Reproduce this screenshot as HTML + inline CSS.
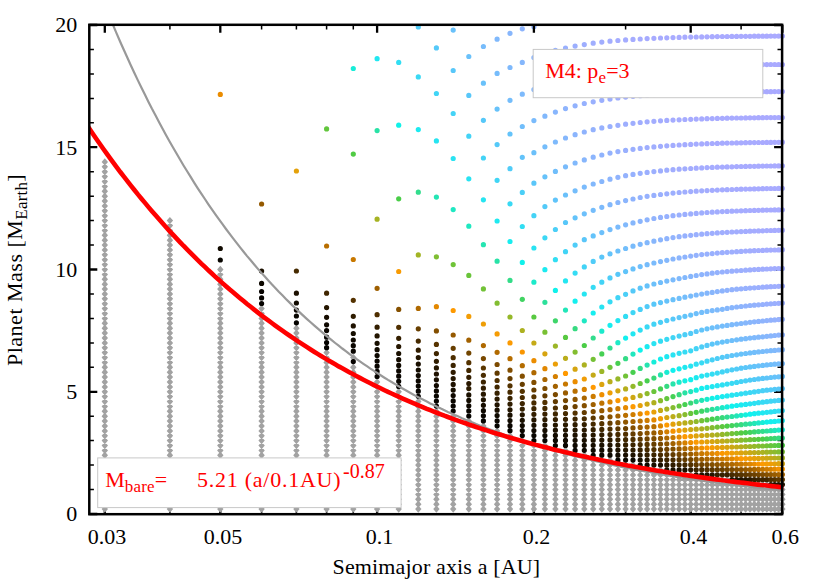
<!DOCTYPE html>
<html><head><meta charset="utf-8"><title>Planet Mass vs Semimajor axis</title>
<style>
html,body{margin:0;padding:0;background:#fff}
body{width:830px;height:581px;position:relative;overflow:hidden;font-family:"Liberation Serif",serif;color:#000}
.t{position:absolute;white-space:nowrap;font-size:22px;line-height:22px}
.yt{text-align:right;width:60px;left:17.3px}
.xt{text-align:center;width:80px;top:525.8px}
.r{color:#ff0000}
sub{font-size:17px;letter-spacing:0.2px;vertical-align:baseline;position:relative;top:5px;line-height:0}
sup{font-size:20px;vertical-align:baseline;position:relative;top:-9px;line-height:0}
</style></head><body>
<svg width="830" height="581" viewBox="0 0 830 581" style="position:absolute;left:0;top:0">
<defs><clipPath id="c"><rect x="89.3" y="20.8" width="696.8" height="493.4"/></clipPath><clipPath id="c2"><rect x="89.3" y="24.8" width="694.0" height="489.4"/></clipPath></defs>
<rect width="830" height="581" fill="#fff"/>
<path stroke="#000" stroke-width="2.3" d="M104.8 514.2v-8M220.3 514.2v-8M377.1 514.2v-8M533.9 514.2v-8M690.7 514.2v-8M782.4 514.2v-8"/>
<path stroke="#000" stroke-width="1.5" d="M169.9 514.2v-4.6M261.6 514.2v-4.6M296.4 514.2v-4.6M326.6 514.2v-4.6M353.3 514.2v-4.6M625.6 514.2v-4.6M741.1 514.2v-4.6"/>
<path stroke="#000" stroke-width="2.3" d="M89.3 514.0h8.0M782.1 514.0h-8.0M89.3 391.8h8.0M782.1 391.8h-8.0M89.3 269.5h8.0M782.1 269.5h-8.0M89.3 147.2h8.0M782.1 147.2h-8.0M89.3 25.0h8.0M782.1 25.0h-8.0"/>
<path stroke="#000" stroke-width="1.5" d="M89.3 489.6h4.6M782.1 489.6h-4.6M89.3 465.1h4.6M782.1 465.1h-4.6M89.3 440.6h4.6M782.1 440.6h-4.6M89.3 416.2h4.6M782.1 416.2h-4.6M89.3 367.3h4.6M782.1 367.3h-4.6M89.3 342.9h4.6M782.1 342.9h-4.6M89.3 318.4h4.6M782.1 318.4h-4.6M89.3 294.0h4.6M782.1 294.0h-4.6M89.3 245.1h4.6M782.1 245.1h-4.6M89.3 220.6h4.6M782.1 220.6h-4.6M89.3 196.2h4.6M782.1 196.2h-4.6M89.3 171.7h4.6M782.1 171.7h-4.6M89.3 122.8h4.6M782.1 122.8h-4.6M89.3 98.4h4.6M782.1 98.4h-4.6M89.3 73.9h4.6M782.1 73.9h-4.6M89.3 49.4h4.6M782.1 49.4h-4.6"/>
<g clip-path="url(#c)"><path fill="#a2a2a2" d="M104.8 505.4l3.2 3.7l-3.2 3.7l-3.2 -3.7zM104.8 500.5l3.2 3.7l-3.2 3.7l-3.2 -3.7zM104.8 495.6l3.2 3.7l-3.2 3.7l-3.2 -3.7zM104.8 490.7l3.2 3.7l-3.2 3.7l-3.2 -3.7zM104.8 485.9l3.2 3.7l-3.2 3.7l-3.2 -3.7zM104.8 481.0l3.2 3.7l-3.2 3.7l-3.2 -3.7zM104.8 476.1l3.2 3.7l-3.2 3.7l-3.2 -3.7zM104.8 471.2l3.2 3.7l-3.2 3.7l-3.2 -3.7zM104.8 466.3l3.2 3.7l-3.2 3.7l-3.2 -3.7zM104.8 461.4l3.2 3.7l-3.2 3.7l-3.2 -3.7zM104.8 456.5l3.2 3.7l-3.2 3.7l-3.2 -3.7zM104.8 451.6l3.2 3.7l-3.2 3.7l-3.2 -3.7zM104.8 446.7l3.2 3.7l-3.2 3.7l-3.2 -3.7zM104.8 441.8l3.2 3.7l-3.2 3.7l-3.2 -3.7zM104.8 436.9l3.2 3.7l-3.2 3.7l-3.2 -3.7zM104.8 432.1l3.2 3.7l-3.2 3.7l-3.2 -3.7zM104.8 427.2l3.2 3.7l-3.2 3.7l-3.2 -3.7zM104.8 422.3l3.2 3.7l-3.2 3.7l-3.2 -3.7zM104.8 417.4l3.2 3.7l-3.2 3.7l-3.2 -3.7zM104.8 412.5l3.2 3.7l-3.2 3.7l-3.2 -3.7zM104.8 407.6l3.2 3.7l-3.2 3.7l-3.2 -3.7zM104.8 402.7l3.2 3.7l-3.2 3.7l-3.2 -3.7zM104.8 397.8l3.2 3.7l-3.2 3.7l-3.2 -3.7zM104.8 392.9l3.2 3.7l-3.2 3.7l-3.2 -3.7zM104.8 388.1l3.2 3.7l-3.2 3.7l-3.2 -3.7zM104.8 383.2l3.2 3.7l-3.2 3.7l-3.2 -3.7zM104.8 378.3l3.2 3.7l-3.2 3.7l-3.2 -3.7zM104.8 373.4l3.2 3.7l-3.2 3.7l-3.2 -3.7zM104.8 368.5l3.2 3.7l-3.2 3.7l-3.2 -3.7zM104.8 363.6l3.2 3.7l-3.2 3.7l-3.2 -3.7zM104.8 358.7l3.2 3.7l-3.2 3.7l-3.2 -3.7zM104.8 353.8l3.2 3.7l-3.2 3.7l-3.2 -3.7zM104.8 348.9l3.2 3.7l-3.2 3.7l-3.2 -3.7zM104.8 344.0l3.2 3.7l-3.2 3.7l-3.2 -3.7zM104.8 339.2l3.2 3.7l-3.2 3.7l-3.2 -3.7zM104.8 334.3l3.2 3.7l-3.2 3.7l-3.2 -3.7zM104.8 329.4l3.2 3.7l-3.2 3.7l-3.2 -3.7zM104.8 324.5l3.2 3.7l-3.2 3.7l-3.2 -3.7zM104.8 319.6l3.2 3.7l-3.2 3.7l-3.2 -3.7zM104.8 314.7l3.2 3.7l-3.2 3.7l-3.2 -3.7zM104.8 309.8l3.2 3.7l-3.2 3.7l-3.2 -3.7zM104.8 304.9l3.2 3.7l-3.2 3.7l-3.2 -3.7zM104.8 300.0l3.2 3.7l-3.2 3.7l-3.2 -3.7zM104.8 295.1l3.2 3.7l-3.2 3.7l-3.2 -3.7zM104.8 290.3l3.2 3.7l-3.2 3.7l-3.2 -3.7zM104.8 285.4l3.2 3.7l-3.2 3.7l-3.2 -3.7zM104.8 280.5l3.2 3.7l-3.2 3.7l-3.2 -3.7zM104.8 275.6l3.2 3.7l-3.2 3.7l-3.2 -3.7zM104.8 270.7l3.2 3.7l-3.2 3.7l-3.2 -3.7zM104.8 265.8l3.2 3.7l-3.2 3.7l-3.2 -3.7zM104.8 260.9l3.2 3.7l-3.2 3.7l-3.2 -3.7zM104.8 256.0l3.2 3.7l-3.2 3.7l-3.2 -3.7zM104.8 251.1l3.2 3.7l-3.2 3.7l-3.2 -3.7zM104.8 246.2l3.2 3.7l-3.2 3.7l-3.2 -3.7zM104.8 241.4l3.2 3.7l-3.2 3.7l-3.2 -3.7zM104.8 236.5l3.2 3.7l-3.2 3.7l-3.2 -3.7zM104.8 231.6l3.2 3.7l-3.2 3.7l-3.2 -3.7zM104.8 226.7l3.2 3.7l-3.2 3.7l-3.2 -3.7zM104.8 221.8l3.2 3.7l-3.2 3.7l-3.2 -3.7zM104.8 216.9l3.2 3.7l-3.2 3.7l-3.2 -3.7zM104.8 212.0l3.2 3.7l-3.2 3.7l-3.2 -3.7zM104.8 207.1l3.2 3.7l-3.2 3.7l-3.2 -3.7zM104.8 202.2l3.2 3.7l-3.2 3.7l-3.2 -3.7zM104.8 197.3l3.2 3.7l-3.2 3.7l-3.2 -3.7zM104.8 192.5l3.2 3.7l-3.2 3.7l-3.2 -3.7zM104.8 187.6l3.2 3.7l-3.2 3.7l-3.2 -3.7zM104.8 182.7l3.2 3.7l-3.2 3.7l-3.2 -3.7zM104.8 177.8l3.2 3.7l-3.2 3.7l-3.2 -3.7zM104.8 172.9l3.2 3.7l-3.2 3.7l-3.2 -3.7zM104.8 168.0l3.2 3.7l-3.2 3.7l-3.2 -3.7zM104.8 163.1l3.2 3.7l-3.2 3.7l-3.2 -3.7zM104.8 158.2l3.2 3.7l-3.2 3.7l-3.2 -3.7zM169.9 505.4l3.2 3.7l-3.2 3.7l-3.2 -3.7zM169.9 500.5l3.2 3.7l-3.2 3.7l-3.2 -3.7zM169.9 495.6l3.2 3.7l-3.2 3.7l-3.2 -3.7zM169.9 490.7l3.2 3.7l-3.2 3.7l-3.2 -3.7zM169.9 485.9l3.2 3.7l-3.2 3.7l-3.2 -3.7zM169.9 481.0l3.2 3.7l-3.2 3.7l-3.2 -3.7zM169.9 476.1l3.2 3.7l-3.2 3.7l-3.2 -3.7zM169.9 471.2l3.2 3.7l-3.2 3.7l-3.2 -3.7zM169.9 466.3l3.2 3.7l-3.2 3.7l-3.2 -3.7zM169.9 461.4l3.2 3.7l-3.2 3.7l-3.2 -3.7zM169.9 456.5l3.2 3.7l-3.2 3.7l-3.2 -3.7zM169.9 451.6l3.2 3.7l-3.2 3.7l-3.2 -3.7zM169.9 446.7l3.2 3.7l-3.2 3.7l-3.2 -3.7zM169.9 441.8l3.2 3.7l-3.2 3.7l-3.2 -3.7zM169.9 436.9l3.2 3.7l-3.2 3.7l-3.2 -3.7zM169.9 432.1l3.2 3.7l-3.2 3.7l-3.2 -3.7zM169.9 427.2l3.2 3.7l-3.2 3.7l-3.2 -3.7zM169.9 422.3l3.2 3.7l-3.2 3.7l-3.2 -3.7zM169.9 417.4l3.2 3.7l-3.2 3.7l-3.2 -3.7zM169.9 412.5l3.2 3.7l-3.2 3.7l-3.2 -3.7zM169.9 407.6l3.2 3.7l-3.2 3.7l-3.2 -3.7zM169.9 402.7l3.2 3.7l-3.2 3.7l-3.2 -3.7zM169.9 397.8l3.2 3.7l-3.2 3.7l-3.2 -3.7zM169.9 392.9l3.2 3.7l-3.2 3.7l-3.2 -3.7zM169.9 388.1l3.2 3.7l-3.2 3.7l-3.2 -3.7zM169.9 383.2l3.2 3.7l-3.2 3.7l-3.2 -3.7zM169.9 378.3l3.2 3.7l-3.2 3.7l-3.2 -3.7zM169.9 373.4l3.2 3.7l-3.2 3.7l-3.2 -3.7zM169.9 368.5l3.2 3.7l-3.2 3.7l-3.2 -3.7zM169.9 363.6l3.2 3.7l-3.2 3.7l-3.2 -3.7zM169.9 358.7l3.2 3.7l-3.2 3.7l-3.2 -3.7zM169.9 353.8l3.2 3.7l-3.2 3.7l-3.2 -3.7zM169.9 348.9l3.2 3.7l-3.2 3.7l-3.2 -3.7zM169.9 344.0l3.2 3.7l-3.2 3.7l-3.2 -3.7zM169.9 339.2l3.2 3.7l-3.2 3.7l-3.2 -3.7zM169.9 334.3l3.2 3.7l-3.2 3.7l-3.2 -3.7zM169.9 329.4l3.2 3.7l-3.2 3.7l-3.2 -3.7zM169.9 324.5l3.2 3.7l-3.2 3.7l-3.2 -3.7zM169.9 319.6l3.2 3.7l-3.2 3.7l-3.2 -3.7zM169.9 314.7l3.2 3.7l-3.2 3.7l-3.2 -3.7zM169.9 309.8l3.2 3.7l-3.2 3.7l-3.2 -3.7zM169.9 304.9l3.2 3.7l-3.2 3.7l-3.2 -3.7zM169.9 300.0l3.2 3.7l-3.2 3.7l-3.2 -3.7zM169.9 295.1l3.2 3.7l-3.2 3.7l-3.2 -3.7zM169.9 290.3l3.2 3.7l-3.2 3.7l-3.2 -3.7zM169.9 285.4l3.2 3.7l-3.2 3.7l-3.2 -3.7zM169.9 280.5l3.2 3.7l-3.2 3.7l-3.2 -3.7zM169.9 275.6l3.2 3.7l-3.2 3.7l-3.2 -3.7zM169.9 270.7l3.2 3.7l-3.2 3.7l-3.2 -3.7zM169.9 265.8l3.2 3.7l-3.2 3.7l-3.2 -3.7zM169.9 260.9l3.2 3.7l-3.2 3.7l-3.2 -3.7zM169.9 256.0l3.2 3.7l-3.2 3.7l-3.2 -3.7zM169.9 251.1l3.2 3.7l-3.2 3.7l-3.2 -3.7zM169.9 246.2l3.2 3.7l-3.2 3.7l-3.2 -3.7zM169.9 241.4l3.2 3.7l-3.2 3.7l-3.2 -3.7zM169.9 236.5l3.2 3.7l-3.2 3.7l-3.2 -3.7zM169.9 231.6l3.2 3.7l-3.2 3.7l-3.2 -3.7zM169.9 226.7l3.2 3.7l-3.2 3.7l-3.2 -3.7zM169.9 221.8l3.2 3.7l-3.2 3.7l-3.2 -3.7zM169.9 216.9l3.2 3.7l-3.2 3.7l-3.2 -3.7zM220.3 505.4l3.2 3.7l-3.2 3.7l-3.2 -3.7zM220.3 500.5l3.2 3.7l-3.2 3.7l-3.2 -3.7zM220.3 495.6l3.2 3.7l-3.2 3.7l-3.2 -3.7zM220.3 490.7l3.2 3.7l-3.2 3.7l-3.2 -3.7zM220.3 485.9l3.2 3.7l-3.2 3.7l-3.2 -3.7zM220.3 481.0l3.2 3.7l-3.2 3.7l-3.2 -3.7zM220.3 476.1l3.2 3.7l-3.2 3.7l-3.2 -3.7zM220.3 471.2l3.2 3.7l-3.2 3.7l-3.2 -3.7zM220.3 466.3l3.2 3.7l-3.2 3.7l-3.2 -3.7zM220.3 461.4l3.2 3.7l-3.2 3.7l-3.2 -3.7zM220.3 456.5l3.2 3.7l-3.2 3.7l-3.2 -3.7zM220.3 451.6l3.2 3.7l-3.2 3.7l-3.2 -3.7zM220.3 446.7l3.2 3.7l-3.2 3.7l-3.2 -3.7zM220.3 441.8l3.2 3.7l-3.2 3.7l-3.2 -3.7zM220.3 436.9l3.2 3.7l-3.2 3.7l-3.2 -3.7zM220.3 432.1l3.2 3.7l-3.2 3.7l-3.2 -3.7zM220.3 427.2l3.2 3.7l-3.2 3.7l-3.2 -3.7zM220.3 422.3l3.2 3.7l-3.2 3.7l-3.2 -3.7zM220.3 417.4l3.2 3.7l-3.2 3.7l-3.2 -3.7zM220.3 412.5l3.2 3.7l-3.2 3.7l-3.2 -3.7zM220.3 407.6l3.2 3.7l-3.2 3.7l-3.2 -3.7zM220.3 402.7l3.2 3.7l-3.2 3.7l-3.2 -3.7zM220.3 397.8l3.2 3.7l-3.2 3.7l-3.2 -3.7zM220.3 392.9l3.2 3.7l-3.2 3.7l-3.2 -3.7zM220.3 388.1l3.2 3.7l-3.2 3.7l-3.2 -3.7zM220.3 383.2l3.2 3.7l-3.2 3.7l-3.2 -3.7zM220.3 378.3l3.2 3.7l-3.2 3.7l-3.2 -3.7zM220.3 373.4l3.2 3.7l-3.2 3.7l-3.2 -3.7zM220.3 368.5l3.2 3.7l-3.2 3.7l-3.2 -3.7zM220.3 363.6l3.2 3.7l-3.2 3.7l-3.2 -3.7zM220.3 358.7l3.2 3.7l-3.2 3.7l-3.2 -3.7zM220.3 353.8l3.2 3.7l-3.2 3.7l-3.2 -3.7zM220.3 348.9l3.2 3.7l-3.2 3.7l-3.2 -3.7zM220.3 344.0l3.2 3.7l-3.2 3.7l-3.2 -3.7zM220.3 339.2l3.2 3.7l-3.2 3.7l-3.2 -3.7zM220.3 334.3l3.2 3.7l-3.2 3.7l-3.2 -3.7zM220.3 329.4l3.2 3.7l-3.2 3.7l-3.2 -3.7zM220.3 324.5l3.2 3.7l-3.2 3.7l-3.2 -3.7zM220.3 319.6l3.2 3.7l-3.2 3.7l-3.2 -3.7zM220.3 314.7l3.2 3.7l-3.2 3.7l-3.2 -3.7zM220.3 309.8l3.2 3.7l-3.2 3.7l-3.2 -3.7zM220.3 304.9l3.2 3.7l-3.2 3.7l-3.2 -3.7zM220.3 300.0l3.2 3.7l-3.2 3.7l-3.2 -3.7zM220.3 295.1l3.2 3.7l-3.2 3.7l-3.2 -3.7zM220.3 290.3l3.2 3.7l-3.2 3.7l-3.2 -3.7zM220.3 285.4l3.2 3.7l-3.2 3.7l-3.2 -3.7zM220.3 280.5l3.2 3.7l-3.2 3.7l-3.2 -3.7zM220.3 275.6l3.2 3.7l-3.2 3.7l-3.2 -3.7zM220.3 270.7l3.2 3.7l-3.2 3.7l-3.2 -3.7zM220.3 265.8l3.2 3.7l-3.2 3.7l-3.2 -3.7zM261.6 505.4l3.2 3.7l-3.2 3.7l-3.2 -3.7zM261.6 500.5l3.2 3.7l-3.2 3.7l-3.2 -3.7zM261.6 495.6l3.2 3.7l-3.2 3.7l-3.2 -3.7zM261.6 490.7l3.2 3.7l-3.2 3.7l-3.2 -3.7zM261.6 485.9l3.2 3.7l-3.2 3.7l-3.2 -3.7zM261.6 481.0l3.2 3.7l-3.2 3.7l-3.2 -3.7zM261.6 476.1l3.2 3.7l-3.2 3.7l-3.2 -3.7zM261.6 471.2l3.2 3.7l-3.2 3.7l-3.2 -3.7zM261.6 466.3l3.2 3.7l-3.2 3.7l-3.2 -3.7zM261.6 461.4l3.2 3.7l-3.2 3.7l-3.2 -3.7zM261.6 456.5l3.2 3.7l-3.2 3.7l-3.2 -3.7zM261.6 451.6l3.2 3.7l-3.2 3.7l-3.2 -3.7zM261.6 446.7l3.2 3.7l-3.2 3.7l-3.2 -3.7zM261.6 441.8l3.2 3.7l-3.2 3.7l-3.2 -3.7zM261.6 436.9l3.2 3.7l-3.2 3.7l-3.2 -3.7zM261.6 432.1l3.2 3.7l-3.2 3.7l-3.2 -3.7zM261.6 427.2l3.2 3.7l-3.2 3.7l-3.2 -3.7zM261.6 422.3l3.2 3.7l-3.2 3.7l-3.2 -3.7zM261.6 417.4l3.2 3.7l-3.2 3.7l-3.2 -3.7zM261.6 412.5l3.2 3.7l-3.2 3.7l-3.2 -3.7zM261.6 407.6l3.2 3.7l-3.2 3.7l-3.2 -3.7zM261.6 402.7l3.2 3.7l-3.2 3.7l-3.2 -3.7zM261.6 397.8l3.2 3.7l-3.2 3.7l-3.2 -3.7zM261.6 392.9l3.2 3.7l-3.2 3.7l-3.2 -3.7zM261.6 388.1l3.2 3.7l-3.2 3.7l-3.2 -3.7zM261.6 383.2l3.2 3.7l-3.2 3.7l-3.2 -3.7zM261.6 378.3l3.2 3.7l-3.2 3.7l-3.2 -3.7zM261.6 373.4l3.2 3.7l-3.2 3.7l-3.2 -3.7zM261.6 368.5l3.2 3.7l-3.2 3.7l-3.2 -3.7zM261.6 363.6l3.2 3.7l-3.2 3.7l-3.2 -3.7zM261.6 358.7l3.2 3.7l-3.2 3.7l-3.2 -3.7zM261.6 353.8l3.2 3.7l-3.2 3.7l-3.2 -3.7zM261.6 348.9l3.2 3.7l-3.2 3.7l-3.2 -3.7zM261.6 344.0l3.2 3.7l-3.2 3.7l-3.2 -3.7zM261.6 339.2l3.2 3.7l-3.2 3.7l-3.2 -3.7zM261.6 334.3l3.2 3.7l-3.2 3.7l-3.2 -3.7zM261.6 329.4l3.2 3.7l-3.2 3.7l-3.2 -3.7zM261.6 324.5l3.2 3.7l-3.2 3.7l-3.2 -3.7zM261.6 319.6l3.2 3.7l-3.2 3.7l-3.2 -3.7zM261.6 314.7l3.2 3.7l-3.2 3.7l-3.2 -3.7zM261.6 309.8l3.2 3.7l-3.2 3.7l-3.2 -3.7zM261.6 304.9l3.2 3.7l-3.2 3.7l-3.2 -3.7zM296.4 505.4l3.2 3.7l-3.2 3.7l-3.2 -3.7zM296.4 500.5l3.2 3.7l-3.2 3.7l-3.2 -3.7zM296.4 495.6l3.2 3.7l-3.2 3.7l-3.2 -3.7zM296.4 490.7l3.2 3.7l-3.2 3.7l-3.2 -3.7zM296.4 485.9l3.2 3.7l-3.2 3.7l-3.2 -3.7zM296.4 481.0l3.2 3.7l-3.2 3.7l-3.2 -3.7zM296.4 476.1l3.2 3.7l-3.2 3.7l-3.2 -3.7zM296.4 471.2l3.2 3.7l-3.2 3.7l-3.2 -3.7zM296.4 466.3l3.2 3.7l-3.2 3.7l-3.2 -3.7zM296.4 461.4l3.2 3.7l-3.2 3.7l-3.2 -3.7zM296.4 456.5l3.2 3.7l-3.2 3.7l-3.2 -3.7zM296.4 451.6l3.2 3.7l-3.2 3.7l-3.2 -3.7zM296.4 446.7l3.2 3.7l-3.2 3.7l-3.2 -3.7zM296.4 441.8l3.2 3.7l-3.2 3.7l-3.2 -3.7zM296.4 436.9l3.2 3.7l-3.2 3.7l-3.2 -3.7zM296.4 432.1l3.2 3.7l-3.2 3.7l-3.2 -3.7zM296.4 427.2l3.2 3.7l-3.2 3.7l-3.2 -3.7zM296.4 422.3l3.2 3.7l-3.2 3.7l-3.2 -3.7zM296.4 417.4l3.2 3.7l-3.2 3.7l-3.2 -3.7zM296.4 412.5l3.2 3.7l-3.2 3.7l-3.2 -3.7zM296.4 407.6l3.2 3.7l-3.2 3.7l-3.2 -3.7zM296.4 402.7l3.2 3.7l-3.2 3.7l-3.2 -3.7zM296.4 397.8l3.2 3.7l-3.2 3.7l-3.2 -3.7zM296.4 392.9l3.2 3.7l-3.2 3.7l-3.2 -3.7zM296.4 388.1l3.2 3.7l-3.2 3.7l-3.2 -3.7zM296.4 383.2l3.2 3.7l-3.2 3.7l-3.2 -3.7zM296.4 378.3l3.2 3.7l-3.2 3.7l-3.2 -3.7zM296.4 373.4l3.2 3.7l-3.2 3.7l-3.2 -3.7zM296.4 368.5l3.2 3.7l-3.2 3.7l-3.2 -3.7zM296.4 363.6l3.2 3.7l-3.2 3.7l-3.2 -3.7zM296.4 358.7l3.2 3.7l-3.2 3.7l-3.2 -3.7zM296.4 353.8l3.2 3.7l-3.2 3.7l-3.2 -3.7zM296.4 348.9l3.2 3.7l-3.2 3.7l-3.2 -3.7zM296.4 344.0l3.2 3.7l-3.2 3.7l-3.2 -3.7zM296.4 339.2l3.2 3.7l-3.2 3.7l-3.2 -3.7zM296.4 334.3l3.2 3.7l-3.2 3.7l-3.2 -3.7zM296.4 329.4l3.2 3.7l-3.2 3.7l-3.2 -3.7zM296.4 324.5l3.2 3.7l-3.2 3.7l-3.2 -3.7zM326.6 505.4l3.2 3.7l-3.2 3.7l-3.2 -3.7zM326.6 500.5l3.2 3.7l-3.2 3.7l-3.2 -3.7zM326.6 495.6l3.2 3.7l-3.2 3.7l-3.2 -3.7zM326.6 490.7l3.2 3.7l-3.2 3.7l-3.2 -3.7zM326.6 485.9l3.2 3.7l-3.2 3.7l-3.2 -3.7zM326.6 481.0l3.2 3.7l-3.2 3.7l-3.2 -3.7zM326.6 476.1l3.2 3.7l-3.2 3.7l-3.2 -3.7zM326.6 471.2l3.2 3.7l-3.2 3.7l-3.2 -3.7zM326.6 466.3l3.2 3.7l-3.2 3.7l-3.2 -3.7zM326.6 461.4l3.2 3.7l-3.2 3.7l-3.2 -3.7zM326.6 456.5l3.2 3.7l-3.2 3.7l-3.2 -3.7zM326.6 451.6l3.2 3.7l-3.2 3.7l-3.2 -3.7zM326.6 446.7l3.2 3.7l-3.2 3.7l-3.2 -3.7zM326.6 441.8l3.2 3.7l-3.2 3.7l-3.2 -3.7zM326.6 436.9l3.2 3.7l-3.2 3.7l-3.2 -3.7zM326.6 432.1l3.2 3.7l-3.2 3.7l-3.2 -3.7zM326.6 427.2l3.2 3.7l-3.2 3.7l-3.2 -3.7zM326.6 422.3l3.2 3.7l-3.2 3.7l-3.2 -3.7zM326.6 417.4l3.2 3.7l-3.2 3.7l-3.2 -3.7zM326.6 412.5l3.2 3.7l-3.2 3.7l-3.2 -3.7zM326.6 407.6l3.2 3.7l-3.2 3.7l-3.2 -3.7zM326.6 402.7l3.2 3.7l-3.2 3.7l-3.2 -3.7zM326.6 397.8l3.2 3.7l-3.2 3.7l-3.2 -3.7zM326.6 392.9l3.2 3.7l-3.2 3.7l-3.2 -3.7zM326.6 388.1l3.2 3.7l-3.2 3.7l-3.2 -3.7zM326.6 383.2l3.2 3.7l-3.2 3.7l-3.2 -3.7zM326.6 378.3l3.2 3.7l-3.2 3.7l-3.2 -3.7zM326.6 373.4l3.2 3.7l-3.2 3.7l-3.2 -3.7zM326.6 368.5l3.2 3.7l-3.2 3.7l-3.2 -3.7zM326.6 363.6l3.2 3.7l-3.2 3.7l-3.2 -3.7zM326.6 358.7l3.2 3.7l-3.2 3.7l-3.2 -3.7zM326.6 353.8l3.2 3.7l-3.2 3.7l-3.2 -3.7zM326.6 348.9l3.2 3.7l-3.2 3.7l-3.2 -3.7zM353.3 505.4l3.2 3.7l-3.2 3.7l-3.2 -3.7zM353.3 500.5l3.2 3.7l-3.2 3.7l-3.2 -3.7zM353.3 495.6l3.2 3.7l-3.2 3.7l-3.2 -3.7zM353.3 490.7l3.2 3.7l-3.2 3.7l-3.2 -3.7zM353.3 485.9l3.2 3.7l-3.2 3.7l-3.2 -3.7zM353.3 481.0l3.2 3.7l-3.2 3.7l-3.2 -3.7zM353.3 476.1l3.2 3.7l-3.2 3.7l-3.2 -3.7zM353.3 471.2l3.2 3.7l-3.2 3.7l-3.2 -3.7zM353.3 466.3l3.2 3.7l-3.2 3.7l-3.2 -3.7zM353.3 461.4l3.2 3.7l-3.2 3.7l-3.2 -3.7zM353.3 456.5l3.2 3.7l-3.2 3.7l-3.2 -3.7zM353.3 451.6l3.2 3.7l-3.2 3.7l-3.2 -3.7zM353.3 446.7l3.2 3.7l-3.2 3.7l-3.2 -3.7zM353.3 441.8l3.2 3.7l-3.2 3.7l-3.2 -3.7zM353.3 436.9l3.2 3.7l-3.2 3.7l-3.2 -3.7zM353.3 432.1l3.2 3.7l-3.2 3.7l-3.2 -3.7zM353.3 427.2l3.2 3.7l-3.2 3.7l-3.2 -3.7zM353.3 422.3l3.2 3.7l-3.2 3.7l-3.2 -3.7zM353.3 417.4l3.2 3.7l-3.2 3.7l-3.2 -3.7zM353.3 412.5l3.2 3.7l-3.2 3.7l-3.2 -3.7zM353.3 407.6l3.2 3.7l-3.2 3.7l-3.2 -3.7zM353.3 402.7l3.2 3.7l-3.2 3.7l-3.2 -3.7zM353.3 397.8l3.2 3.7l-3.2 3.7l-3.2 -3.7zM353.3 392.9l3.2 3.7l-3.2 3.7l-3.2 -3.7zM353.3 388.1l3.2 3.7l-3.2 3.7l-3.2 -3.7zM353.3 383.2l3.2 3.7l-3.2 3.7l-3.2 -3.7zM353.3 378.3l3.2 3.7l-3.2 3.7l-3.2 -3.7zM353.3 373.4l3.2 3.7l-3.2 3.7l-3.2 -3.7zM353.3 368.5l3.2 3.7l-3.2 3.7l-3.2 -3.7zM353.3 363.6l3.2 3.7l-3.2 3.7l-3.2 -3.7zM353.3 353.8l3.2 3.7l-3.2 3.7l-3.2 -3.7zM377.1 505.4l3.2 3.7l-3.2 3.7l-3.2 -3.7zM377.1 500.5l3.2 3.7l-3.2 3.7l-3.2 -3.7zM377.1 495.6l3.2 3.7l-3.2 3.7l-3.2 -3.7zM377.1 490.7l3.2 3.7l-3.2 3.7l-3.2 -3.7zM377.1 485.9l3.2 3.7l-3.2 3.7l-3.2 -3.7zM377.1 481.0l3.2 3.7l-3.2 3.7l-3.2 -3.7zM377.1 476.1l3.2 3.7l-3.2 3.7l-3.2 -3.7zM377.1 471.2l3.2 3.7l-3.2 3.7l-3.2 -3.7zM377.1 466.3l3.2 3.7l-3.2 3.7l-3.2 -3.7zM377.1 461.4l3.2 3.7l-3.2 3.7l-3.2 -3.7zM377.1 456.5l3.2 3.7l-3.2 3.7l-3.2 -3.7zM377.1 451.6l3.2 3.7l-3.2 3.7l-3.2 -3.7zM377.1 446.7l3.2 3.7l-3.2 3.7l-3.2 -3.7zM377.1 441.8l3.2 3.7l-3.2 3.7l-3.2 -3.7zM377.1 436.9l3.2 3.7l-3.2 3.7l-3.2 -3.7zM377.1 432.1l3.2 3.7l-3.2 3.7l-3.2 -3.7zM377.1 427.2l3.2 3.7l-3.2 3.7l-3.2 -3.7zM377.1 422.3l3.2 3.7l-3.2 3.7l-3.2 -3.7zM377.1 417.4l3.2 3.7l-3.2 3.7l-3.2 -3.7zM377.1 412.5l3.2 3.7l-3.2 3.7l-3.2 -3.7zM377.1 407.6l3.2 3.7l-3.2 3.7l-3.2 -3.7zM377.1 402.7l3.2 3.7l-3.2 3.7l-3.2 -3.7zM377.1 397.8l3.2 3.7l-3.2 3.7l-3.2 -3.7zM377.1 392.9l3.2 3.7l-3.2 3.7l-3.2 -3.7zM377.1 388.1l3.2 3.7l-3.2 3.7l-3.2 -3.7zM377.1 383.2l3.2 3.7l-3.2 3.7l-3.2 -3.7zM377.1 378.3l3.2 3.7l-3.2 3.7l-3.2 -3.7zM398.7 505.4l3.2 3.7l-3.2 3.7l-3.2 -3.7zM398.7 500.5l3.2 3.7l-3.2 3.7l-3.2 -3.7zM398.7 495.6l3.2 3.7l-3.2 3.7l-3.2 -3.7zM398.7 490.7l3.2 3.7l-3.2 3.7l-3.2 -3.7zM398.7 485.9l3.2 3.7l-3.2 3.7l-3.2 -3.7zM398.7 481.0l3.2 3.7l-3.2 3.7l-3.2 -3.7zM398.7 476.1l3.2 3.7l-3.2 3.7l-3.2 -3.7zM398.7 471.2l3.2 3.7l-3.2 3.7l-3.2 -3.7zM398.7 466.3l3.2 3.7l-3.2 3.7l-3.2 -3.7zM398.7 461.4l3.2 3.7l-3.2 3.7l-3.2 -3.7zM398.7 456.5l3.2 3.7l-3.2 3.7l-3.2 -3.7zM398.7 451.6l3.2 3.7l-3.2 3.7l-3.2 -3.7zM398.7 446.7l3.2 3.7l-3.2 3.7l-3.2 -3.7zM398.7 441.8l3.2 3.7l-3.2 3.7l-3.2 -3.7zM398.7 436.9l3.2 3.7l-3.2 3.7l-3.2 -3.7zM398.7 432.1l3.2 3.7l-3.2 3.7l-3.2 -3.7zM398.7 427.2l3.2 3.7l-3.2 3.7l-3.2 -3.7zM398.7 422.3l3.2 3.7l-3.2 3.7l-3.2 -3.7zM398.7 417.4l3.2 3.7l-3.2 3.7l-3.2 -3.7zM398.7 412.5l3.2 3.7l-3.2 3.7l-3.2 -3.7zM398.7 407.6l3.2 3.7l-3.2 3.7l-3.2 -3.7zM398.7 402.7l3.2 3.7l-3.2 3.7l-3.2 -3.7zM398.7 397.8l3.2 3.7l-3.2 3.7l-3.2 -3.7zM398.7 392.9l3.2 3.7l-3.2 3.7l-3.2 -3.7zM398.7 388.1l3.2 3.7l-3.2 3.7l-3.2 -3.7zM418.3 505.4l3.2 3.7l-3.2 3.7l-3.2 -3.7zM418.3 500.5l3.2 3.7l-3.2 3.7l-3.2 -3.7zM418.3 495.6l3.2 3.7l-3.2 3.7l-3.2 -3.7zM418.3 490.7l3.2 3.7l-3.2 3.7l-3.2 -3.7zM418.3 485.9l3.2 3.7l-3.2 3.7l-3.2 -3.7zM418.3 481.0l3.2 3.7l-3.2 3.7l-3.2 -3.7zM418.3 476.1l3.2 3.7l-3.2 3.7l-3.2 -3.7zM418.3 471.2l3.2 3.7l-3.2 3.7l-3.2 -3.7zM418.3 466.3l3.2 3.7l-3.2 3.7l-3.2 -3.7zM418.3 461.4l3.2 3.7l-3.2 3.7l-3.2 -3.7zM418.3 456.5l3.2 3.7l-3.2 3.7l-3.2 -3.7zM418.3 451.6l3.2 3.7l-3.2 3.7l-3.2 -3.7zM418.3 446.7l3.2 3.7l-3.2 3.7l-3.2 -3.7zM418.3 441.8l3.2 3.7l-3.2 3.7l-3.2 -3.7zM418.3 436.9l3.2 3.7l-3.2 3.7l-3.2 -3.7zM418.3 432.1l3.2 3.7l-3.2 3.7l-3.2 -3.7zM418.3 427.2l3.2 3.7l-3.2 3.7l-3.2 -3.7zM418.3 422.3l3.2 3.7l-3.2 3.7l-3.2 -3.7zM418.3 417.4l3.2 3.7l-3.2 3.7l-3.2 -3.7zM418.3 412.5l3.2 3.7l-3.2 3.7l-3.2 -3.7zM418.3 407.6l3.2 3.7l-3.2 3.7l-3.2 -3.7zM418.3 402.7l3.2 3.7l-3.2 3.7l-3.2 -3.7zM418.3 397.8l3.2 3.7l-3.2 3.7l-3.2 -3.7zM436.4 505.4l3.2 3.7l-3.2 3.7l-3.2 -3.7zM436.4 500.5l3.2 3.7l-3.2 3.7l-3.2 -3.7zM436.4 495.6l3.2 3.7l-3.2 3.7l-3.2 -3.7zM436.4 490.7l3.2 3.7l-3.2 3.7l-3.2 -3.7zM436.4 485.9l3.2 3.7l-3.2 3.7l-3.2 -3.7zM436.4 481.0l3.2 3.7l-3.2 3.7l-3.2 -3.7zM436.4 476.1l3.2 3.7l-3.2 3.7l-3.2 -3.7zM436.4 471.2l3.2 3.7l-3.2 3.7l-3.2 -3.7zM436.4 466.3l3.2 3.7l-3.2 3.7l-3.2 -3.7zM436.4 461.4l3.2 3.7l-3.2 3.7l-3.2 -3.7zM436.4 456.5l3.2 3.7l-3.2 3.7l-3.2 -3.7zM436.4 451.6l3.2 3.7l-3.2 3.7l-3.2 -3.7zM436.4 446.7l3.2 3.7l-3.2 3.7l-3.2 -3.7zM436.4 441.8l3.2 3.7l-3.2 3.7l-3.2 -3.7zM436.4 436.9l3.2 3.7l-3.2 3.7l-3.2 -3.7zM436.4 432.1l3.2 3.7l-3.2 3.7l-3.2 -3.7zM436.4 427.2l3.2 3.7l-3.2 3.7l-3.2 -3.7zM436.4 422.3l3.2 3.7l-3.2 3.7l-3.2 -3.7zM436.4 417.4l3.2 3.7l-3.2 3.7l-3.2 -3.7zM436.4 412.5l3.2 3.7l-3.2 3.7l-3.2 -3.7zM436.4 407.6l3.2 3.7l-3.2 3.7l-3.2 -3.7zM453.2 505.4l3.2 3.7l-3.2 3.7l-3.2 -3.7zM453.2 500.5l3.2 3.7l-3.2 3.7l-3.2 -3.7zM453.2 495.6l3.2 3.7l-3.2 3.7l-3.2 -3.7zM453.2 490.7l3.2 3.7l-3.2 3.7l-3.2 -3.7zM453.2 485.9l3.2 3.7l-3.2 3.7l-3.2 -3.7zM453.2 481.0l3.2 3.7l-3.2 3.7l-3.2 -3.7zM453.2 476.1l3.2 3.7l-3.2 3.7l-3.2 -3.7zM453.2 471.2l3.2 3.7l-3.2 3.7l-3.2 -3.7zM453.2 466.3l3.2 3.7l-3.2 3.7l-3.2 -3.7zM453.2 461.4l3.2 3.7l-3.2 3.7l-3.2 -3.7zM453.2 456.5l3.2 3.7l-3.2 3.7l-3.2 -3.7zM453.2 451.6l3.2 3.7l-3.2 3.7l-3.2 -3.7zM453.2 446.7l3.2 3.7l-3.2 3.7l-3.2 -3.7zM453.2 441.8l3.2 3.7l-3.2 3.7l-3.2 -3.7zM453.2 436.9l3.2 3.7l-3.2 3.7l-3.2 -3.7zM453.2 432.1l3.2 3.7l-3.2 3.7l-3.2 -3.7zM453.2 427.2l3.2 3.7l-3.2 3.7l-3.2 -3.7zM453.2 422.3l3.2 3.7l-3.2 3.7l-3.2 -3.7zM453.2 417.4l3.2 3.7l-3.2 3.7l-3.2 -3.7zM453.2 412.5l3.2 3.7l-3.2 3.7l-3.2 -3.7zM468.8 505.4l3.2 3.7l-3.2 3.7l-3.2 -3.7zM468.8 500.5l3.2 3.7l-3.2 3.7l-3.2 -3.7zM468.8 495.6l3.2 3.7l-3.2 3.7l-3.2 -3.7zM468.8 490.7l3.2 3.7l-3.2 3.7l-3.2 -3.7zM468.8 485.9l3.2 3.7l-3.2 3.7l-3.2 -3.7zM468.8 481.0l3.2 3.7l-3.2 3.7l-3.2 -3.7zM468.8 476.1l3.2 3.7l-3.2 3.7l-3.2 -3.7zM468.8 471.2l3.2 3.7l-3.2 3.7l-3.2 -3.7zM468.8 466.3l3.2 3.7l-3.2 3.7l-3.2 -3.7zM468.8 461.4l3.2 3.7l-3.2 3.7l-3.2 -3.7zM468.8 456.5l3.2 3.7l-3.2 3.7l-3.2 -3.7zM468.8 451.6l3.2 3.7l-3.2 3.7l-3.2 -3.7zM468.8 446.7l3.2 3.7l-3.2 3.7l-3.2 -3.7zM468.8 441.8l3.2 3.7l-3.2 3.7l-3.2 -3.7zM468.8 436.9l3.2 3.7l-3.2 3.7l-3.2 -3.7zM468.8 432.1l3.2 3.7l-3.2 3.7l-3.2 -3.7zM468.8 427.2l3.2 3.7l-3.2 3.7l-3.2 -3.7zM468.8 422.3l3.2 3.7l-3.2 3.7l-3.2 -3.7zM468.8 417.4l3.2 3.7l-3.2 3.7l-3.2 -3.7zM483.4 505.4l3.2 3.7l-3.2 3.7l-3.2 -3.7zM483.4 500.5l3.2 3.7l-3.2 3.7l-3.2 -3.7zM483.4 495.6l3.2 3.7l-3.2 3.7l-3.2 -3.7zM483.4 490.7l3.2 3.7l-3.2 3.7l-3.2 -3.7zM483.4 485.9l3.2 3.7l-3.2 3.7l-3.2 -3.7zM483.4 481.0l3.2 3.7l-3.2 3.7l-3.2 -3.7zM483.4 476.1l3.2 3.7l-3.2 3.7l-3.2 -3.7zM483.4 471.2l3.2 3.7l-3.2 3.7l-3.2 -3.7zM483.4 466.3l3.2 3.7l-3.2 3.7l-3.2 -3.7zM483.4 461.4l3.2 3.7l-3.2 3.7l-3.2 -3.7zM483.4 456.5l3.2 3.7l-3.2 3.7l-3.2 -3.7zM483.4 451.6l3.2 3.7l-3.2 3.7l-3.2 -3.7zM483.4 446.7l3.2 3.7l-3.2 3.7l-3.2 -3.7zM483.4 441.8l3.2 3.7l-3.2 3.7l-3.2 -3.7zM483.4 436.9l3.2 3.7l-3.2 3.7l-3.2 -3.7zM483.4 432.1l3.2 3.7l-3.2 3.7l-3.2 -3.7zM483.4 427.2l3.2 3.7l-3.2 3.7l-3.2 -3.7zM483.4 422.3l3.2 3.7l-3.2 3.7l-3.2 -3.7zM497.1 505.4l3.2 3.7l-3.2 3.7l-3.2 -3.7zM497.1 500.5l3.2 3.7l-3.2 3.7l-3.2 -3.7zM497.1 495.6l3.2 3.7l-3.2 3.7l-3.2 -3.7zM497.1 490.7l3.2 3.7l-3.2 3.7l-3.2 -3.7zM497.1 485.9l3.2 3.7l-3.2 3.7l-3.2 -3.7zM497.1 481.0l3.2 3.7l-3.2 3.7l-3.2 -3.7zM497.1 476.1l3.2 3.7l-3.2 3.7l-3.2 -3.7zM497.1 471.2l3.2 3.7l-3.2 3.7l-3.2 -3.7zM497.1 466.3l3.2 3.7l-3.2 3.7l-3.2 -3.7zM497.1 461.4l3.2 3.7l-3.2 3.7l-3.2 -3.7zM497.1 456.5l3.2 3.7l-3.2 3.7l-3.2 -3.7zM497.1 451.6l3.2 3.7l-3.2 3.7l-3.2 -3.7zM497.1 446.7l3.2 3.7l-3.2 3.7l-3.2 -3.7zM497.1 441.8l3.2 3.7l-3.2 3.7l-3.2 -3.7zM497.1 436.9l3.2 3.7l-3.2 3.7l-3.2 -3.7zM497.1 432.1l3.2 3.7l-3.2 3.7l-3.2 -3.7zM497.1 427.2l3.2 3.7l-3.2 3.7l-3.2 -3.7zM510.0 505.4l3.2 3.7l-3.2 3.7l-3.2 -3.7zM510.0 500.5l3.2 3.7l-3.2 3.7l-3.2 -3.7zM510.0 495.6l3.2 3.7l-3.2 3.7l-3.2 -3.7zM510.0 490.7l3.2 3.7l-3.2 3.7l-3.2 -3.7zM510.0 485.9l3.2 3.7l-3.2 3.7l-3.2 -3.7zM510.0 481.0l3.2 3.7l-3.2 3.7l-3.2 -3.7zM510.0 476.1l3.2 3.7l-3.2 3.7l-3.2 -3.7zM510.0 471.2l3.2 3.7l-3.2 3.7l-3.2 -3.7zM510.0 466.3l3.2 3.7l-3.2 3.7l-3.2 -3.7zM510.0 461.4l3.2 3.7l-3.2 3.7l-3.2 -3.7zM510.0 456.5l3.2 3.7l-3.2 3.7l-3.2 -3.7zM510.0 451.6l3.2 3.7l-3.2 3.7l-3.2 -3.7zM510.0 446.7l3.2 3.7l-3.2 3.7l-3.2 -3.7zM510.0 441.8l3.2 3.7l-3.2 3.7l-3.2 -3.7zM510.0 436.9l3.2 3.7l-3.2 3.7l-3.2 -3.7zM510.0 432.1l3.2 3.7l-3.2 3.7l-3.2 -3.7zM522.3 505.4l3.2 3.7l-3.2 3.7l-3.2 -3.7zM522.3 500.5l3.2 3.7l-3.2 3.7l-3.2 -3.7zM522.3 495.6l3.2 3.7l-3.2 3.7l-3.2 -3.7zM522.3 490.7l3.2 3.7l-3.2 3.7l-3.2 -3.7zM522.3 485.9l3.2 3.7l-3.2 3.7l-3.2 -3.7zM522.3 481.0l3.2 3.7l-3.2 3.7l-3.2 -3.7zM522.3 476.1l3.2 3.7l-3.2 3.7l-3.2 -3.7zM522.3 471.2l3.2 3.7l-3.2 3.7l-3.2 -3.7zM522.3 466.3l3.2 3.7l-3.2 3.7l-3.2 -3.7zM522.3 461.4l3.2 3.7l-3.2 3.7l-3.2 -3.7zM522.3 456.5l3.2 3.7l-3.2 3.7l-3.2 -3.7zM522.3 451.6l3.2 3.7l-3.2 3.7l-3.2 -3.7zM522.3 446.7l3.2 3.7l-3.2 3.7l-3.2 -3.7zM522.3 441.8l3.2 3.7l-3.2 3.7l-3.2 -3.7zM522.3 436.9l3.2 3.7l-3.2 3.7l-3.2 -3.7zM533.9 505.4l3.2 3.7l-3.2 3.7l-3.2 -3.7zM533.9 500.5l3.2 3.7l-3.2 3.7l-3.2 -3.7zM533.9 495.6l3.2 3.7l-3.2 3.7l-3.2 -3.7zM533.9 490.7l3.2 3.7l-3.2 3.7l-3.2 -3.7zM533.9 485.9l3.2 3.7l-3.2 3.7l-3.2 -3.7zM533.9 481.0l3.2 3.7l-3.2 3.7l-3.2 -3.7zM533.9 476.1l3.2 3.7l-3.2 3.7l-3.2 -3.7zM533.9 471.2l3.2 3.7l-3.2 3.7l-3.2 -3.7zM533.9 466.3l3.2 3.7l-3.2 3.7l-3.2 -3.7zM533.9 461.4l3.2 3.7l-3.2 3.7l-3.2 -3.7zM533.9 456.5l3.2 3.7l-3.2 3.7l-3.2 -3.7zM533.9 451.6l3.2 3.7l-3.2 3.7l-3.2 -3.7zM533.9 446.7l3.2 3.7l-3.2 3.7l-3.2 -3.7zM533.9 441.8l3.2 3.7l-3.2 3.7l-3.2 -3.7zM544.9 505.4l3.2 3.7l-3.2 3.7l-3.2 -3.7zM544.9 500.5l3.2 3.7l-3.2 3.7l-3.2 -3.7zM544.9 495.6l3.2 3.7l-3.2 3.7l-3.2 -3.7zM544.9 490.7l3.2 3.7l-3.2 3.7l-3.2 -3.7zM544.9 485.9l3.2 3.7l-3.2 3.7l-3.2 -3.7zM544.9 481.0l3.2 3.7l-3.2 3.7l-3.2 -3.7zM544.9 476.1l3.2 3.7l-3.2 3.7l-3.2 -3.7zM544.9 471.2l3.2 3.7l-3.2 3.7l-3.2 -3.7zM544.9 466.3l3.2 3.7l-3.2 3.7l-3.2 -3.7zM544.9 461.4l3.2 3.7l-3.2 3.7l-3.2 -3.7zM544.9 456.5l3.2 3.7l-3.2 3.7l-3.2 -3.7zM544.9 451.6l3.2 3.7l-3.2 3.7l-3.2 -3.7zM544.9 446.7l3.2 3.7l-3.2 3.7l-3.2 -3.7zM544.9 441.8l3.2 3.7l-3.2 3.7l-3.2 -3.7zM555.4 505.4l3.2 3.7l-3.2 3.7l-3.2 -3.7zM555.4 500.5l3.2 3.7l-3.2 3.7l-3.2 -3.7zM555.4 495.6l3.2 3.7l-3.2 3.7l-3.2 -3.7zM555.4 490.7l3.2 3.7l-3.2 3.7l-3.2 -3.7zM555.4 485.9l3.2 3.7l-3.2 3.7l-3.2 -3.7zM555.4 481.0l3.2 3.7l-3.2 3.7l-3.2 -3.7zM555.4 476.1l3.2 3.7l-3.2 3.7l-3.2 -3.7zM555.4 471.2l3.2 3.7l-3.2 3.7l-3.2 -3.7zM555.4 466.3l3.2 3.7l-3.2 3.7l-3.2 -3.7zM555.4 461.4l3.2 3.7l-3.2 3.7l-3.2 -3.7zM555.4 456.5l3.2 3.7l-3.2 3.7l-3.2 -3.7zM555.4 451.6l3.2 3.7l-3.2 3.7l-3.2 -3.7zM555.4 446.7l3.2 3.7l-3.2 3.7l-3.2 -3.7zM565.5 505.4l3.2 3.7l-3.2 3.7l-3.2 -3.7zM565.5 500.5l3.2 3.7l-3.2 3.7l-3.2 -3.7zM565.5 495.6l3.2 3.7l-3.2 3.7l-3.2 -3.7zM565.5 490.7l3.2 3.7l-3.2 3.7l-3.2 -3.7zM565.5 485.9l3.2 3.7l-3.2 3.7l-3.2 -3.7zM565.5 481.0l3.2 3.7l-3.2 3.7l-3.2 -3.7zM565.5 476.1l3.2 3.7l-3.2 3.7l-3.2 -3.7zM565.5 471.2l3.2 3.7l-3.2 3.7l-3.2 -3.7zM565.5 466.3l3.2 3.7l-3.2 3.7l-3.2 -3.7zM565.5 461.4l3.2 3.7l-3.2 3.7l-3.2 -3.7zM565.5 456.5l3.2 3.7l-3.2 3.7l-3.2 -3.7zM565.5 451.6l3.2 3.7l-3.2 3.7l-3.2 -3.7zM565.5 446.7l3.2 3.7l-3.2 3.7l-3.2 -3.7zM575.1 505.4l3.2 3.7l-3.2 3.7l-3.2 -3.7zM575.1 500.5l3.2 3.7l-3.2 3.7l-3.2 -3.7zM575.1 495.6l3.2 3.7l-3.2 3.7l-3.2 -3.7zM575.1 490.7l3.2 3.7l-3.2 3.7l-3.2 -3.7zM575.1 485.9l3.2 3.7l-3.2 3.7l-3.2 -3.7zM575.1 481.0l3.2 3.7l-3.2 3.7l-3.2 -3.7zM575.1 476.1l3.2 3.7l-3.2 3.7l-3.2 -3.7zM575.1 471.2l3.2 3.7l-3.2 3.7l-3.2 -3.7zM575.1 466.3l3.2 3.7l-3.2 3.7l-3.2 -3.7zM575.1 461.4l3.2 3.7l-3.2 3.7l-3.2 -3.7zM575.1 456.5l3.2 3.7l-3.2 3.7l-3.2 -3.7zM575.1 451.6l3.2 3.7l-3.2 3.7l-3.2 -3.7zM584.3 505.4l3.2 3.7l-3.2 3.7l-3.2 -3.7zM584.3 500.5l3.2 3.7l-3.2 3.7l-3.2 -3.7zM584.3 495.6l3.2 3.7l-3.2 3.7l-3.2 -3.7zM584.3 490.7l3.2 3.7l-3.2 3.7l-3.2 -3.7zM584.3 485.9l3.2 3.7l-3.2 3.7l-3.2 -3.7zM584.3 481.0l3.2 3.7l-3.2 3.7l-3.2 -3.7zM584.3 476.1l3.2 3.7l-3.2 3.7l-3.2 -3.7zM584.3 471.2l3.2 3.7l-3.2 3.7l-3.2 -3.7zM584.3 466.3l3.2 3.7l-3.2 3.7l-3.2 -3.7zM584.3 461.4l3.2 3.7l-3.2 3.7l-3.2 -3.7zM584.3 456.5l3.2 3.7l-3.2 3.7l-3.2 -3.7zM584.3 451.6l3.2 3.7l-3.2 3.7l-3.2 -3.7zM593.2 505.4l3.2 3.7l-3.2 3.7l-3.2 -3.7zM593.2 500.5l3.2 3.7l-3.2 3.7l-3.2 -3.7zM593.2 495.6l3.2 3.7l-3.2 3.7l-3.2 -3.7zM593.2 490.7l3.2 3.7l-3.2 3.7l-3.2 -3.7zM593.2 485.9l3.2 3.7l-3.2 3.7l-3.2 -3.7zM593.2 481.0l3.2 3.7l-3.2 3.7l-3.2 -3.7zM593.2 476.1l3.2 3.7l-3.2 3.7l-3.2 -3.7zM593.2 471.2l3.2 3.7l-3.2 3.7l-3.2 -3.7zM593.2 466.3l3.2 3.7l-3.2 3.7l-3.2 -3.7zM593.2 461.4l3.2 3.7l-3.2 3.7l-3.2 -3.7zM593.2 456.5l3.2 3.7l-3.2 3.7l-3.2 -3.7zM601.8 505.4l3.2 3.7l-3.2 3.7l-3.2 -3.7zM601.8 500.5l3.2 3.7l-3.2 3.7l-3.2 -3.7zM601.8 495.6l3.2 3.7l-3.2 3.7l-3.2 -3.7zM601.8 490.7l3.2 3.7l-3.2 3.7l-3.2 -3.7zM601.8 485.9l3.2 3.7l-3.2 3.7l-3.2 -3.7zM601.8 481.0l3.2 3.7l-3.2 3.7l-3.2 -3.7zM601.8 476.1l3.2 3.7l-3.2 3.7l-3.2 -3.7zM601.8 471.2l3.2 3.7l-3.2 3.7l-3.2 -3.7zM601.8 466.3l3.2 3.7l-3.2 3.7l-3.2 -3.7zM601.8 461.4l3.2 3.7l-3.2 3.7l-3.2 -3.7zM601.8 456.5l3.2 3.7l-3.2 3.7l-3.2 -3.7zM610.0 505.4l3.2 3.7l-3.2 3.7l-3.2 -3.7zM610.0 500.5l3.2 3.7l-3.2 3.7l-3.2 -3.7zM610.0 495.6l3.2 3.7l-3.2 3.7l-3.2 -3.7zM610.0 490.7l3.2 3.7l-3.2 3.7l-3.2 -3.7zM610.0 485.9l3.2 3.7l-3.2 3.7l-3.2 -3.7zM610.0 481.0l3.2 3.7l-3.2 3.7l-3.2 -3.7zM610.0 476.1l3.2 3.7l-3.2 3.7l-3.2 -3.7zM610.0 471.2l3.2 3.7l-3.2 3.7l-3.2 -3.7zM610.0 466.3l3.2 3.7l-3.2 3.7l-3.2 -3.7zM610.0 461.4l3.2 3.7l-3.2 3.7l-3.2 -3.7zM610.0 456.5l3.2 3.7l-3.2 3.7l-3.2 -3.7zM617.9 505.4l3.2 3.7l-3.2 3.7l-3.2 -3.7zM617.9 500.5l3.2 3.7l-3.2 3.7l-3.2 -3.7zM617.9 495.6l3.2 3.7l-3.2 3.7l-3.2 -3.7zM617.9 490.7l3.2 3.7l-3.2 3.7l-3.2 -3.7zM617.9 485.9l3.2 3.7l-3.2 3.7l-3.2 -3.7zM617.9 481.0l3.2 3.7l-3.2 3.7l-3.2 -3.7zM617.9 476.1l3.2 3.7l-3.2 3.7l-3.2 -3.7zM617.9 471.2l3.2 3.7l-3.2 3.7l-3.2 -3.7zM617.9 466.3l3.2 3.7l-3.2 3.7l-3.2 -3.7zM617.9 461.4l3.2 3.7l-3.2 3.7l-3.2 -3.7zM625.6 505.4l3.2 3.7l-3.2 3.7l-3.2 -3.7zM625.6 500.5l3.2 3.7l-3.2 3.7l-3.2 -3.7zM625.6 495.6l3.2 3.7l-3.2 3.7l-3.2 -3.7zM625.6 490.7l3.2 3.7l-3.2 3.7l-3.2 -3.7zM625.6 485.9l3.2 3.7l-3.2 3.7l-3.2 -3.7zM625.6 481.0l3.2 3.7l-3.2 3.7l-3.2 -3.7zM625.6 476.1l3.2 3.7l-3.2 3.7l-3.2 -3.7zM625.6 471.2l3.2 3.7l-3.2 3.7l-3.2 -3.7zM625.6 466.3l3.2 3.7l-3.2 3.7l-3.2 -3.7zM625.6 461.4l3.2 3.7l-3.2 3.7l-3.2 -3.7zM633.0 505.4l3.2 3.7l-3.2 3.7l-3.2 -3.7zM633.0 500.5l3.2 3.7l-3.2 3.7l-3.2 -3.7zM633.0 495.6l3.2 3.7l-3.2 3.7l-3.2 -3.7zM633.0 490.7l3.2 3.7l-3.2 3.7l-3.2 -3.7zM633.0 485.9l3.2 3.7l-3.2 3.7l-3.2 -3.7zM633.0 481.0l3.2 3.7l-3.2 3.7l-3.2 -3.7zM633.0 476.1l3.2 3.7l-3.2 3.7l-3.2 -3.7zM633.0 471.2l3.2 3.7l-3.2 3.7l-3.2 -3.7zM633.0 466.3l3.2 3.7l-3.2 3.7l-3.2 -3.7zM633.0 461.4l3.2 3.7l-3.2 3.7l-3.2 -3.7zM640.2 505.4l3.2 3.7l-3.2 3.7l-3.2 -3.7zM640.2 500.5l3.2 3.7l-3.2 3.7l-3.2 -3.7zM640.2 495.6l3.2 3.7l-3.2 3.7l-3.2 -3.7zM640.2 490.7l3.2 3.7l-3.2 3.7l-3.2 -3.7zM640.2 485.9l3.2 3.7l-3.2 3.7l-3.2 -3.7zM640.2 481.0l3.2 3.7l-3.2 3.7l-3.2 -3.7zM640.2 476.1l3.2 3.7l-3.2 3.7l-3.2 -3.7zM640.2 471.2l3.2 3.7l-3.2 3.7l-3.2 -3.7zM640.2 466.3l3.2 3.7l-3.2 3.7l-3.2 -3.7zM647.1 505.4l3.2 3.7l-3.2 3.7l-3.2 -3.7zM647.1 500.5l3.2 3.7l-3.2 3.7l-3.2 -3.7zM647.1 495.6l3.2 3.7l-3.2 3.7l-3.2 -3.7zM647.1 490.7l3.2 3.7l-3.2 3.7l-3.2 -3.7zM647.1 485.9l3.2 3.7l-3.2 3.7l-3.2 -3.7zM647.1 481.0l3.2 3.7l-3.2 3.7l-3.2 -3.7zM647.1 476.1l3.2 3.7l-3.2 3.7l-3.2 -3.7zM647.1 471.2l3.2 3.7l-3.2 3.7l-3.2 -3.7zM647.1 466.3l3.2 3.7l-3.2 3.7l-3.2 -3.7zM653.9 505.4l3.2 3.7l-3.2 3.7l-3.2 -3.7zM653.9 500.5l3.2 3.7l-3.2 3.7l-3.2 -3.7zM653.9 495.6l3.2 3.7l-3.2 3.7l-3.2 -3.7zM653.9 490.7l3.2 3.7l-3.2 3.7l-3.2 -3.7zM653.9 485.9l3.2 3.7l-3.2 3.7l-3.2 -3.7zM653.9 481.0l3.2 3.7l-3.2 3.7l-3.2 -3.7zM653.9 476.1l3.2 3.7l-3.2 3.7l-3.2 -3.7zM653.9 471.2l3.2 3.7l-3.2 3.7l-3.2 -3.7zM653.9 466.3l3.2 3.7l-3.2 3.7l-3.2 -3.7zM660.5 505.4l3.2 3.7l-3.2 3.7l-3.2 -3.7zM660.5 500.5l3.2 3.7l-3.2 3.7l-3.2 -3.7zM660.5 495.6l3.2 3.7l-3.2 3.7l-3.2 -3.7zM660.5 490.7l3.2 3.7l-3.2 3.7l-3.2 -3.7zM660.5 485.9l3.2 3.7l-3.2 3.7l-3.2 -3.7zM660.5 481.0l3.2 3.7l-3.2 3.7l-3.2 -3.7zM660.5 476.1l3.2 3.7l-3.2 3.7l-3.2 -3.7zM660.5 471.2l3.2 3.7l-3.2 3.7l-3.2 -3.7zM660.5 466.3l3.2 3.7l-3.2 3.7l-3.2 -3.7zM666.8 505.4l3.2 3.7l-3.2 3.7l-3.2 -3.7zM666.8 500.5l3.2 3.7l-3.2 3.7l-3.2 -3.7zM666.8 495.6l3.2 3.7l-3.2 3.7l-3.2 -3.7zM666.8 490.7l3.2 3.7l-3.2 3.7l-3.2 -3.7zM666.8 485.9l3.2 3.7l-3.2 3.7l-3.2 -3.7zM666.8 481.0l3.2 3.7l-3.2 3.7l-3.2 -3.7zM666.8 476.1l3.2 3.7l-3.2 3.7l-3.2 -3.7zM666.8 471.2l3.2 3.7l-3.2 3.7l-3.2 -3.7zM673.0 505.4l3.2 3.7l-3.2 3.7l-3.2 -3.7zM673.0 500.5l3.2 3.7l-3.2 3.7l-3.2 -3.7zM673.0 495.6l3.2 3.7l-3.2 3.7l-3.2 -3.7zM673.0 490.7l3.2 3.7l-3.2 3.7l-3.2 -3.7zM673.0 485.9l3.2 3.7l-3.2 3.7l-3.2 -3.7zM673.0 481.0l3.2 3.7l-3.2 3.7l-3.2 -3.7zM673.0 476.1l3.2 3.7l-3.2 3.7l-3.2 -3.7zM673.0 471.2l3.2 3.7l-3.2 3.7l-3.2 -3.7zM679.1 505.4l3.2 3.7l-3.2 3.7l-3.2 -3.7zM679.1 500.5l3.2 3.7l-3.2 3.7l-3.2 -3.7zM679.1 495.6l3.2 3.7l-3.2 3.7l-3.2 -3.7zM679.1 490.7l3.2 3.7l-3.2 3.7l-3.2 -3.7zM679.1 485.9l3.2 3.7l-3.2 3.7l-3.2 -3.7zM679.1 481.0l3.2 3.7l-3.2 3.7l-3.2 -3.7zM679.1 476.1l3.2 3.7l-3.2 3.7l-3.2 -3.7zM679.1 471.2l3.2 3.7l-3.2 3.7l-3.2 -3.7zM684.9 505.4l3.2 3.7l-3.2 3.7l-3.2 -3.7zM684.9 500.5l3.2 3.7l-3.2 3.7l-3.2 -3.7zM684.9 495.6l3.2 3.7l-3.2 3.7l-3.2 -3.7zM684.9 490.7l3.2 3.7l-3.2 3.7l-3.2 -3.7zM684.9 485.9l3.2 3.7l-3.2 3.7l-3.2 -3.7zM684.9 481.0l3.2 3.7l-3.2 3.7l-3.2 -3.7zM684.9 476.1l3.2 3.7l-3.2 3.7l-3.2 -3.7zM684.9 471.2l3.2 3.7l-3.2 3.7l-3.2 -3.7zM690.7 505.4l3.2 3.7l-3.2 3.7l-3.2 -3.7zM690.7 500.5l3.2 3.7l-3.2 3.7l-3.2 -3.7zM690.7 495.6l3.2 3.7l-3.2 3.7l-3.2 -3.7zM690.7 490.7l3.2 3.7l-3.2 3.7l-3.2 -3.7zM690.7 485.9l3.2 3.7l-3.2 3.7l-3.2 -3.7zM690.7 481.0l3.2 3.7l-3.2 3.7l-3.2 -3.7zM690.7 476.1l3.2 3.7l-3.2 3.7l-3.2 -3.7zM690.7 471.2l3.2 3.7l-3.2 3.7l-3.2 -3.7zM696.2 505.4l3.2 3.7l-3.2 3.7l-3.2 -3.7zM696.2 500.5l3.2 3.7l-3.2 3.7l-3.2 -3.7zM696.2 495.6l3.2 3.7l-3.2 3.7l-3.2 -3.7zM696.2 490.7l3.2 3.7l-3.2 3.7l-3.2 -3.7zM696.2 485.9l3.2 3.7l-3.2 3.7l-3.2 -3.7zM696.2 481.0l3.2 3.7l-3.2 3.7l-3.2 -3.7zM696.2 476.1l3.2 3.7l-3.2 3.7l-3.2 -3.7zM701.7 505.4l3.2 3.7l-3.2 3.7l-3.2 -3.7zM701.7 500.5l3.2 3.7l-3.2 3.7l-3.2 -3.7zM701.7 495.6l3.2 3.7l-3.2 3.7l-3.2 -3.7zM701.7 490.7l3.2 3.7l-3.2 3.7l-3.2 -3.7zM701.7 485.9l3.2 3.7l-3.2 3.7l-3.2 -3.7zM701.7 481.0l3.2 3.7l-3.2 3.7l-3.2 -3.7zM701.7 476.1l3.2 3.7l-3.2 3.7l-3.2 -3.7zM707.0 505.4l3.2 3.7l-3.2 3.7l-3.2 -3.7zM707.0 500.5l3.2 3.7l-3.2 3.7l-3.2 -3.7zM707.0 495.6l3.2 3.7l-3.2 3.7l-3.2 -3.7zM707.0 490.7l3.2 3.7l-3.2 3.7l-3.2 -3.7zM707.0 485.9l3.2 3.7l-3.2 3.7l-3.2 -3.7zM707.0 481.0l3.2 3.7l-3.2 3.7l-3.2 -3.7zM707.0 476.1l3.2 3.7l-3.2 3.7l-3.2 -3.7zM712.2 505.4l3.2 3.7l-3.2 3.7l-3.2 -3.7zM712.2 500.5l3.2 3.7l-3.2 3.7l-3.2 -3.7zM712.2 495.6l3.2 3.7l-3.2 3.7l-3.2 -3.7zM712.2 490.7l3.2 3.7l-3.2 3.7l-3.2 -3.7zM712.2 485.9l3.2 3.7l-3.2 3.7l-3.2 -3.7zM712.2 481.0l3.2 3.7l-3.2 3.7l-3.2 -3.7zM712.2 476.1l3.2 3.7l-3.2 3.7l-3.2 -3.7zM717.3 505.4l3.2 3.7l-3.2 3.7l-3.2 -3.7zM717.3 500.5l3.2 3.7l-3.2 3.7l-3.2 -3.7zM717.3 495.6l3.2 3.7l-3.2 3.7l-3.2 -3.7zM717.3 490.7l3.2 3.7l-3.2 3.7l-3.2 -3.7zM717.3 485.9l3.2 3.7l-3.2 3.7l-3.2 -3.7zM717.3 481.0l3.2 3.7l-3.2 3.7l-3.2 -3.7zM717.3 476.1l3.2 3.7l-3.2 3.7l-3.2 -3.7zM722.3 505.4l3.2 3.7l-3.2 3.7l-3.2 -3.7zM722.3 500.5l3.2 3.7l-3.2 3.7l-3.2 -3.7zM722.3 495.6l3.2 3.7l-3.2 3.7l-3.2 -3.7zM722.3 490.7l3.2 3.7l-3.2 3.7l-3.2 -3.7zM722.3 485.9l3.2 3.7l-3.2 3.7l-3.2 -3.7zM722.3 481.0l3.2 3.7l-3.2 3.7l-3.2 -3.7zM722.3 476.1l3.2 3.7l-3.2 3.7l-3.2 -3.7zM727.1 505.4l3.2 3.7l-3.2 3.7l-3.2 -3.7zM727.1 500.5l3.2 3.7l-3.2 3.7l-3.2 -3.7zM727.1 495.6l3.2 3.7l-3.2 3.7l-3.2 -3.7zM727.1 490.7l3.2 3.7l-3.2 3.7l-3.2 -3.7zM727.1 485.9l3.2 3.7l-3.2 3.7l-3.2 -3.7zM727.1 481.0l3.2 3.7l-3.2 3.7l-3.2 -3.7zM727.1 476.1l3.2 3.7l-3.2 3.7l-3.2 -3.7zM731.9 505.4l3.2 3.7l-3.2 3.7l-3.2 -3.7zM731.9 500.5l3.2 3.7l-3.2 3.7l-3.2 -3.7zM731.9 495.6l3.2 3.7l-3.2 3.7l-3.2 -3.7zM731.9 490.7l3.2 3.7l-3.2 3.7l-3.2 -3.7zM731.9 485.9l3.2 3.7l-3.2 3.7l-3.2 -3.7zM731.9 481.0l3.2 3.7l-3.2 3.7l-3.2 -3.7zM736.6 505.4l3.2 3.7l-3.2 3.7l-3.2 -3.7zM736.6 500.5l3.2 3.7l-3.2 3.7l-3.2 -3.7zM736.6 495.6l3.2 3.7l-3.2 3.7l-3.2 -3.7zM736.6 490.7l3.2 3.7l-3.2 3.7l-3.2 -3.7zM736.6 485.9l3.2 3.7l-3.2 3.7l-3.2 -3.7zM736.6 481.0l3.2 3.7l-3.2 3.7l-3.2 -3.7zM741.1 505.4l3.2 3.7l-3.2 3.7l-3.2 -3.7zM741.1 500.5l3.2 3.7l-3.2 3.7l-3.2 -3.7zM741.1 495.6l3.2 3.7l-3.2 3.7l-3.2 -3.7zM741.1 490.7l3.2 3.7l-3.2 3.7l-3.2 -3.7zM741.1 485.9l3.2 3.7l-3.2 3.7l-3.2 -3.7zM741.1 481.0l3.2 3.7l-3.2 3.7l-3.2 -3.7zM745.6 505.4l3.2 3.7l-3.2 3.7l-3.2 -3.7zM745.6 500.5l3.2 3.7l-3.2 3.7l-3.2 -3.7zM745.6 495.6l3.2 3.7l-3.2 3.7l-3.2 -3.7zM745.6 490.7l3.2 3.7l-3.2 3.7l-3.2 -3.7zM745.6 485.9l3.2 3.7l-3.2 3.7l-3.2 -3.7zM745.6 481.0l3.2 3.7l-3.2 3.7l-3.2 -3.7zM750.0 505.4l3.2 3.7l-3.2 3.7l-3.2 -3.7zM750.0 500.5l3.2 3.7l-3.2 3.7l-3.2 -3.7zM750.0 495.6l3.2 3.7l-3.2 3.7l-3.2 -3.7zM750.0 490.7l3.2 3.7l-3.2 3.7l-3.2 -3.7zM750.0 485.9l3.2 3.7l-3.2 3.7l-3.2 -3.7zM750.0 481.0l3.2 3.7l-3.2 3.7l-3.2 -3.7zM754.3 505.4l3.2 3.7l-3.2 3.7l-3.2 -3.7zM754.3 500.5l3.2 3.7l-3.2 3.7l-3.2 -3.7zM754.3 495.6l3.2 3.7l-3.2 3.7l-3.2 -3.7zM754.3 490.7l3.2 3.7l-3.2 3.7l-3.2 -3.7zM754.3 485.9l3.2 3.7l-3.2 3.7l-3.2 -3.7zM754.3 481.0l3.2 3.7l-3.2 3.7l-3.2 -3.7zM758.5 505.4l3.2 3.7l-3.2 3.7l-3.2 -3.7zM758.5 500.5l3.2 3.7l-3.2 3.7l-3.2 -3.7zM758.5 495.6l3.2 3.7l-3.2 3.7l-3.2 -3.7zM758.5 490.7l3.2 3.7l-3.2 3.7l-3.2 -3.7zM758.5 485.9l3.2 3.7l-3.2 3.7l-3.2 -3.7zM758.5 481.0l3.2 3.7l-3.2 3.7l-3.2 -3.7zM762.7 505.4l3.2 3.7l-3.2 3.7l-3.2 -3.7zM762.7 500.5l3.2 3.7l-3.2 3.7l-3.2 -3.7zM762.7 495.6l3.2 3.7l-3.2 3.7l-3.2 -3.7zM762.7 490.7l3.2 3.7l-3.2 3.7l-3.2 -3.7zM762.7 485.9l3.2 3.7l-3.2 3.7l-3.2 -3.7zM762.7 481.0l3.2 3.7l-3.2 3.7l-3.2 -3.7zM766.8 505.4l3.2 3.7l-3.2 3.7l-3.2 -3.7zM766.8 500.5l3.2 3.7l-3.2 3.7l-3.2 -3.7zM766.8 495.6l3.2 3.7l-3.2 3.7l-3.2 -3.7zM766.8 490.7l3.2 3.7l-3.2 3.7l-3.2 -3.7zM766.8 485.9l3.2 3.7l-3.2 3.7l-3.2 -3.7zM766.8 481.0l3.2 3.7l-3.2 3.7l-3.2 -3.7zM770.8 505.4l3.2 3.7l-3.2 3.7l-3.2 -3.7zM770.8 500.5l3.2 3.7l-3.2 3.7l-3.2 -3.7zM770.8 495.6l3.2 3.7l-3.2 3.7l-3.2 -3.7zM770.8 490.7l3.2 3.7l-3.2 3.7l-3.2 -3.7zM770.8 485.9l3.2 3.7l-3.2 3.7l-3.2 -3.7zM774.7 505.4l3.2 3.7l-3.2 3.7l-3.2 -3.7zM774.7 500.5l3.2 3.7l-3.2 3.7l-3.2 -3.7zM774.7 495.6l3.2 3.7l-3.2 3.7l-3.2 -3.7zM774.7 490.7l3.2 3.7l-3.2 3.7l-3.2 -3.7zM774.7 485.9l3.2 3.7l-3.2 3.7l-3.2 -3.7zM778.6 505.4l3.2 3.7l-3.2 3.7l-3.2 -3.7zM778.6 500.5l3.2 3.7l-3.2 3.7l-3.2 -3.7zM778.6 495.6l3.2 3.7l-3.2 3.7l-3.2 -3.7zM778.6 490.7l3.2 3.7l-3.2 3.7l-3.2 -3.7zM778.6 485.9l3.2 3.7l-3.2 3.7l-3.2 -3.7zM782.4 505.4l3.2 3.7l-3.2 3.7l-3.2 -3.7zM782.4 500.5l3.2 3.7l-3.2 3.7l-3.2 -3.7zM782.4 495.6l3.2 3.7l-3.2 3.7l-3.2 -3.7zM782.4 490.7l3.2 3.7l-3.2 3.7l-3.2 -3.7zM782.4 485.9l3.2 3.7l-3.2 3.7l-3.2 -3.7z"/>
<path fill="#080500" d="M217.7 260.0a2.6 2.6 0 1 0 5.2 0a2.6 2.6 0 1 0 -5.2 0zM293.8 316.0a2.6 2.6 0 1 0 5.2 0a2.6 2.6 0 1 0 -5.2 0zM450.6 406.0a2.6 2.6 0 1 0 5.2 0a2.6 2.6 0 1 0 -5.2 0zM572.5 450.4a2.6 2.6 0 1 0 5.2 0a2.6 2.6 0 1 0 -5.2 0zM590.6 455.3a2.6 2.6 0 1 0 5.2 0a2.6 2.6 0 1 0 -5.2 0z"/>
<path fill="#110a00" d="M217.7 248.5a2.6 2.6 0 1 0 5.2 0a2.6 2.6 0 1 0 -5.2 0zM433.8 385.5a2.6 2.6 0 1 0 5.2 0a2.6 2.6 0 1 0 -5.2 0zM507.4 420.6a2.6 2.6 0 1 0 5.2 0a2.6 2.6 0 1 0 -5.2 0zM519.7 425.5a2.6 2.6 0 1 0 5.2 0a2.6 2.6 0 1 0 -5.2 0zM562.9 440.4a2.6 2.6 0 1 0 5.2 0a2.6 2.6 0 1 0 -5.2 0z"/>
<path fill="#ea8c00" d="M217.7 94.4a2.6 2.6 0 1 0 5.2 0a2.6 2.6 0 1 0 -5.2 0zM751.7 464.0a2.6 2.6 0 1 0 5.2 0a2.6 2.6 0 1 0 -5.2 0z"/>
<path fill="#050300" d="M259.0 303.5a2.6 2.6 0 1 0 5.2 0a2.6 2.6 0 1 0 -5.2 0zM259.0 297.9a2.6 2.6 0 1 0 5.2 0a2.6 2.6 0 1 0 -5.2 0zM293.8 322.8a2.6 2.6 0 1 0 5.2 0a2.6 2.6 0 1 0 -5.2 0zM324.0 347.7a2.6 2.6 0 1 0 5.2 0a2.6 2.6 0 1 0 -5.2 0zM324.0 342.6a2.6 2.6 0 1 0 5.2 0a2.6 2.6 0 1 0 -5.2 0zM324.0 337.2a2.6 2.6 0 1 0 5.2 0a2.6 2.6 0 1 0 -5.2 0z"/>
<path fill="#060300" d="M259.0 291.5a2.6 2.6 0 1 0 5.2 0a2.6 2.6 0 1 0 -5.2 0zM350.7 361.6a2.6 2.6 0 1 0 5.2 0a2.6 2.6 0 1 0 -5.2 0zM374.5 376.5a2.6 2.6 0 1 0 5.2 0a2.6 2.6 0 1 0 -5.2 0zM396.1 386.4a2.6 2.6 0 1 0 5.2 0a2.6 2.6 0 1 0 -5.2 0zM415.7 396.3a2.6 2.6 0 1 0 5.2 0a2.6 2.6 0 1 0 -5.2 0zM433.8 406.1a2.6 2.6 0 1 0 5.2 0a2.6 2.6 0 1 0 -5.2 0z"/>
<path fill="#0d0800" d="M259.0 283.4a2.6 2.6 0 1 0 5.2 0a2.6 2.6 0 1 0 -5.2 0zM374.5 355.6a2.6 2.6 0 1 0 5.2 0a2.6 2.6 0 1 0 -5.2 0zM466.2 405.8a2.6 2.6 0 1 0 5.2 0a2.6 2.6 0 1 0 -5.2 0zM552.8 440.4a2.6 2.6 0 1 0 5.2 0a2.6 2.6 0 1 0 -5.2 0zM581.7 450.3a2.6 2.6 0 1 0 5.2 0a2.6 2.6 0 1 0 -5.2 0zM623.0 460.1a2.6 2.6 0 1 0 5.2 0a2.6 2.6 0 1 0 -5.2 0zM630.4 460.1a2.6 2.6 0 1 0 5.2 0a2.6 2.6 0 1 0 -5.2 0zM637.6 465.0a2.6 2.6 0 1 0 5.2 0a2.6 2.6 0 1 0 -5.2 0z"/>
<path fill="#1c1100" d="M259.0 271.0a2.6 2.6 0 1 0 5.2 0a2.6 2.6 0 1 0 -5.2 0zM552.8 430.2a2.6 2.6 0 1 0 5.2 0a2.6 2.6 0 1 0 -5.2 0zM599.2 445.2a2.6 2.6 0 1 0 5.2 0a2.6 2.6 0 1 0 -5.2 0zM682.3 469.9a2.6 2.6 0 1 0 5.2 0a2.6 2.6 0 1 0 -5.2 0zM693.6 474.8a2.6 2.6 0 1 0 5.2 0a2.6 2.6 0 1 0 -5.2 0z"/>
<path fill="#945900" d="M259.0 204.0a2.6 2.6 0 1 0 5.2 0a2.6 2.6 0 1 0 -5.2 0zM657.9 438.4a2.6 2.6 0 1 0 5.2 0a2.6 2.6 0 1 0 -5.2 0zM743.0 469.5a2.6 2.6 0 1 0 5.2 0a2.6 2.6 0 1 0 -5.2 0z"/>
<path fill="#0b0600" d="M293.8 310.1a2.6 2.6 0 1 0 5.2 0a2.6 2.6 0 1 0 -5.2 0zM324.0 330.6a2.6 2.6 0 1 0 5.2 0a2.6 2.6 0 1 0 -5.2 0zM494.5 420.8a2.6 2.6 0 1 0 5.2 0a2.6 2.6 0 1 0 -5.2 0zM507.4 425.7a2.6 2.6 0 1 0 5.2 0a2.6 2.6 0 1 0 -5.2 0zM519.7 430.6a2.6 2.6 0 1 0 5.2 0a2.6 2.6 0 1 0 -5.2 0zM599.2 455.2a2.6 2.6 0 1 0 5.2 0a2.6 2.6 0 1 0 -5.2 0z"/>
<path fill="#100a00" d="M293.8 303.0a2.6 2.6 0 1 0 5.2 0a2.6 2.6 0 1 0 -5.2 0zM494.5 415.6a2.6 2.6 0 1 0 5.2 0a2.6 2.6 0 1 0 -5.2 0z"/>
<path fill="#1d1100" d="M293.8 293.2a2.6 2.6 0 1 0 5.2 0a2.6 2.6 0 1 0 -5.2 0zM572.5 435.2a2.6 2.6 0 1 0 5.2 0a2.6 2.6 0 1 0 -5.2 0z"/>
<path fill="#472b00" d="M293.8 271.0a2.6 2.6 0 1 0 5.2 0a2.6 2.6 0 1 0 -5.2 0zM562.9 413.6a2.6 2.6 0 1 0 5.2 0a2.6 2.6 0 1 0 -5.2 0z"/>
<path fill="#e4a10a" d="M293.8 171.0a2.6 2.6 0 1 0 5.2 0a2.6 2.6 0 1 0 -5.2 0z"/>
<path fill="#0e0800" d="M324.0 324.8a2.6 2.6 0 1 0 5.2 0a2.6 2.6 0 1 0 -5.2 0zM644.5 465.0a2.6 2.6 0 1 0 5.2 0a2.6 2.6 0 1 0 -5.2 0z"/>
<path fill="#160d00" d="M324.0 317.3a2.6 2.6 0 1 0 5.2 0a2.6 2.6 0 1 0 -5.2 0zM542.3 430.4a2.6 2.6 0 1 0 5.2 0a2.6 2.6 0 1 0 -5.2 0z"/>
<path fill="#251600" d="M324.0 307.6a2.6 2.6 0 1 0 5.2 0a2.6 2.6 0 1 0 -5.2 0zM396.1 346.5a2.6 2.6 0 1 0 5.2 0a2.6 2.6 0 1 0 -5.2 0zM519.7 414.8a2.6 2.6 0 1 0 5.2 0a2.6 2.6 0 1 0 -5.2 0zM531.3 419.9a2.6 2.6 0 1 0 5.2 0a2.6 2.6 0 1 0 -5.2 0zM572.5 430.0a2.6 2.6 0 1 0 5.2 0a2.6 2.6 0 1 0 -5.2 0zM599.2 440.1a2.6 2.6 0 1 0 5.2 0a2.6 2.6 0 1 0 -5.2 0zM709.6 474.8a2.6 2.6 0 1 0 5.2 0a2.6 2.6 0 1 0 -5.2 0z"/>
<path fill="#402600" d="M324.0 293.2a2.6 2.6 0 1 0 5.2 0a2.6 2.6 0 1 0 -5.2 0zM433.8 353.6a2.6 2.6 0 1 0 5.2 0a2.6 2.6 0 1 0 -5.2 0z"/>
<path fill="#b86e00" d="M324.0 246.0a2.6 2.6 0 1 0 5.2 0a2.6 2.6 0 1 0 -5.2 0zM651.3 426.7a2.6 2.6 0 1 0 5.2 0a2.6 2.6 0 1 0 -5.2 0z"/>
<path fill="#62c63d" d="M324.0 128.9a2.6 2.6 0 1 0 5.2 0a2.6 2.6 0 1 0 -5.2 0zM664.2 398.6a2.6 2.6 0 1 0 5.2 0a2.6 2.6 0 1 0 -5.2 0zM676.5 406.0a2.6 2.6 0 1 0 5.2 0a2.6 2.6 0 1 0 -5.2 0zM751.7 439.5a2.6 2.6 0 1 0 5.2 0a2.6 2.6 0 1 0 -5.2 0z"/>
<path fill="#090500" d="M350.7 351.2a2.6 2.6 0 1 0 5.2 0a2.6 2.6 0 1 0 -5.2 0zM374.5 366.2a2.6 2.6 0 1 0 5.2 0a2.6 2.6 0 1 0 -5.2 0zM396.1 376.2a2.6 2.6 0 1 0 5.2 0a2.6 2.6 0 1 0 -5.2 0zM466.2 410.9a2.6 2.6 0 1 0 5.2 0a2.6 2.6 0 1 0 -5.2 0zM615.3 460.2a2.6 2.6 0 1 0 5.2 0a2.6 2.6 0 1 0 -5.2 0z"/>
<path fill="#0b0700" d="M350.7 345.7a2.6 2.6 0 1 0 5.2 0a2.6 2.6 0 1 0 -5.2 0zM450.6 400.9a2.6 2.6 0 1 0 5.2 0a2.6 2.6 0 1 0 -5.2 0z"/>
<path fill="#0f0900" d="M350.7 340.0a2.6 2.6 0 1 0 5.2 0a2.6 2.6 0 1 0 -5.2 0zM396.1 365.4a2.6 2.6 0 1 0 5.2 0a2.6 2.6 0 1 0 -5.2 0zM415.7 375.5a2.6 2.6 0 1 0 5.2 0a2.6 2.6 0 1 0 -5.2 0zM480.8 410.7a2.6 2.6 0 1 0 5.2 0a2.6 2.6 0 1 0 -5.2 0zM542.3 435.5a2.6 2.6 0 1 0 5.2 0a2.6 2.6 0 1 0 -5.2 0zM572.5 445.4a2.6 2.6 0 1 0 5.2 0a2.6 2.6 0 1 0 -5.2 0zM590.6 450.3a2.6 2.6 0 1 0 5.2 0a2.6 2.6 0 1 0 -5.2 0zM607.4 455.2a2.6 2.6 0 1 0 5.2 0a2.6 2.6 0 1 0 -5.2 0z"/>
<path fill="#150d00" d="M350.7 333.5a2.6 2.6 0 1 0 5.2 0a2.6 2.6 0 1 0 -5.2 0zM572.5 440.3a2.6 2.6 0 1 0 5.2 0a2.6 2.6 0 1 0 -5.2 0z"/>
<path fill="#1f1200" d="M350.7 325.9a2.6 2.6 0 1 0 5.2 0a2.6 2.6 0 1 0 -5.2 0zM433.8 374.0a2.6 2.6 0 1 0 5.2 0a2.6 2.6 0 1 0 -5.2 0z"/>
<path fill="#2f1c00" d="M350.7 316.3a2.6 2.6 0 1 0 5.2 0a2.6 2.6 0 1 0 -5.2 0zM450.6 372.3a2.6 2.6 0 1 0 5.2 0a2.6 2.6 0 1 0 -5.2 0zM572.5 424.7a2.6 2.6 0 1 0 5.2 0a2.6 2.6 0 1 0 -5.2 0z"/>
<path fill="#543200" d="M350.7 300.3a2.6 2.6 0 1 0 5.2 0a2.6 2.6 0 1 0 -5.2 0zM466.2 362.7a2.6 2.6 0 1 0 5.2 0a2.6 2.6 0 1 0 -5.2 0zM572.5 413.1a2.6 2.6 0 1 0 5.2 0a2.6 2.6 0 1 0 -5.2 0zM772.1 479.6a2.6 2.6 0 1 0 5.2 0a2.6 2.6 0 1 0 -5.2 0z"/>
<path fill="#c87800" d="M350.7 259.5a2.6 2.6 0 1 0 5.2 0a2.6 2.6 0 1 0 -5.2 0zM670.4 437.6a2.6 2.6 0 1 0 5.2 0a2.6 2.6 0 1 0 -5.2 0zM699.1 453.7a2.6 2.6 0 1 0 5.2 0a2.6 2.6 0 1 0 -5.2 0z"/>
<path fill="#50cb44" d="M350.7 154.1a2.6 2.6 0 1 0 5.2 0a2.6 2.6 0 1 0 -5.2 0z"/>
<path fill="#17edd8" d="M350.7 68.5a2.6 2.6 0 1 0 5.2 0a2.6 2.6 0 1 0 -5.2 0z"/>
<path fill="#070400" d="M374.5 371.4a2.6 2.6 0 1 0 5.2 0a2.6 2.6 0 1 0 -5.2 0zM396.1 381.3a2.6 2.6 0 1 0 5.2 0a2.6 2.6 0 1 0 -5.2 0zM415.7 391.2a2.6 2.6 0 1 0 5.2 0a2.6 2.6 0 1 0 -5.2 0zM433.8 401.1a2.6 2.6 0 1 0 5.2 0a2.6 2.6 0 1 0 -5.2 0zM507.4 430.7a2.6 2.6 0 1 0 5.2 0a2.6 2.6 0 1 0 -5.2 0zM542.3 440.5a2.6 2.6 0 1 0 5.2 0a2.6 2.6 0 1 0 -5.2 0zM552.8 445.5a2.6 2.6 0 1 0 5.2 0a2.6 2.6 0 1 0 -5.2 0z"/>
<path fill="#0a0600" d="M374.5 361.0a2.6 2.6 0 1 0 5.2 0a2.6 2.6 0 1 0 -5.2 0zM480.8 415.8a2.6 2.6 0 1 0 5.2 0a2.6 2.6 0 1 0 -5.2 0zM531.3 435.6a2.6 2.6 0 1 0 5.2 0a2.6 2.6 0 1 0 -5.2 0zM562.9 445.4a2.6 2.6 0 1 0 5.2 0a2.6 2.6 0 1 0 -5.2 0z"/>
<path fill="#120b00" d="M374.5 349.7a2.6 2.6 0 1 0 5.2 0a2.6 2.6 0 1 0 -5.2 0zM581.7 445.3a2.6 2.6 0 1 0 5.2 0a2.6 2.6 0 1 0 -5.2 0z"/>
<path fill="#180f00" d="M374.5 343.3a2.6 2.6 0 1 0 5.2 0a2.6 2.6 0 1 0 -5.2 0z"/>
<path fill="#231500" d="M374.5 335.9a2.6 2.6 0 1 0 5.2 0a2.6 2.6 0 1 0 -5.2 0zM415.7 357.6a2.6 2.6 0 1 0 5.2 0a2.6 2.6 0 1 0 -5.2 0zM507.4 409.8a2.6 2.6 0 1 0 5.2 0a2.6 2.6 0 1 0 -5.2 0zM743.0 479.7a2.6 2.6 0 1 0 5.2 0a2.6 2.6 0 1 0 -5.2 0z"/>
<path fill="#321e00" d="M374.5 327.2a2.6 2.6 0 1 0 5.2 0a2.6 2.6 0 1 0 -5.2 0zM552.8 419.5a2.6 2.6 0 1 0 5.2 0a2.6 2.6 0 1 0 -5.2 0zM590.6 429.7a2.6 2.6 0 1 0 5.2 0a2.6 2.6 0 1 0 -5.2 0z"/>
<path fill="#4f2f00" d="M374.5 314.7a2.6 2.6 0 1 0 5.2 0a2.6 2.6 0 1 0 -5.2 0zM396.1 327.3a2.6 2.6 0 1 0 5.2 0a2.6 2.6 0 1 0 -5.2 0zM494.5 380.5a2.6 2.6 0 1 0 5.2 0a2.6 2.6 0 1 0 -5.2 0z"/>
<path fill="#9e5f00" d="M374.5 288.3a2.6 2.6 0 1 0 5.2 0a2.6 2.6 0 1 0 -5.2 0z"/>
<path fill="#a6b323" d="M374.5 219.2a2.6 2.6 0 1 0 5.2 0a2.6 2.6 0 1 0 -5.2 0z"/>
<path fill="#29e2a6" d="M374.5 130.6a2.6 2.6 0 1 0 5.2 0a2.6 2.6 0 1 0 -5.2 0z"/>
<path fill="#21e7f1" d="M374.5 58.7a2.6 2.6 0 1 0 5.2 0a2.6 2.6 0 1 0 -5.2 0zM630.4 333.8a2.6 2.6 0 1 0 5.2 0a2.6 2.6 0 1 0 -5.2 0zM709.6 386.6a2.6 2.6 0 1 0 5.2 0a2.6 2.6 0 1 0 -5.2 0zM743.0 404.4a2.6 2.6 0 1 0 5.2 0a2.6 2.6 0 1 0 -5.2 0z"/>
<path fill="#0c0700" d="M396.1 370.9a2.6 2.6 0 1 0 5.2 0a2.6 2.6 0 1 0 -5.2 0zM415.7 380.9a2.6 2.6 0 1 0 5.2 0a2.6 2.6 0 1 0 -5.2 0zM433.8 390.9a2.6 2.6 0 1 0 5.2 0a2.6 2.6 0 1 0 -5.2 0z"/>
<path fill="#140c00" d="M396.1 359.7a2.6 2.6 0 1 0 5.2 0a2.6 2.6 0 1 0 -5.2 0zM415.7 370.0a2.6 2.6 0 1 0 5.2 0a2.6 2.6 0 1 0 -5.2 0zM552.8 435.4a2.6 2.6 0 1 0 5.2 0a2.6 2.6 0 1 0 -5.2 0z"/>
<path fill="#1a1000" d="M396.1 353.5a2.6 2.6 0 1 0 5.2 0a2.6 2.6 0 1 0 -5.2 0zM507.4 415.2a2.6 2.6 0 1 0 5.2 0a2.6 2.6 0 1 0 -5.2 0zM519.7 420.3a2.6 2.6 0 1 0 5.2 0a2.6 2.6 0 1 0 -5.2 0zM637.6 460.0a2.6 2.6 0 1 0 5.2 0a2.6 2.6 0 1 0 -5.2 0zM664.2 469.9a2.6 2.6 0 1 0 5.2 0a2.6 2.6 0 1 0 -5.2 0zM670.4 469.9a2.6 2.6 0 1 0 5.2 0a2.6 2.6 0 1 0 -5.2 0z"/>
<path fill="#341f00" d="M396.1 338.3a2.6 2.6 0 1 0 5.2 0a2.6 2.6 0 1 0 -5.2 0zM466.2 377.3a2.6 2.6 0 1 0 5.2 0a2.6 2.6 0 1 0 -5.2 0zM531.3 414.3a2.6 2.6 0 1 0 5.2 0a2.6 2.6 0 1 0 -5.2 0zM644.5 454.9a2.6 2.6 0 1 0 5.2 0a2.6 2.6 0 1 0 -5.2 0zM657.9 459.9a2.6 2.6 0 1 0 5.2 0a2.6 2.6 0 1 0 -5.2 0z"/>
<path fill="#855000" d="M396.1 309.4a2.6 2.6 0 1 0 5.2 0a2.6 2.6 0 1 0 -5.2 0z"/>
<path fill="#f89b03" d="M396.1 271.5a2.6 2.6 0 1 0 5.2 0a2.6 2.6 0 1 0 -5.2 0zM724.5 453.2a2.6 2.6 0 1 0 5.2 0a2.6 2.6 0 1 0 -5.2 0z"/>
<path fill="#4acd48" d="M396.1 198.8a2.6 2.6 0 1 0 5.2 0a2.6 2.6 0 1 0 -5.2 0z"/>
<path fill="#11f1e8" d="M396.1 125.2a2.6 2.6 0 1 0 5.2 0a2.6 2.6 0 1 0 -5.2 0z"/>
<path fill="#32def3" d="M396.1 62.4a2.6 2.6 0 1 0 5.2 0a2.6 2.6 0 1 0 -5.2 0z"/>
<path fill="#090600" d="M415.7 386.1a2.6 2.6 0 1 0 5.2 0a2.6 2.6 0 1 0 -5.2 0zM433.8 396.0a2.6 2.6 0 1 0 5.2 0a2.6 2.6 0 1 0 -5.2 0z"/>
<path fill="#1a0f00" d="M415.7 364.1a2.6 2.6 0 1 0 5.2 0a2.6 2.6 0 1 0 -5.2 0zM623.0 455.1a2.6 2.6 0 1 0 5.2 0a2.6 2.6 0 1 0 -5.2 0zM657.9 465.0a2.6 2.6 0 1 0 5.2 0a2.6 2.6 0 1 0 -5.2 0z"/>
<path fill="#311d00" d="M415.7 350.2a2.6 2.6 0 1 0 5.2 0a2.6 2.6 0 1 0 -5.2 0zM480.8 388.2a2.6 2.6 0 1 0 5.2 0a2.6 2.6 0 1 0 -5.2 0zM670.4 464.9a2.6 2.6 0 1 0 5.2 0a2.6 2.6 0 1 0 -5.2 0z"/>
<path fill="#462a00" d="M415.7 341.1a2.6 2.6 0 1 0 5.2 0a2.6 2.6 0 1 0 -5.2 0zM507.4 392.2a2.6 2.6 0 1 0 5.2 0a2.6 2.6 0 1 0 -5.2 0zM729.3 474.7a2.6 2.6 0 1 0 5.2 0a2.6 2.6 0 1 0 -5.2 0z"/>
<path fill="#683f00" d="M415.7 328.8a2.6 2.6 0 1 0 5.2 0a2.6 2.6 0 1 0 -5.2 0z"/>
<path fill="#af6900" d="M415.7 308.4a2.6 2.6 0 1 0 5.2 0a2.6 2.6 0 1 0 -5.2 0zM480.8 345.6a2.6 2.6 0 1 0 5.2 0a2.6 2.6 0 1 0 -5.2 0zM531.3 372.7a2.6 2.6 0 1 0 5.2 0a2.6 2.6 0 1 0 -5.2 0z"/>
<path fill="#a2b424" d="M415.7 254.9a2.6 2.6 0 1 0 5.2 0a2.6 2.6 0 1 0 -5.2 0z"/>
<path fill="#32dd8d" d="M415.7 192.2a2.6 2.6 0 1 0 5.2 0a2.6 2.6 0 1 0 -5.2 0zM590.6 338.0a2.6 2.6 0 1 0 5.2 0a2.6 2.6 0 1 0 -5.2 0z"/>
<path fill="#1ceaf0" d="M415.7 129.6a2.6 2.6 0 1 0 5.2 0a2.6 2.6 0 1 0 -5.2 0zM542.3 269.7a2.6 2.6 0 1 0 5.2 0a2.6 2.6 0 1 0 -5.2 0zM644.5 346.7a2.6 2.6 0 1 0 5.2 0a2.6 2.6 0 1 0 -5.2 0zM738.5 404.9a2.6 2.6 0 1 0 5.2 0a2.6 2.6 0 1 0 -5.2 0z"/>
<path fill="#3ad9f4" d="M415.7 76.9a2.6 2.6 0 1 0 5.2 0a2.6 2.6 0 1 0 -5.2 0zM644.5 326.9a2.6 2.6 0 1 0 5.2 0a2.6 2.6 0 1 0 -5.2 0zM664.2 339.3a2.6 2.6 0 1 0 5.2 0a2.6 2.6 0 1 0 -5.2 0z"/>
<path fill="#50ccf8" d="M415.7 27.0a2.6 2.6 0 1 0 5.2 0a2.6 2.6 0 1 0 -5.2 0zM507.4 168.7a2.6 2.6 0 1 0 5.2 0a2.6 2.6 0 1 0 -5.2 0zM590.6 261.4a2.6 2.6 0 1 0 5.2 0a2.6 2.6 0 1 0 -5.2 0zM664.2 320.6a2.6 2.6 0 1 0 5.2 0a2.6 2.6 0 1 0 -5.2 0z"/>
<path fill="#180e00" d="M433.8 379.8a2.6 2.6 0 1 0 5.2 0a2.6 2.6 0 1 0 -5.2 0z"/>
<path fill="#261700" d="M433.8 367.9a2.6 2.6 0 1 0 5.2 0a2.6 2.6 0 1 0 -5.2 0zM450.6 378.6a2.6 2.6 0 1 0 5.2 0a2.6 2.6 0 1 0 -5.2 0zM552.8 425.0a2.6 2.6 0 1 0 5.2 0a2.6 2.6 0 1 0 -5.2 0z"/>
<path fill="#301d00" d="M433.8 361.3a2.6 2.6 0 1 0 5.2 0a2.6 2.6 0 1 0 -5.2 0zM507.4 404.1a2.6 2.6 0 1 0 5.2 0a2.6 2.6 0 1 0 -5.2 0zM599.2 434.8a2.6 2.6 0 1 0 5.2 0a2.6 2.6 0 1 0 -5.2 0z"/>
<path fill="#573400" d="M433.8 344.4a2.6 2.6 0 1 0 5.2 0a2.6 2.6 0 1 0 -5.2 0z"/>
<path fill="#834f00" d="M433.8 330.9a2.6 2.6 0 1 0 5.2 0a2.6 2.6 0 1 0 -5.2 0zM709.6 464.5a2.6 2.6 0 1 0 5.2 0a2.6 2.6 0 1 0 -5.2 0z"/>
<path fill="#e38800" d="M433.8 306.7a2.6 2.6 0 1 0 5.2 0a2.6 2.6 0 1 0 -5.2 0zM729.3 458.8a2.6 2.6 0 1 0 5.2 0a2.6 2.6 0 1 0 -5.2 0z"/>
<path fill="#7fbe32" d="M433.8 256.8a2.6 2.6 0 1 0 5.2 0a2.6 2.6 0 1 0 -5.2 0z"/>
<path fill="#24e5b4" d="M433.8 197.1a2.6 2.6 0 1 0 5.2 0a2.6 2.6 0 1 0 -5.2 0z"/>
<path fill="#26e4f1" d="M433.8 140.9a2.6 2.6 0 1 0 5.2 0a2.6 2.6 0 1 0 -5.2 0zM688.1 366.1a2.6 2.6 0 1 0 5.2 0a2.6 2.6 0 1 0 -5.2 0z"/>
<path fill="#41d5f6" d="M433.8 93.5a2.6 2.6 0 1 0 5.2 0a2.6 2.6 0 1 0 -5.2 0z"/>
<path fill="#55c9f9" d="M433.8 47.9a2.6 2.6 0 1 0 5.2 0a2.6 2.6 0 1 0 -5.2 0z"/>
<path fill="#060400" d="M450.6 411.1a2.6 2.6 0 1 0 5.2 0a2.6 2.6 0 1 0 -5.2 0zM466.2 416.0a2.6 2.6 0 1 0 5.2 0a2.6 2.6 0 1 0 -5.2 0zM480.8 420.9a2.6 2.6 0 1 0 5.2 0a2.6 2.6 0 1 0 -5.2 0zM494.5 425.8a2.6 2.6 0 1 0 5.2 0a2.6 2.6 0 1 0 -5.2 0zM519.7 435.6a2.6 2.6 0 1 0 5.2 0a2.6 2.6 0 1 0 -5.2 0zM531.3 440.6a2.6 2.6 0 1 0 5.2 0a2.6 2.6 0 1 0 -5.2 0z"/>
<path fill="#100900" d="M450.6 395.6a2.6 2.6 0 1 0 5.2 0a2.6 2.6 0 1 0 -5.2 0zM531.3 430.5a2.6 2.6 0 1 0 5.2 0a2.6 2.6 0 1 0 -5.2 0z"/>
<path fill="#170e00" d="M450.6 390.1a2.6 2.6 0 1 0 5.2 0a2.6 2.6 0 1 0 -5.2 0zM480.8 405.3a2.6 2.6 0 1 0 5.2 0a2.6 2.6 0 1 0 -5.2 0zM590.6 445.3a2.6 2.6 0 1 0 5.2 0a2.6 2.6 0 1 0 -5.2 0z"/>
<path fill="#1e1200" d="M450.6 384.4a2.6 2.6 0 1 0 5.2 0a2.6 2.6 0 1 0 -5.2 0zM480.8 399.8a2.6 2.6 0 1 0 5.2 0a2.6 2.6 0 1 0 -5.2 0zM590.6 440.2a2.6 2.6 0 1 0 5.2 0a2.6 2.6 0 1 0 -5.2 0zM615.3 450.1a2.6 2.6 0 1 0 5.2 0a2.6 2.6 0 1 0 -5.2 0zM729.3 479.7a2.6 2.6 0 1 0 5.2 0a2.6 2.6 0 1 0 -5.2 0z"/>
<path fill="#3c2400" d="M450.6 365.4a2.6 2.6 0 1 0 5.2 0a2.6 2.6 0 1 0 -5.2 0zM480.8 382.0a2.6 2.6 0 1 0 5.2 0a2.6 2.6 0 1 0 -5.2 0zM607.4 434.6a2.6 2.6 0 1 0 5.2 0a2.6 2.6 0 1 0 -5.2 0zM693.6 469.8a2.6 2.6 0 1 0 5.2 0a2.6 2.6 0 1 0 -5.2 0z"/>
<path fill="#4d2e00" d="M450.6 357.7a2.6 2.6 0 1 0 5.2 0a2.6 2.6 0 1 0 -5.2 0zM607.4 429.1a2.6 2.6 0 1 0 5.2 0a2.6 2.6 0 1 0 -5.2 0z"/>
<path fill="#673e00" d="M450.6 348.3a2.6 2.6 0 1 0 5.2 0a2.6 2.6 0 1 0 -5.2 0zM651.3 444.2a2.6 2.6 0 1 0 5.2 0a2.6 2.6 0 1 0 -5.2 0zM719.7 469.6a2.6 2.6 0 1 0 5.2 0a2.6 2.6 0 1 0 -5.2 0z"/>
<path fill="#955900" d="M450.6 335.0a2.6 2.6 0 1 0 5.2 0a2.6 2.6 0 1 0 -5.2 0zM599.2 410.7a2.6 2.6 0 1 0 5.2 0a2.6 2.6 0 1 0 -5.2 0zM676.5 448.9a2.6 2.6 0 1 0 5.2 0a2.6 2.6 0 1 0 -5.2 0z"/>
<path fill="#fe9900" d="M450.6 310.5a2.6 2.6 0 1 0 5.2 0a2.6 2.6 0 1 0 -5.2 0zM682.3 436.7a2.6 2.6 0 1 0 5.2 0a2.6 2.6 0 1 0 -5.2 0z"/>
<path fill="#6fc338" d="M450.6 264.6a2.6 2.6 0 1 0 5.2 0a2.6 2.6 0 1 0 -5.2 0z"/>
<path fill="#1fe8c2" d="M450.6 209.6a2.6 2.6 0 1 0 5.2 0a2.6 2.6 0 1 0 -5.2 0z"/>
<path fill="#29e3f2" d="M450.6 158.5a2.6 2.6 0 1 0 5.2 0a2.6 2.6 0 1 0 -5.2 0zM531.3 248.0a2.6 2.6 0 1 0 5.2 0a2.6 2.6 0 1 0 -5.2 0zM651.3 343.6a2.6 2.6 0 1 0 5.2 0a2.6 2.6 0 1 0 -5.2 0zM670.4 354.9a2.6 2.6 0 1 0 5.2 0a2.6 2.6 0 1 0 -5.2 0z"/>
<path fill="#44d3f6" d="M450.6 113.5a2.6 2.6 0 1 0 5.2 0a2.6 2.6 0 1 0 -5.2 0zM531.3 215.7a2.6 2.6 0 1 0 5.2 0a2.6 2.6 0 1 0 -5.2 0zM693.6 348.7a2.6 2.6 0 1 0 5.2 0a2.6 2.6 0 1 0 -5.2 0zM738.5 381.5a2.6 2.6 0 1 0 5.2 0a2.6 2.6 0 1 0 -5.2 0z"/>
<path fill="#58c7f9" d="M450.6 70.5a2.6 2.6 0 1 0 5.2 0a2.6 2.6 0 1 0 -5.2 0zM466.2 95.4a2.6 2.6 0 1 0 5.2 0a2.6 2.6 0 1 0 -5.2 0zM562.9 222.5a2.6 2.6 0 1 0 5.2 0a2.6 2.6 0 1 0 -5.2 0zM651.3 304.2a2.6 2.6 0 1 0 5.2 0a2.6 2.6 0 1 0 -5.2 0zM776.0 389.0a2.6 2.6 0 1 0 5.2 0a2.6 2.6 0 1 0 -5.2 0z"/>
<path fill="#69c1fa" d="M450.6 30.1a2.6 2.6 0 1 0 5.2 0a2.6 2.6 0 1 0 -5.2 0zM480.8 83.2a2.6 2.6 0 1 0 5.2 0a2.6 2.6 0 1 0 -5.2 0z"/>
<path fill="#130c00" d="M466.2 400.4a2.6 2.6 0 1 0 5.2 0a2.6 2.6 0 1 0 -5.2 0z"/>
<path fill="#1b1000" d="M466.2 394.9a2.6 2.6 0 1 0 5.2 0a2.6 2.6 0 1 0 -5.2 0zM676.5 469.9a2.6 2.6 0 1 0 5.2 0a2.6 2.6 0 1 0 -5.2 0z"/>
<path fill="#2c1b00" d="M466.2 388.6a2.6 2.6 0 1 0 5.2 0a2.6 2.6 0 1 0 -5.2 0zM542.3 419.7a2.6 2.6 0 1 0 5.2 0a2.6 2.6 0 1 0 -5.2 0z"/>
<path fill="#2a1900" d="M466.2 383.5a2.6 2.6 0 1 0 5.2 0a2.6 2.6 0 1 0 -5.2 0zM651.3 460.0a2.6 2.6 0 1 0 5.2 0a2.6 2.6 0 1 0 -5.2 0zM747.4 479.7a2.6 2.6 0 1 0 5.2 0a2.6 2.6 0 1 0 -5.2 0z"/>
<path fill="#422800" d="M466.2 370.4a2.6 2.6 0 1 0 5.2 0a2.6 2.6 0 1 0 -5.2 0z"/>
<path fill="#724500" d="M466.2 353.1a2.6 2.6 0 1 0 5.2 0a2.6 2.6 0 1 0 -5.2 0z"/>
<path fill="#a26100" d="M466.2 340.2a2.6 2.6 0 1 0 5.2 0a2.6 2.6 0 1 0 -5.2 0zM724.5 464.4a2.6 2.6 0 1 0 5.2 0a2.6 2.6 0 1 0 -5.2 0z"/>
<path fill="#f39d05" d="M466.2 316.4a2.6 2.6 0 1 0 5.2 0a2.6 2.6 0 1 0 -5.2 0z"/>
<path fill="#69c43a" d="M466.2 275.4a2.6 2.6 0 1 0 5.2 0a2.6 2.6 0 1 0 -5.2 0zM637.6 383.5a2.6 2.6 0 1 0 5.2 0a2.6 2.6 0 1 0 -5.2 0z"/>
<path fill="#1fe8c0" d="M466.2 226.2a2.6 2.6 0 1 0 5.2 0a2.6 2.6 0 1 0 -5.2 0z"/>
<path fill="#28e3f2" d="M466.2 178.8a2.6 2.6 0 1 0 5.2 0a2.6 2.6 0 1 0 -5.2 0z"/>
<path fill="#43d3f6" d="M466.2 136.2a2.6 2.6 0 1 0 5.2 0a2.6 2.6 0 1 0 -5.2 0zM480.8 158.0a2.6 2.6 0 1 0 5.2 0a2.6 2.6 0 1 0 -5.2 0zM581.7 266.9a2.6 2.6 0 1 0 5.2 0a2.6 2.6 0 1 0 -5.2 0zM599.2 282.2a2.6 2.6 0 1 0 5.2 0a2.6 2.6 0 1 0 -5.2 0zM651.3 324.2a2.6 2.6 0 1 0 5.2 0a2.6 2.6 0 1 0 -5.2 0zM772.1 400.8a2.6 2.6 0 1 0 5.2 0a2.6 2.6 0 1 0 -5.2 0z"/>
<path fill="#6ac1fa" d="M466.2 56.5a2.6 2.6 0 1 0 5.2 0a2.6 2.6 0 1 0 -5.2 0zM670.4 299.7a2.6 2.6 0 1 0 5.2 0a2.6 2.6 0 1 0 -5.2 0zM724.5 341.3a2.6 2.6 0 1 0 5.2 0a2.6 2.6 0 1 0 -5.2 0z"/>
<path fill="#271700" d="M480.8 394.2a2.6 2.6 0 1 0 5.2 0a2.6 2.6 0 1 0 -5.2 0z"/>
<path fill="#4a2c00" d="M480.8 375.3a2.6 2.6 0 1 0 5.2 0a2.6 2.6 0 1 0 -5.2 0z"/>
<path fill="#5a3600" d="M480.8 368.0a2.6 2.6 0 1 0 5.2 0a2.6 2.6 0 1 0 -5.2 0zM615.3 428.8a2.6 2.6 0 1 0 5.2 0a2.6 2.6 0 1 0 -5.2 0z"/>
<path fill="#794900" d="M480.8 358.6a2.6 2.6 0 1 0 5.2 0a2.6 2.6 0 1 0 -5.2 0zM704.4 464.5a2.6 2.6 0 1 0 5.2 0a2.6 2.6 0 1 0 -5.2 0z"/>
<path fill="#ee9e07" d="M480.8 324.0a2.6 2.6 0 1 0 5.2 0a2.6 2.6 0 1 0 -5.2 0z"/>
<path fill="#72c237" d="M480.8 288.9a2.6 2.6 0 1 0 5.2 0a2.6 2.6 0 1 0 -5.2 0z"/>
<path fill="#25e5b1" d="M480.8 244.7a2.6 2.6 0 1 0 5.2 0a2.6 2.6 0 1 0 -5.2 0zM714.7 408.5a2.6 2.6 0 1 0 5.2 0a2.6 2.6 0 1 0 -5.2 0z"/>
<path fill="#25e5f1" d="M480.8 199.8a2.6 2.6 0 1 0 5.2 0a2.6 2.6 0 1 0 -5.2 0zM615.3 320.6a2.6 2.6 0 1 0 5.2 0a2.6 2.6 0 1 0 -5.2 0zM729.3 395.2a2.6 2.6 0 1 0 5.2 0a2.6 2.6 0 1 0 -5.2 0zM764.2 412.3a2.6 2.6 0 1 0 5.2 0a2.6 2.6 0 1 0 -5.2 0z"/>
<path fill="#56c8f9" d="M480.8 120.3a2.6 2.6 0 1 0 5.2 0a2.6 2.6 0 1 0 -5.2 0zM670.4 319.0a2.6 2.6 0 1 0 5.2 0a2.6 2.6 0 1 0 -5.2 0zM738.5 368.2a2.6 2.6 0 1 0 5.2 0a2.6 2.6 0 1 0 -5.2 0zM755.9 378.9a2.6 2.6 0 1 0 5.2 0a2.6 2.6 0 1 0 -5.2 0z"/>
<path fill="#77bcfb" d="M480.8 46.5a2.6 2.6 0 1 0 5.2 0a2.6 2.6 0 1 0 -5.2 0zM704.4 311.4a2.6 2.6 0 1 0 5.2 0a2.6 2.6 0 1 0 -5.2 0z"/>
<path fill="#190f00" d="M494.5 410.2a2.6 2.6 0 1 0 5.2 0a2.6 2.6 0 1 0 -5.2 0zM531.3 425.3a2.6 2.6 0 1 0 5.2 0a2.6 2.6 0 1 0 -5.2 0zM562.9 435.3a2.6 2.6 0 1 0 5.2 0a2.6 2.6 0 1 0 -5.2 0zM581.7 440.3a2.6 2.6 0 1 0 5.2 0a2.6 2.6 0 1 0 -5.2 0zM607.4 450.2a2.6 2.6 0 1 0 5.2 0a2.6 2.6 0 1 0 -5.2 0zM651.3 465.0a2.6 2.6 0 1 0 5.2 0a2.6 2.6 0 1 0 -5.2 0z"/>
<path fill="#211400" d="M494.5 404.8a2.6 2.6 0 1 0 5.2 0a2.6 2.6 0 1 0 -5.2 0zM562.9 430.1a2.6 2.6 0 1 0 5.2 0a2.6 2.6 0 1 0 -5.2 0zM644.5 460.0a2.6 2.6 0 1 0 5.2 0a2.6 2.6 0 1 0 -5.2 0zM776.0 484.6a2.6 2.6 0 1 0 5.2 0a2.6 2.6 0 1 0 -5.2 0z"/>
<path fill="#2b1a00" d="M494.5 399.1a2.6 2.6 0 1 0 5.2 0a2.6 2.6 0 1 0 -5.2 0zM562.9 424.8a2.6 2.6 0 1 0 5.2 0a2.6 2.6 0 1 0 -5.2 0zM688.1 469.8a2.6 2.6 0 1 0 5.2 0a2.6 2.6 0 1 0 -5.2 0z"/>
<path fill="#372100" d="M494.5 393.2a2.6 2.6 0 1 0 5.2 0a2.6 2.6 0 1 0 -5.2 0zM562.9 419.3a2.6 2.6 0 1 0 5.2 0a2.6 2.6 0 1 0 -5.2 0zM615.3 439.8a2.6 2.6 0 1 0 5.2 0a2.6 2.6 0 1 0 -5.2 0zM719.7 474.8a2.6 2.6 0 1 0 5.2 0a2.6 2.6 0 1 0 -5.2 0z"/>
<path fill="#422700" d="M494.5 387.0a2.6 2.6 0 1 0 5.2 0a2.6 2.6 0 1 0 -5.2 0z"/>
<path fill="#613a00" d="M494.5 373.2a2.6 2.6 0 1 0 5.2 0a2.6 2.6 0 1 0 -5.2 0zM693.6 464.7a2.6 2.6 0 1 0 5.2 0a2.6 2.6 0 1 0 -5.2 0z"/>
<path fill="#7d4b00" d="M494.5 364.5a2.6 2.6 0 1 0 5.2 0a2.6 2.6 0 1 0 -5.2 0z"/>
<path fill="#b16a00" d="M494.5 352.3a2.6 2.6 0 1 0 5.2 0a2.6 2.6 0 1 0 -5.2 0zM693.6 453.9a2.6 2.6 0 1 0 5.2 0a2.6 2.6 0 1 0 -5.2 0z"/>
<path fill="#f59c04" d="M494.5 333.9a2.6 2.6 0 1 0 5.2 0a2.6 2.6 0 1 0 -5.2 0z"/>
<path fill="#82bd31" d="M494.5 303.2a2.6 2.6 0 1 0 5.2 0a2.6 2.6 0 1 0 -5.2 0z"/>
<path fill="#28e2a7" d="M494.5 261.2a2.6 2.6 0 1 0 5.2 0a2.6 2.6 0 1 0 -5.2 0z"/>
<path fill="#1fe9f0" d="M494.5 221.0a2.6 2.6 0 1 0 5.2 0a2.6 2.6 0 1 0 -5.2 0z"/>
<path fill="#40d5f5" d="M494.5 180.3a2.6 2.6 0 1 0 5.2 0a2.6 2.6 0 1 0 -5.2 0zM670.4 337.6a2.6 2.6 0 1 0 5.2 0a2.6 2.6 0 1 0 -5.2 0zM719.7 371.9a2.6 2.6 0 1 0 5.2 0a2.6 2.6 0 1 0 -5.2 0zM751.7 391.9a2.6 2.6 0 1 0 5.2 0a2.6 2.6 0 1 0 -5.2 0z"/>
<path fill="#54c9f8" d="M494.5 144.6a2.6 2.6 0 1 0 5.2 0a2.6 2.6 0 1 0 -5.2 0zM630.4 290.9a2.6 2.6 0 1 0 5.2 0a2.6 2.6 0 1 0 -5.2 0zM772.1 389.3a2.6 2.6 0 1 0 5.2 0a2.6 2.6 0 1 0 -5.2 0z"/>
<path fill="#67c2fa" d="M494.5 109.1a2.6 2.6 0 1 0 5.2 0a2.6 2.6 0 1 0 -5.2 0zM688.1 315.1a2.6 2.6 0 1 0 5.2 0a2.6 2.6 0 1 0 -5.2 0zM704.4 328.8a2.6 2.6 0 1 0 5.2 0a2.6 2.6 0 1 0 -5.2 0zM738.5 354.1a2.6 2.6 0 1 0 5.2 0a2.6 2.6 0 1 0 -5.2 0zM755.9 365.8a2.6 2.6 0 1 0 5.2 0a2.6 2.6 0 1 0 -5.2 0z"/>
<path fill="#76bcfb" d="M494.5 73.4a2.6 2.6 0 1 0 5.2 0a2.6 2.6 0 1 0 -5.2 0zM644.5 264.7a2.6 2.6 0 1 0 5.2 0a2.6 2.6 0 1 0 -5.2 0zM664.2 281.1a2.6 2.6 0 1 0 5.2 0a2.6 2.6 0 1 0 -5.2 0zM738.5 339.2a2.6 2.6 0 1 0 5.2 0a2.6 2.6 0 1 0 -5.2 0zM776.0 363.8a2.6 2.6 0 1 0 5.2 0a2.6 2.6 0 1 0 -5.2 0z"/>
<path fill="#80b9fc" d="M494.5 39.2a2.6 2.6 0 1 0 5.2 0a2.6 2.6 0 1 0 -5.2 0zM657.9 261.6a2.6 2.6 0 1 0 5.2 0a2.6 2.6 0 1 0 -5.2 0zM772.1 350.4a2.6 2.6 0 1 0 5.2 0a2.6 2.6 0 1 0 -5.2 0z"/>
<path fill="#3a2300" d="M507.4 398.3a2.6 2.6 0 1 0 5.2 0a2.6 2.6 0 1 0 -5.2 0zM676.5 464.8a2.6 2.6 0 1 0 5.2 0a2.6 2.6 0 1 0 -5.2 0zM755.9 479.7a2.6 2.6 0 1 0 5.2 0a2.6 2.6 0 1 0 -5.2 0z"/>
<path fill="#533200" d="M507.4 385.8a2.6 2.6 0 1 0 5.2 0a2.6 2.6 0 1 0 -5.2 0z"/>
<path fill="#663d00" d="M507.4 378.6a2.6 2.6 0 1 0 5.2 0a2.6 2.6 0 1 0 -5.2 0zM542.3 395.8a2.6 2.6 0 1 0 5.2 0a2.6 2.6 0 1 0 -5.2 0zM607.4 423.2a2.6 2.6 0 1 0 5.2 0a2.6 2.6 0 1 0 -5.2 0z"/>
<path fill="#824e00" d="M507.4 370.2a2.6 2.6 0 1 0 5.2 0a2.6 2.6 0 1 0 -5.2 0zM531.3 382.4a2.6 2.6 0 1 0 5.2 0a2.6 2.6 0 1 0 -5.2 0zM734.0 469.6a2.6 2.6 0 1 0 5.2 0a2.6 2.6 0 1 0 -5.2 0z"/>
<path fill="#b66d00" d="M507.4 358.7a2.6 2.6 0 1 0 5.2 0a2.6 2.6 0 1 0 -5.2 0zM755.9 469.4a2.6 2.6 0 1 0 5.2 0a2.6 2.6 0 1 0 -5.2 0z"/>
<path fill="#fb9a02" d="M507.4 342.9a2.6 2.6 0 1 0 5.2 0a2.6 2.6 0 1 0 -5.2 0zM693.6 442.2a2.6 2.6 0 1 0 5.2 0a2.6 2.6 0 1 0 -5.2 0z"/>
<path fill="#95b829" d="M507.4 317.0a2.6 2.6 0 1 0 5.2 0a2.6 2.6 0 1 0 -5.2 0zM768.2 452.1a2.6 2.6 0 1 0 5.2 0a2.6 2.6 0 1 0 -5.2 0z"/>
<path fill="#33dc88" d="M507.4 280.4a2.6 2.6 0 1 0 5.2 0a2.6 2.6 0 1 0 -5.2 0z"/>
<path fill="#18edef" d="M507.4 241.5a2.6 2.6 0 1 0 5.2 0a2.6 2.6 0 1 0 -5.2 0zM676.5 368.8a2.6 2.6 0 1 0 5.2 0a2.6 2.6 0 1 0 -5.2 0z"/>
<path fill="#39d9f4" d="M507.4 203.8a2.6 2.6 0 1 0 5.2 0a2.6 2.6 0 1 0 -5.2 0zM779.8 410.6a2.6 2.6 0 1 0 5.2 0a2.6 2.6 0 1 0 -5.2 0z"/>
<path fill="#64c3fa" d="M507.4 134.0a2.6 2.6 0 1 0 5.2 0a2.6 2.6 0 1 0 -5.2 0zM590.6 235.9a2.6 2.6 0 1 0 5.2 0a2.6 2.6 0 1 0 -5.2 0z"/>
<path fill="#74bdfb" d="M507.4 100.3a2.6 2.6 0 1 0 5.2 0a2.6 2.6 0 1 0 -5.2 0zM572.5 190.8a2.6 2.6 0 1 0 5.2 0a2.6 2.6 0 1 0 -5.2 0zM607.4 229.6a2.6 2.6 0 1 0 5.2 0a2.6 2.6 0 1 0 -5.2 0zM682.3 297.2a2.6 2.6 0 1 0 5.2 0a2.6 2.6 0 1 0 -5.2 0zM719.7 326.1a2.6 2.6 0 1 0 5.2 0a2.6 2.6 0 1 0 -5.2 0zM772.1 364.2a2.6 2.6 0 1 0 5.2 0a2.6 2.6 0 1 0 -5.2 0z"/>
<path fill="#7eb9fc" d="M507.4 67.5a2.6 2.6 0 1 0 5.2 0a2.6 2.6 0 1 0 -5.2 0zM637.6 244.3a2.6 2.6 0 1 0 5.2 0a2.6 2.6 0 1 0 -5.2 0z"/>
<path fill="#87b6fc" d="M507.4 33.3a2.6 2.6 0 1 0 5.2 0a2.6 2.6 0 1 0 -5.2 0zM581.7 159.9a2.6 2.6 0 1 0 5.2 0a2.6 2.6 0 1 0 -5.2 0zM599.2 181.5a2.6 2.6 0 1 0 5.2 0a2.6 2.6 0 1 0 -5.2 0zM615.3 202.5a2.6 2.6 0 1 0 5.2 0a2.6 2.6 0 1 0 -5.2 0zM651.3 241.2a2.6 2.6 0 1 0 5.2 0a2.6 2.6 0 1 0 -5.2 0zM688.1 276.4a2.6 2.6 0 1 0 5.2 0a2.6 2.6 0 1 0 -5.2 0z"/>
<path fill="#331f00" d="M519.7 409.1a2.6 2.6 0 1 0 5.2 0a2.6 2.6 0 1 0 -5.2 0zM581.7 424.6a2.6 2.6 0 1 0 5.2 0a2.6 2.6 0 1 0 -5.2 0zM623.0 444.9a2.6 2.6 0 1 0 5.2 0a2.6 2.6 0 1 0 -5.2 0z"/>
<path fill="#3d2400" d="M519.7 403.5a2.6 2.6 0 1 0 5.2 0a2.6 2.6 0 1 0 -5.2 0z"/>
<path fill="#482b00" d="M519.7 397.5a2.6 2.6 0 1 0 5.2 0a2.6 2.6 0 1 0 -5.2 0zM531.3 402.9a2.6 2.6 0 1 0 5.2 0a2.6 2.6 0 1 0 -5.2 0zM657.9 454.8a2.6 2.6 0 1 0 5.2 0a2.6 2.6 0 1 0 -5.2 0zM670.4 459.8a2.6 2.6 0 1 0 5.2 0a2.6 2.6 0 1 0 -5.2 0zM699.1 469.7a2.6 2.6 0 1 0 5.2 0a2.6 2.6 0 1 0 -5.2 0z"/>
<path fill="#543300" d="M519.7 391.3a2.6 2.6 0 1 0 5.2 0a2.6 2.6 0 1 0 -5.2 0z"/>
<path fill="#683e00" d="M519.7 384.3a2.6 2.6 0 1 0 5.2 0a2.6 2.6 0 1 0 -5.2 0zM531.3 390.0a2.6 2.6 0 1 0 5.2 0a2.6 2.6 0 1 0 -5.2 0z"/>
<path fill="#844f00" d="M519.7 376.2a2.6 2.6 0 1 0 5.2 0a2.6 2.6 0 1 0 -5.2 0zM581.7 405.7a2.6 2.6 0 1 0 5.2 0a2.6 2.6 0 1 0 -5.2 0zM630.4 427.9a2.6 2.6 0 1 0 5.2 0a2.6 2.6 0 1 0 -5.2 0z"/>
<path fill="#b46c00" d="M519.7 365.7a2.6 2.6 0 1 0 5.2 0a2.6 2.6 0 1 0 -5.2 0z"/>
<path fill="#f99500" d="M519.7 352.0a2.6 2.6 0 1 0 5.2 0a2.6 2.6 0 1 0 -5.2 0z"/>
<path fill="#adb120" d="M519.7 330.5a2.6 2.6 0 1 0 5.2 0a2.6 2.6 0 1 0 -5.2 0z"/>
<path fill="#41d362" d="M519.7 299.3a2.6 2.6 0 1 0 5.2 0a2.6 2.6 0 1 0 -5.2 0z"/>
<path fill="#10f1eb" d="M519.7 262.4a2.6 2.6 0 1 0 5.2 0a2.6 2.6 0 1 0 -5.2 0zM552.8 290.4a2.6 2.6 0 1 0 5.2 0a2.6 2.6 0 1 0 -5.2 0z"/>
<path fill="#31def3" d="M519.7 226.5a2.6 2.6 0 1 0 5.2 0a2.6 2.6 0 1 0 -5.2 0zM552.8 259.7a2.6 2.6 0 1 0 5.2 0a2.6 2.6 0 1 0 -5.2 0zM755.9 402.7a2.6 2.6 0 1 0 5.2 0a2.6 2.6 0 1 0 -5.2 0z"/>
<path fill="#4bcff7" d="M519.7 192.4a2.6 2.6 0 1 0 5.2 0a2.6 2.6 0 1 0 -5.2 0zM552.8 229.5a2.6 2.6 0 1 0 5.2 0a2.6 2.6 0 1 0 -5.2 0zM623.0 294.3a2.6 2.6 0 1 0 5.2 0a2.6 2.6 0 1 0 -5.2 0zM779.8 400.0a2.6 2.6 0 1 0 5.2 0a2.6 2.6 0 1 0 -5.2 0z"/>
<path fill="#63c3fa" d="M519.7 157.3a2.6 2.6 0 1 0 5.2 0a2.6 2.6 0 1 0 -5.2 0zM572.5 217.8a2.6 2.6 0 1 0 5.2 0a2.6 2.6 0 1 0 -5.2 0zM607.4 253.9a2.6 2.6 0 1 0 5.2 0a2.6 2.6 0 1 0 -5.2 0zM734.0 354.8a2.6 2.6 0 1 0 5.2 0a2.6 2.6 0 1 0 -5.2 0zM751.7 366.4a2.6 2.6 0 1 0 5.2 0a2.6 2.6 0 1 0 -5.2 0z"/>
<path fill="#71befb" d="M519.7 126.5a2.6 2.6 0 1 0 5.2 0a2.6 2.6 0 1 0 -5.2 0zM657.9 282.5a2.6 2.6 0 1 0 5.2 0a2.6 2.6 0 1 0 -5.2 0zM714.7 326.9a2.6 2.6 0 1 0 5.2 0a2.6 2.6 0 1 0 -5.2 0zM768.2 364.5a2.6 2.6 0 1 0 5.2 0a2.6 2.6 0 1 0 -5.2 0z"/>
<path fill="#7dbafc" d="M519.7 94.2a2.6 2.6 0 1 0 5.2 0a2.6 2.6 0 1 0 -5.2 0zM693.6 295.0a2.6 2.6 0 1 0 5.2 0a2.6 2.6 0 1 0 -5.2 0zM768.2 350.7a2.6 2.6 0 1 0 5.2 0a2.6 2.6 0 1 0 -5.2 0z"/>
<path fill="#85b7fc" d="M519.7 62.4a2.6 2.6 0 1 0 5.2 0a2.6 2.6 0 1 0 -5.2 0zM562.9 138.0a2.6 2.6 0 1 0 5.2 0a2.6 2.6 0 1 0 -5.2 0zM724.5 308.4a2.6 2.6 0 1 0 5.2 0a2.6 2.6 0 1 0 -5.2 0zM743.0 322.9a2.6 2.6 0 1 0 5.2 0a2.6 2.6 0 1 0 -5.2 0z"/>
<path fill="#8db4fd" d="M519.7 28.8a2.6 2.6 0 1 0 5.2 0a2.6 2.6 0 1 0 -5.2 0zM699.1 274.6a2.6 2.6 0 1 0 5.2 0a2.6 2.6 0 1 0 -5.2 0zM719.7 290.9a2.6 2.6 0 1 0 5.2 0a2.6 2.6 0 1 0 -5.2 0zM738.5 306.5a2.6 2.6 0 1 0 5.2 0a2.6 2.6 0 1 0 -5.2 0zM776.0 335.1a2.6 2.6 0 1 0 5.2 0a2.6 2.6 0 1 0 -5.2 0z"/>
<path fill="#3d2500" d="M531.3 408.7a2.6 2.6 0 1 0 5.2 0a2.6 2.6 0 1 0 -5.2 0zM630.4 444.8a2.6 2.6 0 1 0 5.2 0a2.6 2.6 0 1 0 -5.2 0zM651.3 454.8a2.6 2.6 0 1 0 5.2 0a2.6 2.6 0 1 0 -5.2 0zM664.2 459.8a2.6 2.6 0 1 0 5.2 0a2.6 2.6 0 1 0 -5.2 0z"/>
<path fill="#553300" d="M531.3 396.8a2.6 2.6 0 1 0 5.2 0a2.6 2.6 0 1 0 -5.2 0zM599.2 423.7a2.6 2.6 0 1 0 5.2 0a2.6 2.6 0 1 0 -5.2 0zM664.2 454.6a2.6 2.6 0 1 0 5.2 0a2.6 2.6 0 1 0 -5.2 0z"/>
<path fill="#eb8d00" d="M531.3 360.7a2.6 2.6 0 1 0 5.2 0a2.6 2.6 0 1 0 -5.2 0zM572.5 381.7a2.6 2.6 0 1 0 5.2 0a2.6 2.6 0 1 0 -5.2 0z"/>
<path fill="#c5aa17" d="M531.3 343.0a2.6 2.6 0 1 0 5.2 0a2.6 2.6 0 1 0 -5.2 0z"/>
<path fill="#58c941" d="M531.3 317.0a2.6 2.6 0 1 0 5.2 0a2.6 2.6 0 1 0 -5.2 0zM562.9 337.4a2.6 2.6 0 1 0 5.2 0a2.6 2.6 0 1 0 -5.2 0z"/>
<path fill="#1ceaca" d="M531.3 282.2a2.6 2.6 0 1 0 5.2 0a2.6 2.6 0 1 0 -5.2 0z"/>
<path fill="#5ac6f9" d="M531.3 183.2a2.6 2.6 0 1 0 5.2 0a2.6 2.6 0 1 0 -5.2 0zM581.7 239.7a2.6 2.6 0 1 0 5.2 0a2.6 2.6 0 1 0 -5.2 0zM599.2 257.1a2.6 2.6 0 1 0 5.2 0a2.6 2.6 0 1 0 -5.2 0zM709.6 344.1a2.6 2.6 0 1 0 5.2 0a2.6 2.6 0 1 0 -5.2 0zM743.0 367.5a2.6 2.6 0 1 0 5.2 0a2.6 2.6 0 1 0 -5.2 0zM760.1 378.4a2.6 2.6 0 1 0 5.2 0a2.6 2.6 0 1 0 -5.2 0z"/>
<path fill="#6bc0fa" d="M531.3 152.7a2.6 2.6 0 1 0 5.2 0a2.6 2.6 0 1 0 -5.2 0zM615.3 251.0a2.6 2.6 0 1 0 5.2 0a2.6 2.6 0 1 0 -5.2 0zM743.0 353.5a2.6 2.6 0 1 0 5.2 0a2.6 2.6 0 1 0 -5.2 0zM760.1 365.4a2.6 2.6 0 1 0 5.2 0a2.6 2.6 0 1 0 -5.2 0zM779.8 376.4a2.6 2.6 0 1 0 5.2 0a2.6 2.6 0 1 0 -5.2 0z"/>
<path fill="#7abbfc" d="M531.3 120.6a2.6 2.6 0 1 0 5.2 0a2.6 2.6 0 1 0 -5.2 0z"/>
<path fill="#84b7fc" d="M531.3 89.6a2.6 2.6 0 1 0 5.2 0a2.6 2.6 0 1 0 -5.2 0zM704.4 293.2a2.6 2.6 0 1 0 5.2 0a2.6 2.6 0 1 0 -5.2 0zM760.1 336.8a2.6 2.6 0 1 0 5.2 0a2.6 2.6 0 1 0 -5.2 0zM779.8 349.7a2.6 2.6 0 1 0 5.2 0a2.6 2.6 0 1 0 -5.2 0z"/>
<path fill="#8cb5fd" d="M531.3 57.5a2.6 2.6 0 1 0 5.2 0a2.6 2.6 0 1 0 -5.2 0zM590.6 157.2a2.6 2.6 0 1 0 5.2 0a2.6 2.6 0 1 0 -5.2 0zM607.4 179.2a2.6 2.6 0 1 0 5.2 0a2.6 2.6 0 1 0 -5.2 0z"/>
<path fill="#90b3fd" d="M531.3 26.7a2.6 2.6 0 1 0 5.2 0a2.6 2.6 0 1 0 -5.2 0zM552.8 81.6a2.6 2.6 0 1 0 5.2 0a2.6 2.6 0 1 0 -5.2 0zM599.2 155.0a2.6 2.6 0 1 0 5.2 0a2.6 2.6 0 1 0 -5.2 0zM615.3 177.3a2.6 2.6 0 1 0 5.2 0a2.6 2.6 0 1 0 -5.2 0zM704.4 273.9a2.6 2.6 0 1 0 5.2 0a2.6 2.6 0 1 0 -5.2 0zM724.5 290.3a2.6 2.6 0 1 0 5.2 0a2.6 2.6 0 1 0 -5.2 0zM743.0 306.0a2.6 2.6 0 1 0 5.2 0a2.6 2.6 0 1 0 -5.2 0zM764.2 320.6a2.6 2.6 0 1 0 5.2 0a2.6 2.6 0 1 0 -5.2 0z"/>
<path fill="#201300" d="M542.3 425.1a2.6 2.6 0 1 0 5.2 0a2.6 2.6 0 1 0 -5.2 0zM581.7 435.2a2.6 2.6 0 1 0 5.2 0a2.6 2.6 0 1 0 -5.2 0zM630.4 455.1a2.6 2.6 0 1 0 5.2 0a2.6 2.6 0 1 0 -5.2 0zM738.5 479.7a2.6 2.6 0 1 0 5.2 0a2.6 2.6 0 1 0 -5.2 0zM772.1 484.6a2.6 2.6 0 1 0 5.2 0a2.6 2.6 0 1 0 -5.2 0z"/>
<path fill="#392200" d="M542.3 414.1a2.6 2.6 0 1 0 5.2 0a2.6 2.6 0 1 0 -5.2 0zM637.6 449.9a2.6 2.6 0 1 0 5.2 0a2.6 2.6 0 1 0 -5.2 0z"/>
<path fill="#442900" d="M542.3 408.4a2.6 2.6 0 1 0 5.2 0a2.6 2.6 0 1 0 -5.2 0zM644.5 449.7a2.6 2.6 0 1 0 5.2 0a2.6 2.6 0 1 0 -5.2 0zM682.3 464.8a2.6 2.6 0 1 0 5.2 0a2.6 2.6 0 1 0 -5.2 0z"/>
<path fill="#523100" d="M542.3 402.4a2.6 2.6 0 1 0 5.2 0a2.6 2.6 0 1 0 -5.2 0zM688.1 464.7a2.6 2.6 0 1 0 5.2 0a2.6 2.6 0 1 0 -5.2 0z"/>
<path fill="#804d00" d="M542.3 388.5a2.6 2.6 0 1 0 5.2 0a2.6 2.6 0 1 0 -5.2 0zM651.3 438.7a2.6 2.6 0 1 0 5.2 0a2.6 2.6 0 1 0 -5.2 0z"/>
<path fill="#aa6600" d="M542.3 379.5a2.6 2.6 0 1 0 5.2 0a2.6 2.6 0 1 0 -5.2 0zM581.7 398.1a2.6 2.6 0 1 0 5.2 0a2.6 2.6 0 1 0 -5.2 0zM751.7 469.4a2.6 2.6 0 1 0 5.2 0a2.6 2.6 0 1 0 -5.2 0z"/>
<path fill="#e18700" d="M542.3 368.7a2.6 2.6 0 1 0 5.2 0a2.6 2.6 0 1 0 -5.2 0z"/>
<path fill="#d7a40f" d="M542.3 353.8a2.6 2.6 0 1 0 5.2 0a2.6 2.6 0 1 0 -5.2 0z"/>
<path fill="#79c034" d="M542.3 332.2a2.6 2.6 0 1 0 5.2 0a2.6 2.6 0 1 0 -5.2 0z"/>
<path fill="#2de09b" d="M542.3 302.3a2.6 2.6 0 1 0 5.2 0a2.6 2.6 0 1 0 -5.2 0z"/>
<path fill="#3cd8f5" d="M542.3 237.8a2.6 2.6 0 1 0 5.2 0a2.6 2.6 0 1 0 -5.2 0z"/>
<path fill="#53caf8" d="M542.3 206.6a2.6 2.6 0 1 0 5.2 0a2.6 2.6 0 1 0 -5.2 0zM719.7 357.3a2.6 2.6 0 1 0 5.2 0a2.6 2.6 0 1 0 -5.2 0z"/>
<path fill="#66c2fa" d="M542.3 176.8a2.6 2.6 0 1 0 5.2 0a2.6 2.6 0 1 0 -5.2 0z"/>
<path fill="#75bdfb" d="M542.3 146.8a2.6 2.6 0 1 0 5.2 0a2.6 2.6 0 1 0 -5.2 0zM590.6 210.3a2.6 2.6 0 1 0 5.2 0a2.6 2.6 0 1 0 -5.2 0zM755.9 351.9a2.6 2.6 0 1 0 5.2 0a2.6 2.6 0 1 0 -5.2 0z"/>
<path fill="#81b8fc" d="M542.3 116.2a2.6 2.6 0 1 0 5.2 0a2.6 2.6 0 1 0 -5.2 0zM755.9 337.2a2.6 2.6 0 1 0 5.2 0a2.6 2.6 0 1 0 -5.2 0z"/>
<path fill="#8ab5fd" d="M542.3 85.3a2.6 2.6 0 1 0 5.2 0a2.6 2.6 0 1 0 -5.2 0zM637.6 221.3a2.6 2.6 0 1 0 5.2 0a2.6 2.6 0 1 0 -5.2 0zM693.6 275.5a2.6 2.6 0 1 0 5.2 0a2.6 2.6 0 1 0 -5.2 0zM751.7 321.8a2.6 2.6 0 1 0 5.2 0a2.6 2.6 0 1 0 -5.2 0z"/>
<path fill="#92b3fd" d="M542.3 53.5a2.6 2.6 0 1 0 5.2 0a2.6 2.6 0 1 0 -5.2 0zM670.4 237.6a2.6 2.6 0 1 0 5.2 0a2.6 2.6 0 1 0 -5.2 0z"/>
<path fill="#3f2600" d="M552.8 413.9a2.6 2.6 0 1 0 5.2 0a2.6 2.6 0 1 0 -5.2 0z"/>
<path fill="#4e2f00" d="M552.8 408.0a2.6 2.6 0 1 0 5.2 0a2.6 2.6 0 1 0 -5.2 0zM630.4 439.4a2.6 2.6 0 1 0 5.2 0a2.6 2.6 0 1 0 -5.2 0zM734.0 474.7a2.6 2.6 0 1 0 5.2 0a2.6 2.6 0 1 0 -5.2 0z"/>
<path fill="#623b00" d="M552.8 401.6a2.6 2.6 0 1 0 5.2 0a2.6 2.6 0 1 0 -5.2 0zM779.8 479.6a2.6 2.6 0 1 0 5.2 0a2.6 2.6 0 1 0 -5.2 0z"/>
<path fill="#7c4a00" d="M552.8 394.6a2.6 2.6 0 1 0 5.2 0a2.6 2.6 0 1 0 -5.2 0zM590.6 411.6a2.6 2.6 0 1 0 5.2 0a2.6 2.6 0 1 0 -5.2 0z"/>
<path fill="#a36200" d="M552.8 386.3a2.6 2.6 0 1 0 5.2 0a2.6 2.6 0 1 0 -5.2 0zM776.0 474.5a2.6 2.6 0 1 0 5.2 0a2.6 2.6 0 1 0 -5.2 0z"/>
<path fill="#d58000" d="M552.8 376.5a2.6 2.6 0 1 0 5.2 0a2.6 2.6 0 1 0 -5.2 0zM682.3 442.9a2.6 2.6 0 1 0 5.2 0a2.6 2.6 0 1 0 -5.2 0z"/>
<path fill="#eb9f08" d="M552.8 364.0a2.6 2.6 0 1 0 5.2 0a2.6 2.6 0 1 0 -5.2 0z"/>
<path fill="#9cb627" d="M552.8 346.1a2.6 2.6 0 1 0 5.2 0a2.6 2.6 0 1 0 -5.2 0z"/>
<path fill="#3ed56a" d="M552.8 320.8a2.6 2.6 0 1 0 5.2 0a2.6 2.6 0 1 0 -5.2 0z"/>
<path fill="#60c4fa" d="M552.8 200.1a2.6 2.6 0 1 0 5.2 0a2.6 2.6 0 1 0 -5.2 0zM623.0 271.6a2.6 2.6 0 1 0 5.2 0a2.6 2.6 0 1 0 -5.2 0zM714.7 343.0a2.6 2.6 0 1 0 5.2 0a2.6 2.6 0 1 0 -5.2 0z"/>
<path fill="#70befb" d="M552.8 171.4a2.6 2.6 0 1 0 5.2 0a2.6 2.6 0 1 0 -5.2 0z"/>
<path fill="#7ebafc" d="M552.8 142.0a2.6 2.6 0 1 0 5.2 0a2.6 2.6 0 1 0 -5.2 0zM714.7 309.9a2.6 2.6 0 1 0 5.2 0a2.6 2.6 0 1 0 -5.2 0z"/>
<path fill="#88b6fd" d="M552.8 112.1a2.6 2.6 0 1 0 5.2 0a2.6 2.6 0 1 0 -5.2 0zM729.3 307.7a2.6 2.6 0 1 0 5.2 0a2.6 2.6 0 1 0 -5.2 0z"/>
<path fill="#96b1fe" d="M552.8 50.3a2.6 2.6 0 1 0 5.2 0a2.6 2.6 0 1 0 -5.2 0zM581.7 103.5a2.6 2.6 0 1 0 5.2 0a2.6 2.6 0 1 0 -5.2 0zM630.4 174.4a2.6 2.6 0 1 0 5.2 0a2.6 2.6 0 1 0 -5.2 0zM644.5 196.3a2.6 2.6 0 1 0 5.2 0a2.6 2.6 0 1 0 -5.2 0zM664.2 216.5a2.6 2.6 0 1 0 5.2 0a2.6 2.6 0 1 0 -5.2 0zM682.3 235.9a2.6 2.6 0 1 0 5.2 0a2.6 2.6 0 1 0 -5.2 0zM699.1 254.6a2.6 2.6 0 1 0 5.2 0a2.6 2.6 0 1 0 -5.2 0zM719.7 272.0a2.6 2.6 0 1 0 5.2 0a2.6 2.6 0 1 0 -5.2 0zM738.5 288.8a2.6 2.6 0 1 0 5.2 0a2.6 2.6 0 1 0 -5.2 0zM760.1 304.5a2.6 2.6 0 1 0 5.2 0a2.6 2.6 0 1 0 -5.2 0zM776.0 319.6a2.6 2.6 0 1 0 5.2 0a2.6 2.6 0 1 0 -5.2 0z"/>
<path fill="#5c3700" d="M562.9 407.4a2.6 2.6 0 1 0 5.2 0a2.6 2.6 0 1 0 -5.2 0zM776.0 479.6a2.6 2.6 0 1 0 5.2 0a2.6 2.6 0 1 0 -5.2 0z"/>
<path fill="#764700" d="M562.9 400.6a2.6 2.6 0 1 0 5.2 0a2.6 2.6 0 1 0 -5.2 0z"/>
<path fill="#9a5c00" d="M562.9 392.9a2.6 2.6 0 1 0 5.2 0a2.6 2.6 0 1 0 -5.2 0zM688.1 454.1a2.6 2.6 0 1 0 5.2 0a2.6 2.6 0 1 0 -5.2 0zM699.1 459.3a2.6 2.6 0 1 0 5.2 0a2.6 2.6 0 1 0 -5.2 0z"/>
<path fill="#c77800" d="M562.9 384.0a2.6 2.6 0 1 0 5.2 0a2.6 2.6 0 1 0 -5.2 0z"/>
<path fill="#ff9900" d="M562.9 373.4a2.6 2.6 0 1 0 5.2 0a2.6 2.6 0 1 0 -5.2 0zM590.6 387.3a2.6 2.6 0 1 0 5.2 0a2.6 2.6 0 1 0 -5.2 0zM704.4 447.9a2.6 2.6 0 1 0 5.2 0a2.6 2.6 0 1 0 -5.2 0zM738.5 458.7a2.6 2.6 0 1 0 5.2 0a2.6 2.6 0 1 0 -5.2 0zM779.8 469.1a2.6 2.6 0 1 0 5.2 0a2.6 2.6 0 1 0 -5.2 0z"/>
<path fill="#baad1b" d="M562.9 358.3a2.6 2.6 0 1 0 5.2 0a2.6 2.6 0 1 0 -5.2 0zM682.3 422.9a2.6 2.6 0 1 0 5.2 0a2.6 2.6 0 1 0 -5.2 0z"/>
<path fill="#22e6b9" d="M562.9 310.1a2.6 2.6 0 1 0 5.2 0a2.6 2.6 0 1 0 -5.2 0zM734.0 415.9a2.6 2.6 0 1 0 5.2 0a2.6 2.6 0 1 0 -5.2 0z"/>
<path fill="#23e6f1" d="M562.9 280.9a2.6 2.6 0 1 0 5.2 0a2.6 2.6 0 1 0 -5.2 0z"/>
<path fill="#41d4f6" d="M562.9 251.7a2.6 2.6 0 1 0 5.2 0a2.6 2.6 0 1 0 -5.2 0zM615.3 297.7a2.6 2.6 0 1 0 5.2 0a2.6 2.6 0 1 0 -5.2 0z"/>
<path fill="#6ac0fa" d="M562.9 195.0a2.6 2.6 0 1 0 5.2 0a2.6 2.6 0 1 0 -5.2 0z"/>
<path fill="#79bbfb" d="M562.9 166.8a2.6 2.6 0 1 0 5.2 0a2.6 2.6 0 1 0 -5.2 0zM630.4 246.2a2.6 2.6 0 1 0 5.2 0a2.6 2.6 0 1 0 -5.2 0zM688.1 296.1a2.6 2.6 0 1 0 5.2 0a2.6 2.6 0 1 0 -5.2 0zM743.0 338.7a2.6 2.6 0 1 0 5.2 0a2.6 2.6 0 1 0 -5.2 0zM779.8 363.5a2.6 2.6 0 1 0 5.2 0a2.6 2.6 0 1 0 -5.2 0z"/>
<path fill="#8eb4fd" d="M562.9 108.6a2.6 2.6 0 1 0 5.2 0a2.6 2.6 0 1 0 -5.2 0zM644.5 219.8a2.6 2.6 0 1 0 5.2 0a2.6 2.6 0 1 0 -5.2 0zM682.3 257.0a2.6 2.6 0 1 0 5.2 0a2.6 2.6 0 1 0 -5.2 0zM760.1 321.0a2.6 2.6 0 1 0 5.2 0a2.6 2.6 0 1 0 -5.2 0z"/>
<path fill="#95b2fd" d="M562.9 78.5a2.6 2.6 0 1 0 5.2 0a2.6 2.6 0 1 0 -5.2 0zM755.9 304.8a2.6 2.6 0 1 0 5.2 0a2.6 2.6 0 1 0 -5.2 0z"/>
<path fill="#99b0fe" d="M562.9 48.0a2.6 2.6 0 1 0 5.2 0a2.6 2.6 0 1 0 -5.2 0zM590.6 101.8a2.6 2.6 0 1 0 5.2 0a2.6 2.6 0 1 0 -5.2 0zM607.4 126.5a2.6 2.6 0 1 0 5.2 0a2.6 2.6 0 1 0 -5.2 0zM623.0 150.4a2.6 2.6 0 1 0 5.2 0a2.6 2.6 0 1 0 -5.2 0zM637.6 173.3a2.6 2.6 0 1 0 5.2 0a2.6 2.6 0 1 0 -5.2 0zM709.6 253.6a2.6 2.6 0 1 0 5.2 0a2.6 2.6 0 1 0 -5.2 0zM729.3 271.2a2.6 2.6 0 1 0 5.2 0a2.6 2.6 0 1 0 -5.2 0zM747.4 288.1a2.6 2.6 0 1 0 5.2 0a2.6 2.6 0 1 0 -5.2 0zM768.2 303.8a2.6 2.6 0 1 0 5.2 0a2.6 2.6 0 1 0 -5.2 0z"/>
<path fill="#3e2500" d="M572.5 419.1a2.6 2.6 0 1 0 5.2 0a2.6 2.6 0 1 0 -5.2 0zM764.2 479.7a2.6 2.6 0 1 0 5.2 0a2.6 2.6 0 1 0 -5.2 0z"/>
<path fill="#6e4200" d="M572.5 406.6a2.6 2.6 0 1 0 5.2 0a2.6 2.6 0 1 0 -5.2 0z"/>
<path fill="#8f5600" d="M572.5 399.4a2.6 2.6 0 1 0 5.2 0a2.6 2.6 0 1 0 -5.2 0zM623.0 422.1a2.6 2.6 0 1 0 5.2 0a2.6 2.6 0 1 0 -5.2 0zM768.2 474.5a2.6 2.6 0 1 0 5.2 0a2.6 2.6 0 1 0 -5.2 0z"/>
<path fill="#b96f00" d="M572.5 391.2a2.6 2.6 0 1 0 5.2 0a2.6 2.6 0 1 0 -5.2 0zM623.0 415.3a2.6 2.6 0 1 0 5.2 0a2.6 2.6 0 1 0 -5.2 0z"/>
<path fill="#d5a510" d="M572.5 369.2a2.6 2.6 0 1 0 5.2 0a2.6 2.6 0 1 0 -5.2 0zM760.1 458.3a2.6 2.6 0 1 0 5.2 0a2.6 2.6 0 1 0 -5.2 0zM779.8 463.7a2.6 2.6 0 1 0 5.2 0a2.6 2.6 0 1 0 -5.2 0z"/>
<path fill="#83bd30" d="M572.5 352.1a2.6 2.6 0 1 0 5.2 0a2.6 2.6 0 1 0 -5.2 0z"/>
<path fill="#36da81" d="M572.5 328.7a2.6 2.6 0 1 0 5.2 0a2.6 2.6 0 1 0 -5.2 0zM664.2 386.3a2.6 2.6 0 1 0 5.2 0a2.6 2.6 0 1 0 -5.2 0zM738.5 424.7a2.6 2.6 0 1 0 5.2 0a2.6 2.6 0 1 0 -5.2 0z"/>
<path fill="#14efef" d="M572.5 301.2a2.6 2.6 0 1 0 5.2 0a2.6 2.6 0 1 0 -5.2 0zM714.7 397.4a2.6 2.6 0 1 0 5.2 0a2.6 2.6 0 1 0 -5.2 0z"/>
<path fill="#35dcf4" d="M572.5 273.1a2.6 2.6 0 1 0 5.2 0a2.6 2.6 0 1 0 -5.2 0z"/>
<path fill="#4fcdf8" d="M572.5 245.1a2.6 2.6 0 1 0 5.2 0a2.6 2.6 0 1 0 -5.2 0z"/>
<path fill="#81b9fc" d="M572.5 163.0a2.6 2.6 0 1 0 5.2 0a2.6 2.6 0 1 0 -5.2 0zM623.0 224.8a2.6 2.6 0 1 0 5.2 0a2.6 2.6 0 1 0 -5.2 0zM699.1 294.1a2.6 2.6 0 1 0 5.2 0a2.6 2.6 0 1 0 -5.2 0zM719.7 309.3a2.6 2.6 0 1 0 5.2 0a2.6 2.6 0 1 0 -5.2 0z"/>
<path fill="#8bb5fd" d="M572.5 134.7a2.6 2.6 0 1 0 5.2 0a2.6 2.6 0 1 0 -5.2 0zM623.0 200.6a2.6 2.6 0 1 0 5.2 0a2.6 2.6 0 1 0 -5.2 0zM657.9 239.8a2.6 2.6 0 1 0 5.2 0a2.6 2.6 0 1 0 -5.2 0zM676.5 257.9a2.6 2.6 0 1 0 5.2 0a2.6 2.6 0 1 0 -5.2 0zM714.7 291.6a2.6 2.6 0 1 0 5.2 0a2.6 2.6 0 1 0 -5.2 0zM734.0 307.0a2.6 2.6 0 1 0 5.2 0a2.6 2.6 0 1 0 -5.2 0zM772.1 335.5a2.6 2.6 0 1 0 5.2 0a2.6 2.6 0 1 0 -5.2 0z"/>
<path fill="#92b2fd" d="M572.5 105.8a2.6 2.6 0 1 0 5.2 0a2.6 2.6 0 1 0 -5.2 0zM709.6 273.2a2.6 2.6 0 1 0 5.2 0a2.6 2.6 0 1 0 -5.2 0zM729.3 289.7a2.6 2.6 0 1 0 5.2 0a2.6 2.6 0 1 0 -5.2 0zM768.2 320.2a2.6 2.6 0 1 0 5.2 0a2.6 2.6 0 1 0 -5.2 0z"/>
<path fill="#98b0fe" d="M572.5 76.3a2.6 2.6 0 1 0 5.2 0a2.6 2.6 0 1 0 -5.2 0zM651.3 195.4a2.6 2.6 0 1 0 5.2 0a2.6 2.6 0 1 0 -5.2 0zM670.4 215.7a2.6 2.6 0 1 0 5.2 0a2.6 2.6 0 1 0 -5.2 0zM688.1 235.3a2.6 2.6 0 1 0 5.2 0a2.6 2.6 0 1 0 -5.2 0zM724.5 271.6a2.6 2.6 0 1 0 5.2 0a2.6 2.6 0 1 0 -5.2 0zM764.2 304.1a2.6 2.6 0 1 0 5.2 0a2.6 2.6 0 1 0 -5.2 0z"/>
<path fill="#9caffe" d="M572.5 46.1a2.6 2.6 0 1 0 5.2 0a2.6 2.6 0 1 0 -5.2 0zM615.3 125.3a2.6 2.6 0 1 0 5.2 0a2.6 2.6 0 1 0 -5.2 0zM651.3 171.6a2.6 2.6 0 1 0 5.2 0a2.6 2.6 0 1 0 -5.2 0zM664.2 193.8a2.6 2.6 0 1 0 5.2 0a2.6 2.6 0 1 0 -5.2 0zM682.3 214.4a2.6 2.6 0 1 0 5.2 0a2.6 2.6 0 1 0 -5.2 0zM719.7 252.7a2.6 2.6 0 1 0 5.2 0a2.6 2.6 0 1 0 -5.2 0zM738.5 270.5a2.6 2.6 0 1 0 5.2 0a2.6 2.6 0 1 0 -5.2 0zM760.1 287.2a2.6 2.6 0 1 0 5.2 0a2.6 2.6 0 1 0 -5.2 0zM776.0 303.3a2.6 2.6 0 1 0 5.2 0a2.6 2.6 0 1 0 -5.2 0z"/>
<path fill="#291800" d="M581.7 430.0a2.6 2.6 0 1 0 5.2 0a2.6 2.6 0 1 0 -5.2 0z"/>
<path fill="#492c00" d="M581.7 418.8a2.6 2.6 0 1 0 5.2 0a2.6 2.6 0 1 0 -5.2 0zM637.6 444.6a2.6 2.6 0 1 0 5.2 0a2.6 2.6 0 1 0 -5.2 0z"/>
<path fill="#653c00" d="M581.7 412.5a2.6 2.6 0 1 0 5.2 0a2.6 2.6 0 1 0 -5.2 0zM630.4 433.9a2.6 2.6 0 1 0 5.2 0a2.6 2.6 0 1 0 -5.2 0z"/>
<path fill="#d88200" d="M581.7 389.4a2.6 2.6 0 1 0 5.2 0a2.6 2.6 0 1 0 -5.2 0zM768.2 469.3a2.6 2.6 0 1 0 5.2 0a2.6 2.6 0 1 0 -5.2 0z"/>
<path fill="#f09d06" d="M581.7 379.0a2.6 2.6 0 1 0 5.2 0a2.6 2.6 0 1 0 -5.2 0zM729.3 453.1a2.6 2.6 0 1 0 5.2 0a2.6 2.6 0 1 0 -5.2 0z"/>
<path fill="#acb120" d="M581.7 364.9a2.6 2.6 0 1 0 5.2 0a2.6 2.6 0 1 0 -5.2 0z"/>
<path fill="#4bcd47" d="M581.7 345.5a2.6 2.6 0 1 0 5.2 0a2.6 2.6 0 1 0 -5.2 0z"/>
<path fill="#1fe8c3" d="M581.7 320.8a2.6 2.6 0 1 0 5.2 0a2.6 2.6 0 1 0 -5.2 0z"/>
<path fill="#26e5f1" d="M581.7 294.0a2.6 2.6 0 1 0 5.2 0a2.6 2.6 0 1 0 -5.2 0z"/>
<path fill="#6dc0fb" d="M581.7 213.8a2.6 2.6 0 1 0 5.2 0a2.6 2.6 0 1 0 -5.2 0zM599.2 232.6a2.6 2.6 0 1 0 5.2 0a2.6 2.6 0 1 0 -5.2 0z"/>
<path fill="#7bbbfc" d="M581.7 187.1a2.6 2.6 0 1 0 5.2 0a2.6 2.6 0 1 0 -5.2 0zM615.3 227.1a2.6 2.6 0 1 0 5.2 0a2.6 2.6 0 1 0 -5.2 0zM651.3 263.0a2.6 2.6 0 1 0 5.2 0a2.6 2.6 0 1 0 -5.2 0zM670.4 279.8a2.6 2.6 0 1 0 5.2 0a2.6 2.6 0 1 0 -5.2 0zM709.6 310.6a2.6 2.6 0 1 0 5.2 0a2.6 2.6 0 1 0 -5.2 0zM764.2 351.1a2.6 2.6 0 1 0 5.2 0a2.6 2.6 0 1 0 -5.2 0z"/>
<path fill="#8fb3fd" d="M581.7 132.0a2.6 2.6 0 1 0 5.2 0a2.6 2.6 0 1 0 -5.2 0zM630.4 199.0a2.6 2.6 0 1 0 5.2 0a2.6 2.6 0 1 0 -5.2 0zM779.8 334.8a2.6 2.6 0 1 0 5.2 0a2.6 2.6 0 1 0 -5.2 0z"/>
<path fill="#9aaffe" d="M581.7 74.5a2.6 2.6 0 1 0 5.2 0a2.6 2.6 0 1 0 -5.2 0zM772.1 303.5a2.6 2.6 0 1 0 5.2 0a2.6 2.6 0 1 0 -5.2 0z"/>
<path fill="#9eaefe" d="M581.7 44.6a2.6 2.6 0 1 0 5.2 0a2.6 2.6 0 1 0 -5.2 0zM657.9 170.9a2.6 2.6 0 1 0 5.2 0a2.6 2.6 0 1 0 -5.2 0zM676.5 192.5a2.6 2.6 0 1 0 5.2 0a2.6 2.6 0 1 0 -5.2 0zM693.6 213.4a2.6 2.6 0 1 0 5.2 0a2.6 2.6 0 1 0 -5.2 0zM709.6 233.3a2.6 2.6 0 1 0 5.2 0a2.6 2.6 0 1 0 -5.2 0zM729.3 252.0a2.6 2.6 0 1 0 5.2 0a2.6 2.6 0 1 0 -5.2 0zM747.4 269.9a2.6 2.6 0 1 0 5.2 0a2.6 2.6 0 1 0 -5.2 0zM768.2 286.7a2.6 2.6 0 1 0 5.2 0a2.6 2.6 0 1 0 -5.2 0z"/>
<path fill="#271800" d="M590.6 435.0a2.6 2.6 0 1 0 5.2 0a2.6 2.6 0 1 0 -5.2 0z"/>
<path fill="#452900" d="M590.6 424.1a2.6 2.6 0 1 0 5.2 0a2.6 2.6 0 1 0 -5.2 0z"/>
<path fill="#5d3800" d="M590.6 418.1a2.6 2.6 0 1 0 5.2 0a2.6 2.6 0 1 0 -5.2 0zM743.0 474.7a2.6 2.6 0 1 0 5.2 0a2.6 2.6 0 1 0 -5.2 0z"/>
<path fill="#a06000" d="M590.6 404.5a2.6 2.6 0 1 0 5.2 0a2.6 2.6 0 1 0 -5.2 0zM615.3 416.0a2.6 2.6 0 1 0 5.2 0a2.6 2.6 0 1 0 -5.2 0z"/>
<path fill="#cc7b00" d="M590.6 396.4a2.6 2.6 0 1 0 5.2 0a2.6 2.6 0 1 0 -5.2 0z"/>
<path fill="#c4aa17" d="M590.6 375.1a2.6 2.6 0 1 0 5.2 0a2.6 2.6 0 1 0 -5.2 0zM657.9 410.4a2.6 2.6 0 1 0 5.2 0a2.6 2.6 0 1 0 -5.2 0z"/>
<path fill="#75c136" d="M590.6 359.3a2.6 2.6 0 1 0 5.2 0a2.6 2.6 0 1 0 -5.2 0zM699.1 420.7a2.6 2.6 0 1 0 5.2 0a2.6 2.6 0 1 0 -5.2 0z"/>
<path fill="#16eeef" d="M590.6 313.0a2.6 2.6 0 1 0 5.2 0a2.6 2.6 0 1 0 -5.2 0zM607.4 325.3a2.6 2.6 0 1 0 5.2 0a2.6 2.6 0 1 0 -5.2 0zM657.9 359.0a2.6 2.6 0 1 0 5.2 0a2.6 2.6 0 1 0 -5.2 0zM734.0 405.5a2.6 2.6 0 1 0 5.2 0a2.6 2.6 0 1 0 -5.2 0zM751.7 413.7a2.6 2.6 0 1 0 5.2 0a2.6 2.6 0 1 0 -5.2 0z"/>
<path fill="#36dbf4" d="M590.6 287.3a2.6 2.6 0 1 0 5.2 0a2.6 2.6 0 1 0 -5.2 0zM607.4 301.8a2.6 2.6 0 1 0 5.2 0a2.6 2.6 0 1 0 -5.2 0zM743.0 393.2a2.6 2.6 0 1 0 5.2 0a2.6 2.6 0 1 0 -5.2 0zM760.1 402.2a2.6 2.6 0 1 0 5.2 0a2.6 2.6 0 1 0 -5.2 0z"/>
<path fill="#82b8fc" d="M590.6 184.0a2.6 2.6 0 1 0 5.2 0a2.6 2.6 0 1 0 -5.2 0zM607.4 204.7a2.6 2.6 0 1 0 5.2 0a2.6 2.6 0 1 0 -5.2 0zM738.5 323.5a2.6 2.6 0 1 0 5.2 0a2.6 2.6 0 1 0 -5.2 0zM776.0 350.0a2.6 2.6 0 1 0 5.2 0a2.6 2.6 0 1 0 -5.2 0z"/>
<path fill="#94b2fd" d="M590.6 129.7a2.6 2.6 0 1 0 5.2 0a2.6 2.6 0 1 0 -5.2 0zM607.4 153.1a2.6 2.6 0 1 0 5.2 0a2.6 2.6 0 1 0 -5.2 0zM623.0 175.7a2.6 2.6 0 1 0 5.2 0a2.6 2.6 0 1 0 -5.2 0zM657.9 217.4a2.6 2.6 0 1 0 5.2 0a2.6 2.6 0 1 0 -5.2 0zM676.5 236.7a2.6 2.6 0 1 0 5.2 0a2.6 2.6 0 1 0 -5.2 0zM693.6 255.3a2.6 2.6 0 1 0 5.2 0a2.6 2.6 0 1 0 -5.2 0zM714.7 272.6a2.6 2.6 0 1 0 5.2 0a2.6 2.6 0 1 0 -5.2 0zM734.0 289.2a2.6 2.6 0 1 0 5.2 0a2.6 2.6 0 1 0 -5.2 0zM772.1 319.9a2.6 2.6 0 1 0 5.2 0a2.6 2.6 0 1 0 -5.2 0z"/>
<path fill="#9daffe" d="M590.6 73.0a2.6 2.6 0 1 0 5.2 0a2.6 2.6 0 1 0 -5.2 0zM637.6 148.4a2.6 2.6 0 1 0 5.2 0a2.6 2.6 0 1 0 -5.2 0zM670.4 193.1a2.6 2.6 0 1 0 5.2 0a2.6 2.6 0 1 0 -5.2 0zM688.1 213.9a2.6 2.6 0 1 0 5.2 0a2.6 2.6 0 1 0 -5.2 0zM704.4 233.7a2.6 2.6 0 1 0 5.2 0a2.6 2.6 0 1 0 -5.2 0zM724.5 252.3a2.6 2.6 0 1 0 5.2 0a2.6 2.6 0 1 0 -5.2 0zM743.0 270.2a2.6 2.6 0 1 0 5.2 0a2.6 2.6 0 1 0 -5.2 0zM779.8 303.1a2.6 2.6 0 1 0 5.2 0a2.6 2.6 0 1 0 -5.2 0z"/>
<path fill="#a0aefe" d="M590.6 43.2a2.6 2.6 0 1 0 5.2 0a2.6 2.6 0 1 0 -5.2 0zM651.3 146.9a2.6 2.6 0 1 0 5.2 0a2.6 2.6 0 1 0 -5.2 0zM682.3 192.0a2.6 2.6 0 1 0 5.2 0a2.6 2.6 0 1 0 -5.2 0zM719.7 232.6a2.6 2.6 0 1 0 5.2 0a2.6 2.6 0 1 0 -5.2 0zM738.5 251.4a2.6 2.6 0 1 0 5.2 0a2.6 2.6 0 1 0 -5.2 0zM755.9 269.4a2.6 2.6 0 1 0 5.2 0a2.6 2.6 0 1 0 -5.2 0zM776.0 286.3a2.6 2.6 0 1 0 5.2 0a2.6 2.6 0 1 0 -5.2 0z"/>
<path fill="#130b00" d="M599.2 450.2a2.6 2.6 0 1 0 5.2 0a2.6 2.6 0 1 0 -5.2 0zM615.3 455.2a2.6 2.6 0 1 0 5.2 0a2.6 2.6 0 1 0 -5.2 0z"/>
<path fill="#402700" d="M599.2 429.4a2.6 2.6 0 1 0 5.2 0a2.6 2.6 0 1 0 -5.2 0zM623.0 439.7a2.6 2.6 0 1 0 5.2 0a2.6 2.6 0 1 0 -5.2 0z"/>
<path fill="#724400" d="M599.2 417.5a2.6 2.6 0 1 0 5.2 0a2.6 2.6 0 1 0 -5.2 0z"/>
<path fill="#bf7300" d="M599.2 403.2a2.6 2.6 0 1 0 5.2 0a2.6 2.6 0 1 0 -5.2 0z"/>
<path fill="#ee8f00" d="M599.2 394.7a2.6 2.6 0 1 0 5.2 0a2.6 2.6 0 1 0 -5.2 0z"/>
<path fill="#dba40e" d="M599.2 384.4a2.6 2.6 0 1 0 5.2 0a2.6 2.6 0 1 0 -5.2 0z"/>
<path fill="#9bb627" d="M599.2 371.4a2.6 2.6 0 1 0 5.2 0a2.6 2.6 0 1 0 -5.2 0zM704.4 428.3a2.6 2.6 0 1 0 5.2 0a2.6 2.6 0 1 0 -5.2 0z"/>
<path fill="#46d053" d="M599.2 353.9a2.6 2.6 0 1 0 5.2 0a2.6 2.6 0 1 0 -5.2 0z"/>
<path fill="#1beacc" d="M599.2 331.2a2.6 2.6 0 1 0 5.2 0a2.6 2.6 0 1 0 -5.2 0zM738.5 415.3a2.6 2.6 0 1 0 5.2 0a2.6 2.6 0 1 0 -5.2 0z"/>
<path fill="#27e4f2" d="M599.2 307.0a2.6 2.6 0 1 0 5.2 0a2.6 2.6 0 1 0 -5.2 0zM699.1 376.1a2.6 2.6 0 1 0 5.2 0a2.6 2.6 0 1 0 -5.2 0zM714.7 385.7a2.6 2.6 0 1 0 5.2 0a2.6 2.6 0 1 0 -5.2 0zM747.4 403.8a2.6 2.6 0 1 0 5.2 0a2.6 2.6 0 1 0 -5.2 0z"/>
<path fill="#7cbafc" d="M599.2 207.3a2.6 2.6 0 1 0 5.2 0a2.6 2.6 0 1 0 -5.2 0zM729.3 324.7a2.6 2.6 0 1 0 5.2 0a2.6 2.6 0 1 0 -5.2 0zM747.4 338.1a2.6 2.6 0 1 0 5.2 0a2.6 2.6 0 1 0 -5.2 0z"/>
<path fill="#97b1fe" d="M599.2 127.9a2.6 2.6 0 1 0 5.2 0a2.6 2.6 0 1 0 -5.2 0zM615.3 151.6a2.6 2.6 0 1 0 5.2 0a2.6 2.6 0 1 0 -5.2 0zM743.0 288.4a2.6 2.6 0 1 0 5.2 0a2.6 2.6 0 1 0 -5.2 0zM779.8 319.3a2.6 2.6 0 1 0 5.2 0a2.6 2.6 0 1 0 -5.2 0z"/>
<path fill="#9baffe" d="M599.2 100.3a2.6 2.6 0 1 0 5.2 0a2.6 2.6 0 1 0 -5.2 0zM630.4 149.3a2.6 2.6 0 1 0 5.2 0a2.6 2.6 0 1 0 -5.2 0zM644.5 172.4a2.6 2.6 0 1 0 5.2 0a2.6 2.6 0 1 0 -5.2 0zM699.1 234.2a2.6 2.6 0 1 0 5.2 0a2.6 2.6 0 1 0 -5.2 0zM714.7 253.1a2.6 2.6 0 1 0 5.2 0a2.6 2.6 0 1 0 -5.2 0zM734.0 270.8a2.6 2.6 0 1 0 5.2 0a2.6 2.6 0 1 0 -5.2 0zM755.9 287.5a2.6 2.6 0 1 0 5.2 0a2.6 2.6 0 1 0 -5.2 0z"/>
<path fill="#9faefe" d="M599.2 71.7a2.6 2.6 0 1 0 5.2 0a2.6 2.6 0 1 0 -5.2 0zM615.3 98.0a2.6 2.6 0 1 0 5.2 0a2.6 2.6 0 1 0 -5.2 0zM630.4 123.3a2.6 2.6 0 1 0 5.2 0a2.6 2.6 0 1 0 -5.2 0zM644.5 147.6a2.6 2.6 0 1 0 5.2 0a2.6 2.6 0 1 0 -5.2 0zM664.2 170.2a2.6 2.6 0 1 0 5.2 0a2.6 2.6 0 1 0 -5.2 0zM699.1 212.9a2.6 2.6 0 1 0 5.2 0a2.6 2.6 0 1 0 -5.2 0zM714.7 232.9a2.6 2.6 0 1 0 5.2 0a2.6 2.6 0 1 0 -5.2 0zM734.0 251.7a2.6 2.6 0 1 0 5.2 0a2.6 2.6 0 1 0 -5.2 0zM751.7 269.6a2.6 2.6 0 1 0 5.2 0a2.6 2.6 0 1 0 -5.2 0zM772.1 286.5a2.6 2.6 0 1 0 5.2 0a2.6 2.6 0 1 0 -5.2 0z"/>
<path fill="#a1adfe" d="M599.2 42.1a2.6 2.6 0 1 0 5.2 0a2.6 2.6 0 1 0 -5.2 0zM623.0 97.1a2.6 2.6 0 1 0 5.2 0a2.6 2.6 0 1 0 -5.2 0zM657.9 146.3a2.6 2.6 0 1 0 5.2 0a2.6 2.6 0 1 0 -5.2 0zM670.4 169.7a2.6 2.6 0 1 0 5.2 0a2.6 2.6 0 1 0 -5.2 0zM688.1 191.6a2.6 2.6 0 1 0 5.2 0a2.6 2.6 0 1 0 -5.2 0zM709.6 212.2a2.6 2.6 0 1 0 5.2 0a2.6 2.6 0 1 0 -5.2 0zM724.5 232.3a2.6 2.6 0 1 0 5.2 0a2.6 2.6 0 1 0 -5.2 0zM743.0 251.1a2.6 2.6 0 1 0 5.2 0a2.6 2.6 0 1 0 -5.2 0zM764.2 269.0a2.6 2.6 0 1 0 5.2 0a2.6 2.6 0 1 0 -5.2 0zM779.8 286.1a2.6 2.6 0 1 0 5.2 0a2.6 2.6 0 1 0 -5.2 0z"/>
<path fill="#221400" d="M607.4 445.1a2.6 2.6 0 1 0 5.2 0a2.6 2.6 0 1 0 -5.2 0z"/>
<path fill="#2d1b00" d="M607.4 439.9a2.6 2.6 0 1 0 5.2 0a2.6 2.6 0 1 0 -5.2 0z"/>
<path fill="#885200" d="M607.4 416.8a2.6 2.6 0 1 0 5.2 0a2.6 2.6 0 1 0 -5.2 0z"/>
<path fill="#b06900" d="M607.4 409.7a2.6 2.6 0 1 0 5.2 0a2.6 2.6 0 1 0 -5.2 0z"/>
<path fill="#dd8500" d="M607.4 401.9a2.6 2.6 0 1 0 5.2 0a2.6 2.6 0 1 0 -5.2 0zM747.4 464.1a2.6 2.6 0 1 0 5.2 0a2.6 2.6 0 1 0 -5.2 0z"/>
<path fill="#ef9e06" d="M607.4 392.8a2.6 2.6 0 1 0 5.2 0a2.6 2.6 0 1 0 -5.2 0zM747.4 458.5a2.6 2.6 0 1 0 5.2 0a2.6 2.6 0 1 0 -5.2 0z"/>
<path fill="#b9ad1b" d="M607.4 381.7a2.6 2.6 0 1 0 5.2 0a2.6 2.6 0 1 0 -5.2 0zM772.1 458.0a2.6 2.6 0 1 0 5.2 0a2.6 2.6 0 1 0 -5.2 0z"/>
<path fill="#6dc339" d="M607.4 367.3a2.6 2.6 0 1 0 5.2 0a2.6 2.6 0 1 0 -5.2 0z"/>
<path fill="#30dd90" d="M607.4 348.0a2.6 2.6 0 1 0 5.2 0a2.6 2.6 0 1 0 -5.2 0z"/>
<path fill="#4ecdf8" d="M607.4 277.9a2.6 2.6 0 1 0 5.2 0a2.6 2.6 0 1 0 -5.2 0z"/>
<path fill="#9daefe" d="M607.4 99.1a2.6 2.6 0 1 0 5.2 0a2.6 2.6 0 1 0 -5.2 0zM623.0 124.2a2.6 2.6 0 1 0 5.2 0a2.6 2.6 0 1 0 -5.2 0zM764.2 286.9a2.6 2.6 0 1 0 5.2 0a2.6 2.6 0 1 0 -5.2 0z"/>
<path fill="#a0adfe" d="M607.4 70.6a2.6 2.6 0 1 0 5.2 0a2.6 2.6 0 1 0 -5.2 0zM637.6 122.5a2.6 2.6 0 1 0 5.2 0a2.6 2.6 0 1 0 -5.2 0zM704.4 212.5a2.6 2.6 0 1 0 5.2 0a2.6 2.6 0 1 0 -5.2 0zM760.1 269.2a2.6 2.6 0 1 0 5.2 0a2.6 2.6 0 1 0 -5.2 0z"/>
<path fill="#a3adfe" d="M607.4 41.2a2.6 2.6 0 1 0 5.2 0a2.6 2.6 0 1 0 -5.2 0zM623.0 69.0a2.6 2.6 0 1 0 5.2 0a2.6 2.6 0 1 0 -5.2 0zM637.6 95.7a2.6 2.6 0 1 0 5.2 0a2.6 2.6 0 1 0 -5.2 0zM651.3 121.3a2.6 2.6 0 1 0 5.2 0a2.6 2.6 0 1 0 -5.2 0zM719.7 211.6a2.6 2.6 0 1 0 5.2 0a2.6 2.6 0 1 0 -5.2 0zM738.5 231.6a2.6 2.6 0 1 0 5.2 0a2.6 2.6 0 1 0 -5.2 0zM755.9 250.5a2.6 2.6 0 1 0 5.2 0a2.6 2.6 0 1 0 -5.2 0zM776.0 268.5a2.6 2.6 0 1 0 5.2 0a2.6 2.6 0 1 0 -5.2 0z"/>
<path fill="#291900" d="M615.3 445.0a2.6 2.6 0 1 0 5.2 0a2.6 2.6 0 1 0 -5.2 0zM664.2 464.9a2.6 2.6 0 1 0 5.2 0a2.6 2.6 0 1 0 -5.2 0z"/>
<path fill="#472a00" d="M615.3 434.4a2.6 2.6 0 1 0 5.2 0a2.6 2.6 0 1 0 -5.2 0z"/>
<path fill="#7b4a00" d="M615.3 422.7a2.6 2.6 0 1 0 5.2 0a2.6 2.6 0 1 0 -5.2 0z"/>
<path fill="#cb7a00" d="M615.3 408.7a2.6 2.6 0 1 0 5.2 0a2.6 2.6 0 1 0 -5.2 0zM719.7 459.0a2.6 2.6 0 1 0 5.2 0a2.6 2.6 0 1 0 -5.2 0z"/>
<path fill="#fb9700" d="M615.3 400.6a2.6 2.6 0 1 0 5.2 0a2.6 2.6 0 1 0 -5.2 0zM719.7 453.3a2.6 2.6 0 1 0 5.2 0a2.6 2.6 0 1 0 -5.2 0z"/>
<path fill="#d2a612" d="M615.3 390.8a2.6 2.6 0 1 0 5.2 0a2.6 2.6 0 1 0 -5.2 0z"/>
<path fill="#96b729" d="M615.3 378.9a2.6 2.6 0 1 0 5.2 0a2.6 2.6 0 1 0 -5.2 0zM719.7 434.4a2.6 2.6 0 1 0 5.2 0a2.6 2.6 0 1 0 -5.2 0z"/>
<path fill="#47cf50" d="M615.3 363.3a2.6 2.6 0 1 0 5.2 0a2.6 2.6 0 1 0 -5.2 0zM644.5 380.8a2.6 2.6 0 1 0 5.2 0a2.6 2.6 0 1 0 -5.2 0z"/>
<path fill="#1deac7" d="M615.3 342.7a2.6 2.6 0 1 0 5.2 0a2.6 2.6 0 1 0 -5.2 0z"/>
<path fill="#57c7f9" d="M615.3 274.3a2.6 2.6 0 1 0 5.2 0a2.6 2.6 0 1 0 -5.2 0z"/>
<path fill="#a2adfe" d="M615.3 69.7a2.6 2.6 0 1 0 5.2 0a2.6 2.6 0 1 0 -5.2 0zM630.4 96.3a2.6 2.6 0 1 0 5.2 0a2.6 2.6 0 1 0 -5.2 0zM644.5 121.8a2.6 2.6 0 1 0 5.2 0a2.6 2.6 0 1 0 -5.2 0zM664.2 145.8a2.6 2.6 0 1 0 5.2 0a2.6 2.6 0 1 0 -5.2 0zM676.5 169.2a2.6 2.6 0 1 0 5.2 0a2.6 2.6 0 1 0 -5.2 0zM682.3 168.8a2.6 2.6 0 1 0 5.2 0a2.6 2.6 0 1 0 -5.2 0zM693.6 191.2a2.6 2.6 0 1 0 5.2 0a2.6 2.6 0 1 0 -5.2 0zM699.1 190.8a2.6 2.6 0 1 0 5.2 0a2.6 2.6 0 1 0 -5.2 0zM714.7 211.9a2.6 2.6 0 1 0 5.2 0a2.6 2.6 0 1 0 -5.2 0zM729.3 232.0a2.6 2.6 0 1 0 5.2 0a2.6 2.6 0 1 0 -5.2 0zM734.0 231.8a2.6 2.6 0 1 0 5.2 0a2.6 2.6 0 1 0 -5.2 0zM747.4 250.9a2.6 2.6 0 1 0 5.2 0a2.6 2.6 0 1 0 -5.2 0zM751.7 250.7a2.6 2.6 0 1 0 5.2 0a2.6 2.6 0 1 0 -5.2 0zM768.2 268.8a2.6 2.6 0 1 0 5.2 0a2.6 2.6 0 1 0 -5.2 0zM772.1 268.6a2.6 2.6 0 1 0 5.2 0a2.6 2.6 0 1 0 -5.2 0z"/>
<path fill="#a4acff" d="M615.3 40.5a2.6 2.6 0 1 0 5.2 0a2.6 2.6 0 1 0 -5.2 0zM623.0 39.9a2.6 2.6 0 1 0 5.2 0a2.6 2.6 0 1 0 -5.2 0zM630.4 68.4a2.6 2.6 0 1 0 5.2 0a2.6 2.6 0 1 0 -5.2 0zM637.6 67.9a2.6 2.6 0 1 0 5.2 0a2.6 2.6 0 1 0 -5.2 0zM644.5 95.2a2.6 2.6 0 1 0 5.2 0a2.6 2.6 0 1 0 -5.2 0zM651.3 94.7a2.6 2.6 0 1 0 5.2 0a2.6 2.6 0 1 0 -5.2 0zM664.2 120.4a2.6 2.6 0 1 0 5.2 0a2.6 2.6 0 1 0 -5.2 0zM676.5 145.0a2.6 2.6 0 1 0 5.2 0a2.6 2.6 0 1 0 -5.2 0zM682.3 144.7a2.6 2.6 0 1 0 5.2 0a2.6 2.6 0 1 0 -5.2 0zM693.6 168.2a2.6 2.6 0 1 0 5.2 0a2.6 2.6 0 1 0 -5.2 0zM699.1 167.9a2.6 2.6 0 1 0 5.2 0a2.6 2.6 0 1 0 -5.2 0zM709.6 190.3a2.6 2.6 0 1 0 5.2 0a2.6 2.6 0 1 0 -5.2 0zM714.7 190.1a2.6 2.6 0 1 0 5.2 0a2.6 2.6 0 1 0 -5.2 0zM729.3 211.2a2.6 2.6 0 1 0 5.2 0a2.6 2.6 0 1 0 -5.2 0zM734.0 211.0a2.6 2.6 0 1 0 5.2 0a2.6 2.6 0 1 0 -5.2 0zM747.4 231.2a2.6 2.6 0 1 0 5.2 0a2.6 2.6 0 1 0 -5.2 0zM751.7 231.0a2.6 2.6 0 1 0 5.2 0a2.6 2.6 0 1 0 -5.2 0zM764.2 250.2a2.6 2.6 0 1 0 5.2 0a2.6 2.6 0 1 0 -5.2 0zM768.2 250.1a2.6 2.6 0 1 0 5.2 0a2.6 2.6 0 1 0 -5.2 0z"/>
<path fill="#241600" d="M623.0 450.1a2.6 2.6 0 1 0 5.2 0a2.6 2.6 0 1 0 -5.2 0z"/>
<path fill="#513000" d="M623.0 434.2a2.6 2.6 0 1 0 5.2 0a2.6 2.6 0 1 0 -5.2 0z"/>
<path fill="#6b4000" d="M623.0 428.5a2.6 2.6 0 1 0 5.2 0a2.6 2.6 0 1 0 -5.2 0z"/>
<path fill="#e68a00" d="M623.0 407.7a2.6 2.6 0 1 0 5.2 0a2.6 2.6 0 1 0 -5.2 0z"/>
<path fill="#e99f09" d="M623.0 399.1a2.6 2.6 0 1 0 5.2 0a2.6 2.6 0 1 0 -5.2 0z"/>
<path fill="#b6ae1c" d="M623.0 388.9a2.6 2.6 0 1 0 5.2 0a2.6 2.6 0 1 0 -5.2 0z"/>
<path fill="#71c237" d="M623.0 376.0a2.6 2.6 0 1 0 5.2 0a2.6 2.6 0 1 0 -5.2 0zM764.2 445.8a2.6 2.6 0 1 0 5.2 0a2.6 2.6 0 1 0 -5.2 0z"/>
<path fill="#34db87" d="M623.0 358.7a2.6 2.6 0 1 0 5.2 0a2.6 2.6 0 1 0 -5.2 0z"/>
<path fill="#12f0ef" d="M623.0 338.1a2.6 2.6 0 1 0 5.2 0a2.6 2.6 0 1 0 -5.2 0z"/>
<path fill="#32ddf3" d="M623.0 316.4a2.6 2.6 0 1 0 5.2 0a2.6 2.6 0 1 0 -5.2 0zM657.9 341.2a2.6 2.6 0 1 0 5.2 0a2.6 2.6 0 1 0 -5.2 0zM724.5 384.1a2.6 2.6 0 1 0 5.2 0a2.6 2.6 0 1 0 -5.2 0z"/>
<path fill="#72befb" d="M623.0 248.5a2.6 2.6 0 1 0 5.2 0a2.6 2.6 0 1 0 -5.2 0zM734.0 339.8a2.6 2.6 0 1 0 5.2 0a2.6 2.6 0 1 0 -5.2 0zM751.7 352.4a2.6 2.6 0 1 0 5.2 0a2.6 2.6 0 1 0 -5.2 0z"/>
<path fill="#2e1c00" d="M630.4 450.0a2.6 2.6 0 1 0 5.2 0a2.6 2.6 0 1 0 -5.2 0z"/>
<path fill="#a66400" d="M630.4 421.5a2.6 2.6 0 1 0 5.2 0a2.6 2.6 0 1 0 -5.2 0z"/>
<path fill="#d07d00" d="M630.4 414.5a2.6 2.6 0 1 0 5.2 0a2.6 2.6 0 1 0 -5.2 0z"/>
<path fill="#fd9a01" d="M630.4 406.7a2.6 2.6 0 1 0 5.2 0a2.6 2.6 0 1 0 -5.2 0zM664.2 425.0a2.6 2.6 0 1 0 5.2 0a2.6 2.6 0 1 0 -5.2 0z"/>
<path fill="#cda713" d="M630.4 397.4a2.6 2.6 0 1 0 5.2 0a2.6 2.6 0 1 0 -5.2 0zM676.5 423.5a2.6 2.6 0 1 0 5.2 0a2.6 2.6 0 1 0 -5.2 0zM729.3 447.1a2.6 2.6 0 1 0 5.2 0a2.6 2.6 0 1 0 -5.2 0z"/>
<path fill="#92b92a" d="M630.4 386.3a2.6 2.6 0 1 0 5.2 0a2.6 2.6 0 1 0 -5.2 0z"/>
<path fill="#48cf50" d="M630.4 372.3a2.6 2.6 0 1 0 5.2 0a2.6 2.6 0 1 0 -5.2 0z"/>
<path fill="#20e7be" d="M630.4 354.1a2.6 2.6 0 1 0 5.2 0a2.6 2.6 0 1 0 -5.2 0z"/>
<path fill="#3ed6f5" d="M630.4 312.6a2.6 2.6 0 1 0 5.2 0a2.6 2.6 0 1 0 -5.2 0zM734.0 382.4a2.6 2.6 0 1 0 5.2 0a2.6 2.6 0 1 0 -5.2 0z"/>
<path fill="#68c1fa" d="M630.4 268.9a2.6 2.6 0 1 0 5.2 0a2.6 2.6 0 1 0 -5.2 0zM776.0 376.8a2.6 2.6 0 1 0 5.2 0a2.6 2.6 0 1 0 -5.2 0z"/>
<path fill="#86b7fc" d="M630.4 222.9a2.6 2.6 0 1 0 5.2 0a2.6 2.6 0 1 0 -5.2 0z"/>
<path fill="#a5acff" d="M630.4 39.4a2.6 2.6 0 1 0 5.2 0a2.6 2.6 0 1 0 -5.2 0zM644.5 67.5a2.6 2.6 0 1 0 5.2 0a2.6 2.6 0 1 0 -5.2 0zM657.9 94.3a2.6 2.6 0 1 0 5.2 0a2.6 2.6 0 1 0 -5.2 0zM670.4 120.1a2.6 2.6 0 1 0 5.2 0a2.6 2.6 0 1 0 -5.2 0zM676.5 119.8a2.6 2.6 0 1 0 5.2 0a2.6 2.6 0 1 0 -5.2 0zM688.1 144.4a2.6 2.6 0 1 0 5.2 0a2.6 2.6 0 1 0 -5.2 0zM693.6 144.1a2.6 2.6 0 1 0 5.2 0a2.6 2.6 0 1 0 -5.2 0zM704.4 167.6a2.6 2.6 0 1 0 5.2 0a2.6 2.6 0 1 0 -5.2 0zM709.6 167.4a2.6 2.6 0 1 0 5.2 0a2.6 2.6 0 1 0 -5.2 0zM719.7 189.8a2.6 2.6 0 1 0 5.2 0a2.6 2.6 0 1 0 -5.2 0zM724.5 189.7a2.6 2.6 0 1 0 5.2 0a2.6 2.6 0 1 0 -5.2 0zM738.5 210.8a2.6 2.6 0 1 0 5.2 0a2.6 2.6 0 1 0 -5.2 0zM743.0 210.7a2.6 2.6 0 1 0 5.2 0a2.6 2.6 0 1 0 -5.2 0zM755.9 230.9a2.6 2.6 0 1 0 5.2 0a2.6 2.6 0 1 0 -5.2 0zM760.1 230.8a2.6 2.6 0 1 0 5.2 0a2.6 2.6 0 1 0 -5.2 0zM772.1 250.0a2.6 2.6 0 1 0 5.2 0a2.6 2.6 0 1 0 -5.2 0zM776.0 249.9a2.6 2.6 0 1 0 5.2 0a2.6 2.6 0 1 0 -5.2 0zM779.8 249.7a2.6 2.6 0 1 0 5.2 0a2.6 2.6 0 1 0 -5.2 0z"/>
<path fill="#281800" d="M637.6 455.0a2.6 2.6 0 1 0 5.2 0a2.6 2.6 0 1 0 -5.2 0z"/>
<path fill="#5f3900" d="M637.6 439.2a2.6 2.6 0 1 0 5.2 0a2.6 2.6 0 1 0 -5.2 0zM657.9 449.5a2.6 2.6 0 1 0 5.2 0a2.6 2.6 0 1 0 -5.2 0z"/>
<path fill="#7a4900" d="M637.6 433.5a2.6 2.6 0 1 0 5.2 0a2.6 2.6 0 1 0 -5.2 0z"/>
<path fill="#985b00" d="M637.6 427.4a2.6 2.6 0 1 0 5.2 0a2.6 2.6 0 1 0 -5.2 0z"/>
<path fill="#ba7000" d="M637.6 421.0a2.6 2.6 0 1 0 5.2 0a2.6 2.6 0 1 0 -5.2 0z"/>
<path fill="#e88b00" d="M637.6 413.8a2.6 2.6 0 1 0 5.2 0a2.6 2.6 0 1 0 -5.2 0z"/>
<path fill="#e5a00a" d="M637.6 405.5a2.6 2.6 0 1 0 5.2 0a2.6 2.6 0 1 0 -5.2 0zM772.1 463.8a2.6 2.6 0 1 0 5.2 0a2.6 2.6 0 1 0 -5.2 0z"/>
<path fill="#b0b01f" d="M637.6 395.7a2.6 2.6 0 1 0 5.2 0a2.6 2.6 0 1 0 -5.2 0zM651.3 402.7a2.6 2.6 0 1 0 5.2 0a2.6 2.6 0 1 0 -5.2 0z"/>
<path fill="#35db84" d="M637.6 368.4a2.6 2.6 0 1 0 5.2 0a2.6 2.6 0 1 0 -5.2 0z"/>
<path fill="#10f2ec" d="M637.6 350.1a2.6 2.6 0 1 0 5.2 0a2.6 2.6 0 1 0 -5.2 0z"/>
<path fill="#2fdff3" d="M637.6 330.1a2.6 2.6 0 1 0 5.2 0a2.6 2.6 0 1 0 -5.2 0zM676.5 353.3a2.6 2.6 0 1 0 5.2 0a2.6 2.6 0 1 0 -5.2 0zM772.1 411.4a2.6 2.6 0 1 0 5.2 0a2.6 2.6 0 1 0 -5.2 0z"/>
<path fill="#48d0f7" d="M637.6 309.4a2.6 2.6 0 1 0 5.2 0a2.6 2.6 0 1 0 -5.2 0z"/>
<path fill="#5dc5f9" d="M637.6 288.2a2.6 2.6 0 1 0 5.2 0a2.6 2.6 0 1 0 -5.2 0z"/>
<path fill="#70bffb" d="M637.6 266.6a2.6 2.6 0 1 0 5.2 0a2.6 2.6 0 1 0 -5.2 0zM676.5 298.4a2.6 2.6 0 1 0 5.2 0a2.6 2.6 0 1 0 -5.2 0z"/>
<path fill="#93b2fd" d="M637.6 197.5a2.6 2.6 0 1 0 5.2 0a2.6 2.6 0 1 0 -5.2 0zM751.7 305.2a2.6 2.6 0 1 0 5.2 0a2.6 2.6 0 1 0 -5.2 0z"/>
<path fill="#a6acff" d="M637.6 39.0a2.6 2.6 0 1 0 5.2 0a2.6 2.6 0 1 0 -5.2 0zM651.3 67.1a2.6 2.6 0 1 0 5.2 0a2.6 2.6 0 1 0 -5.2 0zM664.2 94.0a2.6 2.6 0 1 0 5.2 0a2.6 2.6 0 1 0 -5.2 0zM682.3 119.5a2.6 2.6 0 1 0 5.2 0a2.6 2.6 0 1 0 -5.2 0zM729.3 189.5a2.6 2.6 0 1 0 5.2 0a2.6 2.6 0 1 0 -5.2 0zM747.4 210.5a2.6 2.6 0 1 0 5.2 0a2.6 2.6 0 1 0 -5.2 0zM764.2 230.6a2.6 2.6 0 1 0 5.2 0a2.6 2.6 0 1 0 -5.2 0z"/>
<path fill="#583500" d="M644.5 444.4a2.6 2.6 0 1 0 5.2 0a2.6 2.6 0 1 0 -5.2 0z"/>
<path fill="#704300" d="M644.5 438.9a2.6 2.6 0 1 0 5.2 0a2.6 2.6 0 1 0 -5.2 0zM699.1 464.6a2.6 2.6 0 1 0 5.2 0a2.6 2.6 0 1 0 -5.2 0z"/>
<path fill="#8b5300" d="M644.5 433.1a2.6 2.6 0 1 0 5.2 0a2.6 2.6 0 1 0 -5.2 0zM738.5 469.5a2.6 2.6 0 1 0 5.2 0a2.6 2.6 0 1 0 -5.2 0z"/>
<path fill="#a96500" d="M644.5 427.1a2.6 2.6 0 1 0 5.2 0a2.6 2.6 0 1 0 -5.2 0z"/>
<path fill="#ce7c00" d="M644.5 420.4a2.6 2.6 0 1 0 5.2 0a2.6 2.6 0 1 0 -5.2 0z"/>
<path fill="#fd9901" d="M644.5 413.0a2.6 2.6 0 1 0 5.2 0a2.6 2.6 0 1 0 -5.2 0z"/>
<path fill="#cba814" d="M644.5 404.1a2.6 2.6 0 1 0 5.2 0a2.6 2.6 0 1 0 -5.2 0z"/>
<path fill="#8eba2c" d="M644.5 393.6a2.6 2.6 0 1 0 5.2 0a2.6 2.6 0 1 0 -5.2 0z"/>
<path fill="#25e4b0" d="M644.5 365.1a2.6 2.6 0 1 0 5.2 0a2.6 2.6 0 1 0 -5.2 0z"/>
<path fill="#51cbf8" d="M644.5 306.6a2.6 2.6 0 1 0 5.2 0a2.6 2.6 0 1 0 -5.2 0zM688.1 333.4a2.6 2.6 0 1 0 5.2 0a2.6 2.6 0 1 0 -5.2 0zM734.0 369.0a2.6 2.6 0 1 0 5.2 0a2.6 2.6 0 1 0 -5.2 0zM768.2 389.8a2.6 2.6 0 1 0 5.2 0a2.6 2.6 0 1 0 -5.2 0z"/>
<path fill="#65c2fa" d="M644.5 285.9a2.6 2.6 0 1 0 5.2 0a2.6 2.6 0 1 0 -5.2 0zM664.2 301.1a2.6 2.6 0 1 0 5.2 0a2.6 2.6 0 1 0 -5.2 0zM719.7 342.1a2.6 2.6 0 1 0 5.2 0a2.6 2.6 0 1 0 -5.2 0zM772.1 377.1a2.6 2.6 0 1 0 5.2 0a2.6 2.6 0 1 0 -5.2 0z"/>
<path fill="#83b8fc" d="M644.5 242.7a2.6 2.6 0 1 0 5.2 0a2.6 2.6 0 1 0 -5.2 0zM682.3 277.5a2.6 2.6 0 1 0 5.2 0a2.6 2.6 0 1 0 -5.2 0z"/>
<path fill="#a6abff" d="M644.5 38.6a2.6 2.6 0 1 0 5.2 0a2.6 2.6 0 1 0 -5.2 0zM657.9 66.7a2.6 2.6 0 1 0 5.2 0a2.6 2.6 0 1 0 -5.2 0zM670.4 93.7a2.6 2.6 0 1 0 5.2 0a2.6 2.6 0 1 0 -5.2 0zM676.5 93.5a2.6 2.6 0 1 0 5.2 0a2.6 2.6 0 1 0 -5.2 0zM688.1 119.3a2.6 2.6 0 1 0 5.2 0a2.6 2.6 0 1 0 -5.2 0zM699.1 143.9a2.6 2.6 0 1 0 5.2 0a2.6 2.6 0 1 0 -5.2 0zM704.4 143.7a2.6 2.6 0 1 0 5.2 0a2.6 2.6 0 1 0 -5.2 0zM714.7 167.2a2.6 2.6 0 1 0 5.2 0a2.6 2.6 0 1 0 -5.2 0zM719.7 167.1a2.6 2.6 0 1 0 5.2 0a2.6 2.6 0 1 0 -5.2 0zM724.5 166.9a2.6 2.6 0 1 0 5.2 0a2.6 2.6 0 1 0 -5.2 0zM734.0 189.3a2.6 2.6 0 1 0 5.2 0a2.6 2.6 0 1 0 -5.2 0zM738.5 189.2a2.6 2.6 0 1 0 5.2 0a2.6 2.6 0 1 0 -5.2 0zM751.7 210.4a2.6 2.6 0 1 0 5.2 0a2.6 2.6 0 1 0 -5.2 0zM755.9 210.3a2.6 2.6 0 1 0 5.2 0a2.6 2.6 0 1 0 -5.2 0zM768.2 230.5a2.6 2.6 0 1 0 5.2 0a2.6 2.6 0 1 0 -5.2 0zM772.1 230.4a2.6 2.6 0 1 0 5.2 0a2.6 2.6 0 1 0 -5.2 0zM776.0 230.3a2.6 2.6 0 1 0 5.2 0a2.6 2.6 0 1 0 -5.2 0z"/>
<path fill="#513100" d="M651.3 449.6a2.6 2.6 0 1 0 5.2 0a2.6 2.6 0 1 0 -5.2 0z"/>
<path fill="#995c00" d="M651.3 432.9a2.6 2.6 0 1 0 5.2 0a2.6 2.6 0 1 0 -5.2 0zM772.1 474.5a2.6 2.6 0 1 0 5.2 0a2.6 2.6 0 1 0 -5.2 0z"/>
<path fill="#e48900" d="M651.3 419.9a2.6 2.6 0 1 0 5.2 0a2.6 2.6 0 1 0 -5.2 0zM676.5 437.1a2.6 2.6 0 1 0 5.2 0a2.6 2.6 0 1 0 -5.2 0zM772.1 469.2a2.6 2.6 0 1 0 5.2 0a2.6 2.6 0 1 0 -5.2 0z"/>
<path fill="#e7a009" d="M651.3 412.0a2.6 2.6 0 1 0 5.2 0a2.6 2.6 0 1 0 -5.2 0zM751.7 458.4a2.6 2.6 0 1 0 5.2 0a2.6 2.6 0 1 0 -5.2 0z"/>
<path fill="#6bc43a" d="M651.3 391.5a2.6 2.6 0 1 0 5.2 0a2.6 2.6 0 1 0 -5.2 0z"/>
<path fill="#39d879" d="M651.3 378.1a2.6 2.6 0 1 0 5.2 0a2.6 2.6 0 1 0 -5.2 0z"/>
<path fill="#16edd9" d="M651.3 362.0a2.6 2.6 0 1 0 5.2 0a2.6 2.6 0 1 0 -5.2 0z"/>
<path fill="#6cc0fa" d="M651.3 284.0a2.6 2.6 0 1 0 5.2 0a2.6 2.6 0 1 0 -5.2 0zM709.6 327.8a2.6 2.6 0 1 0 5.2 0a2.6 2.6 0 1 0 -5.2 0z"/>
<path fill="#91b3fd" d="M651.3 218.5a2.6 2.6 0 1 0 5.2 0a2.6 2.6 0 1 0 -5.2 0zM688.1 256.1a2.6 2.6 0 1 0 5.2 0a2.6 2.6 0 1 0 -5.2 0zM747.4 305.5a2.6 2.6 0 1 0 5.2 0a2.6 2.6 0 1 0 -5.2 0z"/>
<path fill="#a7abff" d="M651.3 38.3a2.6 2.6 0 1 0 5.2 0a2.6 2.6 0 1 0 -5.2 0zM657.9 38.0a2.6 2.6 0 1 0 5.2 0a2.6 2.6 0 1 0 -5.2 0zM664.2 66.5a2.6 2.6 0 1 0 5.2 0a2.6 2.6 0 1 0 -5.2 0zM664.2 37.8a2.6 2.6 0 1 0 5.2 0a2.6 2.6 0 1 0 -5.2 0zM670.4 66.2a2.6 2.6 0 1 0 5.2 0a2.6 2.6 0 1 0 -5.2 0zM676.5 66.0a2.6 2.6 0 1 0 5.2 0a2.6 2.6 0 1 0 -5.2 0zM682.3 93.2a2.6 2.6 0 1 0 5.2 0a2.6 2.6 0 1 0 -5.2 0zM688.1 93.0a2.6 2.6 0 1 0 5.2 0a2.6 2.6 0 1 0 -5.2 0zM693.6 119.1a2.6 2.6 0 1 0 5.2 0a2.6 2.6 0 1 0 -5.2 0zM693.6 92.9a2.6 2.6 0 1 0 5.2 0a2.6 2.6 0 1 0 -5.2 0zM699.1 118.9a2.6 2.6 0 1 0 5.2 0a2.6 2.6 0 1 0 -5.2 0zM704.4 118.7a2.6 2.6 0 1 0 5.2 0a2.6 2.6 0 1 0 -5.2 0zM709.6 143.5a2.6 2.6 0 1 0 5.2 0a2.6 2.6 0 1 0 -5.2 0zM709.6 118.6a2.6 2.6 0 1 0 5.2 0a2.6 2.6 0 1 0 -5.2 0zM714.7 143.4a2.6 2.6 0 1 0 5.2 0a2.6 2.6 0 1 0 -5.2 0zM719.7 143.2a2.6 2.6 0 1 0 5.2 0a2.6 2.6 0 1 0 -5.2 0zM724.5 143.1a2.6 2.6 0 1 0 5.2 0a2.6 2.6 0 1 0 -5.2 0zM729.3 166.8a2.6 2.6 0 1 0 5.2 0a2.6 2.6 0 1 0 -5.2 0zM734.0 166.6a2.6 2.6 0 1 0 5.2 0a2.6 2.6 0 1 0 -5.2 0zM738.5 166.5a2.6 2.6 0 1 0 5.2 0a2.6 2.6 0 1 0 -5.2 0zM743.0 189.1a2.6 2.6 0 1 0 5.2 0a2.6 2.6 0 1 0 -5.2 0zM743.0 166.4a2.6 2.6 0 1 0 5.2 0a2.6 2.6 0 1 0 -5.2 0zM747.4 189.0a2.6 2.6 0 1 0 5.2 0a2.6 2.6 0 1 0 -5.2 0zM751.7 188.9a2.6 2.6 0 1 0 5.2 0a2.6 2.6 0 1 0 -5.2 0zM755.9 188.8a2.6 2.6 0 1 0 5.2 0a2.6 2.6 0 1 0 -5.2 0zM760.1 210.2a2.6 2.6 0 1 0 5.2 0a2.6 2.6 0 1 0 -5.2 0zM760.1 188.7a2.6 2.6 0 1 0 5.2 0a2.6 2.6 0 1 0 -5.2 0zM764.2 210.1a2.6 2.6 0 1 0 5.2 0a2.6 2.6 0 1 0 -5.2 0zM768.2 210.0a2.6 2.6 0 1 0 5.2 0a2.6 2.6 0 1 0 -5.2 0zM772.1 209.9a2.6 2.6 0 1 0 5.2 0a2.6 2.6 0 1 0 -5.2 0zM776.0 209.9a2.6 2.6 0 1 0 5.2 0a2.6 2.6 0 1 0 -5.2 0zM779.8 230.2a2.6 2.6 0 1 0 5.2 0a2.6 2.6 0 1 0 -5.2 0z"/>
<path fill="#784800" d="M657.9 444.0a2.6 2.6 0 1 0 5.2 0a2.6 2.6 0 1 0 -5.2 0zM729.3 469.6a2.6 2.6 0 1 0 5.2 0a2.6 2.6 0 1 0 -5.2 0z"/>
<path fill="#b36b00" d="M657.9 432.4a2.6 2.6 0 1 0 5.2 0a2.6 2.6 0 1 0 -5.2 0zM709.6 459.1a2.6 2.6 0 1 0 5.2 0a2.6 2.6 0 1 0 -5.2 0z"/>
<path fill="#dc8400" d="M657.9 425.9a2.6 2.6 0 1 0 5.2 0a2.6 2.6 0 1 0 -5.2 0z"/>
<path fill="#f29d05" d="M657.9 418.7a2.6 2.6 0 1 0 5.2 0a2.6 2.6 0 1 0 -5.2 0z"/>
<path fill="#89bb2e" d="M657.9 400.7a2.6 2.6 0 1 0 5.2 0a2.6 2.6 0 1 0 -5.2 0zM738.5 440.2a2.6 2.6 0 1 0 5.2 0a2.6 2.6 0 1 0 -5.2 0z"/>
<path fill="#47d053" d="M657.9 388.9a2.6 2.6 0 1 0 5.2 0a2.6 2.6 0 1 0 -5.2 0z"/>
<path fill="#27e3ab" d="M657.9 374.9a2.6 2.6 0 1 0 5.2 0a2.6 2.6 0 1 0 -5.2 0zM670.4 383.9a2.6 2.6 0 1 0 5.2 0a2.6 2.6 0 1 0 -5.2 0z"/>
<path fill="#4acff7" d="M657.9 322.3a2.6 2.6 0 1 0 5.2 0a2.6 2.6 0 1 0 -5.2 0z"/>
<path fill="#5fc5fa" d="M657.9 302.6a2.6 2.6 0 1 0 5.2 0a2.6 2.6 0 1 0 -5.2 0zM747.4 366.9a2.6 2.6 0 1 0 5.2 0a2.6 2.6 0 1 0 -5.2 0z"/>
<path fill="#9ab0fe" d="M657.9 194.5a2.6 2.6 0 1 0 5.2 0a2.6 2.6 0 1 0 -5.2 0zM676.5 215.0a2.6 2.6 0 1 0 5.2 0a2.6 2.6 0 1 0 -5.2 0zM693.6 234.7a2.6 2.6 0 1 0 5.2 0a2.6 2.6 0 1 0 -5.2 0zM751.7 287.8a2.6 2.6 0 1 0 5.2 0a2.6 2.6 0 1 0 -5.2 0z"/>
<path fill="#a3acff" d="M657.9 120.8a2.6 2.6 0 1 0 5.2 0a2.6 2.6 0 1 0 -5.2 0zM724.5 211.4a2.6 2.6 0 1 0 5.2 0a2.6 2.6 0 1 0 -5.2 0zM743.0 231.4a2.6 2.6 0 1 0 5.2 0a2.6 2.6 0 1 0 -5.2 0zM760.1 250.4a2.6 2.6 0 1 0 5.2 0a2.6 2.6 0 1 0 -5.2 0zM779.8 268.4a2.6 2.6 0 1 0 5.2 0a2.6 2.6 0 1 0 -5.2 0z"/>
<path fill="#6f4200" d="M664.2 449.3a2.6 2.6 0 1 0 5.2 0a2.6 2.6 0 1 0 -5.2 0z"/>
<path fill="#8c5400" d="M664.2 443.8a2.6 2.6 0 1 0 5.2 0a2.6 2.6 0 1 0 -5.2 0zM714.7 464.5a2.6 2.6 0 1 0 5.2 0a2.6 2.6 0 1 0 -5.2 0z"/>
<path fill="#ac6700" d="M664.2 438.0a2.6 2.6 0 1 0 5.2 0a2.6 2.6 0 1 0 -5.2 0zM682.3 448.7a2.6 2.6 0 1 0 5.2 0a2.6 2.6 0 1 0 -5.2 0z"/>
<path fill="#d37e00" d="M664.2 431.8a2.6 2.6 0 1 0 5.2 0a2.6 2.6 0 1 0 -5.2 0z"/>
<path fill="#d5a511" d="M664.2 417.5a2.6 2.6 0 1 0 5.2 0a2.6 2.6 0 1 0 -5.2 0z"/>
<path fill="#a7b322" d="M664.2 409.1a2.6 2.6 0 1 0 5.2 0a2.6 2.6 0 1 0 -5.2 0zM729.3 440.7a2.6 2.6 0 1 0 5.2 0a2.6 2.6 0 1 0 -5.2 0z"/>
<path fill="#19ecd3" d="M664.2 372.3a2.6 2.6 0 1 0 5.2 0a2.6 2.6 0 1 0 -5.2 0z"/>
<path fill="#20e8f1" d="M664.2 356.7a2.6 2.6 0 1 0 5.2 0a2.6 2.6 0 1 0 -5.2 0zM724.5 395.9a2.6 2.6 0 1 0 5.2 0a2.6 2.6 0 1 0 -5.2 0zM760.1 412.8a2.6 2.6 0 1 0 5.2 0a2.6 2.6 0 1 0 -5.2 0zM779.8 420.6a2.6 2.6 0 1 0 5.2 0a2.6 2.6 0 1 0 -5.2 0z"/>
<path fill="#84b8fc" d="M664.2 260.3a2.6 2.6 0 1 0 5.2 0a2.6 2.6 0 1 0 -5.2 0z"/>
<path fill="#8fb4fd" d="M664.2 238.7a2.6 2.6 0 1 0 5.2 0a2.6 2.6 0 1 0 -5.2 0z"/>
<path fill="#643c00" d="M670.4 454.5a2.6 2.6 0 1 0 5.2 0a2.6 2.6 0 1 0 -5.2 0zM682.3 459.6a2.6 2.6 0 1 0 5.2 0a2.6 2.6 0 1 0 -5.2 0zM747.4 474.6a2.6 2.6 0 1 0 5.2 0a2.6 2.6 0 1 0 -5.2 0z"/>
<path fill="#814e00" d="M670.4 449.1a2.6 2.6 0 1 0 5.2 0a2.6 2.6 0 1 0 -5.2 0z"/>
<path fill="#a16100" d="M670.4 443.5a2.6 2.6 0 1 0 5.2 0a2.6 2.6 0 1 0 -5.2 0z"/>
<path fill="#f49200" d="M670.4 431.2a2.6 2.6 0 1 0 5.2 0a2.6 2.6 0 1 0 -5.2 0z"/>
<path fill="#e4a10b" d="M670.4 424.2a2.6 2.6 0 1 0 5.2 0a2.6 2.6 0 1 0 -5.2 0z"/>
<path fill="#bbad1a" d="M670.4 416.6a2.6 2.6 0 1 0 5.2 0a2.6 2.6 0 1 0 -5.2 0z"/>
<path fill="#84bc30" d="M670.4 407.6a2.6 2.6 0 1 0 5.2 0a2.6 2.6 0 1 0 -5.2 0z"/>
<path fill="#45d156" d="M670.4 396.6a2.6 2.6 0 1 0 5.2 0a2.6 2.6 0 1 0 -5.2 0z"/>
<path fill="#10f1ee" d="M670.4 370.3a2.6 2.6 0 1 0 5.2 0a2.6 2.6 0 1 0 -5.2 0z"/>
<path fill="#88b6fc" d="M670.4 259.0a2.6 2.6 0 1 0 5.2 0a2.6 2.6 0 1 0 -5.2 0zM709.6 292.4a2.6 2.6 0 1 0 5.2 0a2.6 2.6 0 1 0 -5.2 0zM747.4 322.3a2.6 2.6 0 1 0 5.2 0a2.6 2.6 0 1 0 -5.2 0z"/>
<path fill="#a3acfe" d="M670.4 145.4a2.6 2.6 0 1 0 5.2 0a2.6 2.6 0 1 0 -5.2 0zM688.1 168.5a2.6 2.6 0 1 0 5.2 0a2.6 2.6 0 1 0 -5.2 0zM704.4 190.6a2.6 2.6 0 1 0 5.2 0a2.6 2.6 0 1 0 -5.2 0z"/>
<path fill="#a8abff" d="M670.4 37.6a2.6 2.6 0 1 0 5.2 0a2.6 2.6 0 1 0 -5.2 0zM676.5 37.4a2.6 2.6 0 1 0 5.2 0a2.6 2.6 0 1 0 -5.2 0zM682.3 65.8a2.6 2.6 0 1 0 5.2 0a2.6 2.6 0 1 0 -5.2 0zM682.3 37.2a2.6 2.6 0 1 0 5.2 0a2.6 2.6 0 1 0 -5.2 0zM688.1 65.7a2.6 2.6 0 1 0 5.2 0a2.6 2.6 0 1 0 -5.2 0zM688.1 37.1a2.6 2.6 0 1 0 5.2 0a2.6 2.6 0 1 0 -5.2 0zM693.6 65.5a2.6 2.6 0 1 0 5.2 0a2.6 2.6 0 1 0 -5.2 0zM693.6 37.0a2.6 2.6 0 1 0 5.2 0a2.6 2.6 0 1 0 -5.2 0zM699.1 92.7a2.6 2.6 0 1 0 5.2 0a2.6 2.6 0 1 0 -5.2 0zM699.1 65.4a2.6 2.6 0 1 0 5.2 0a2.6 2.6 0 1 0 -5.2 0zM704.4 92.6a2.6 2.6 0 1 0 5.2 0a2.6 2.6 0 1 0 -5.2 0zM704.4 65.3a2.6 2.6 0 1 0 5.2 0a2.6 2.6 0 1 0 -5.2 0zM709.6 92.5a2.6 2.6 0 1 0 5.2 0a2.6 2.6 0 1 0 -5.2 0zM714.7 118.4a2.6 2.6 0 1 0 5.2 0a2.6 2.6 0 1 0 -5.2 0zM714.7 92.4a2.6 2.6 0 1 0 5.2 0a2.6 2.6 0 1 0 -5.2 0zM719.7 118.3a2.6 2.6 0 1 0 5.2 0a2.6 2.6 0 1 0 -5.2 0zM719.7 92.3a2.6 2.6 0 1 0 5.2 0a2.6 2.6 0 1 0 -5.2 0zM724.5 118.2a2.6 2.6 0 1 0 5.2 0a2.6 2.6 0 1 0 -5.2 0zM729.3 143.0a2.6 2.6 0 1 0 5.2 0a2.6 2.6 0 1 0 -5.2 0zM729.3 118.1a2.6 2.6 0 1 0 5.2 0a2.6 2.6 0 1 0 -5.2 0zM734.0 142.9a2.6 2.6 0 1 0 5.2 0a2.6 2.6 0 1 0 -5.2 0zM734.0 118.0a2.6 2.6 0 1 0 5.2 0a2.6 2.6 0 1 0 -5.2 0zM738.5 142.8a2.6 2.6 0 1 0 5.2 0a2.6 2.6 0 1 0 -5.2 0zM738.5 118.0a2.6 2.6 0 1 0 5.2 0a2.6 2.6 0 1 0 -5.2 0zM743.0 142.7a2.6 2.6 0 1 0 5.2 0a2.6 2.6 0 1 0 -5.2 0zM747.4 166.3a2.6 2.6 0 1 0 5.2 0a2.6 2.6 0 1 0 -5.2 0zM747.4 142.6a2.6 2.6 0 1 0 5.2 0a2.6 2.6 0 1 0 -5.2 0zM751.7 166.3a2.6 2.6 0 1 0 5.2 0a2.6 2.6 0 1 0 -5.2 0zM751.7 142.6a2.6 2.6 0 1 0 5.2 0a2.6 2.6 0 1 0 -5.2 0zM755.9 166.2a2.6 2.6 0 1 0 5.2 0a2.6 2.6 0 1 0 -5.2 0zM760.1 166.1a2.6 2.6 0 1 0 5.2 0a2.6 2.6 0 1 0 -5.2 0zM764.2 188.6a2.6 2.6 0 1 0 5.2 0a2.6 2.6 0 1 0 -5.2 0zM764.2 166.0a2.6 2.6 0 1 0 5.2 0a2.6 2.6 0 1 0 -5.2 0zM768.2 188.5a2.6 2.6 0 1 0 5.2 0a2.6 2.6 0 1 0 -5.2 0zM768.2 166.0a2.6 2.6 0 1 0 5.2 0a2.6 2.6 0 1 0 -5.2 0zM772.1 188.5a2.6 2.6 0 1 0 5.2 0a2.6 2.6 0 1 0 -5.2 0zM776.0 188.4a2.6 2.6 0 1 0 5.2 0a2.6 2.6 0 1 0 -5.2 0zM779.8 209.8a2.6 2.6 0 1 0 5.2 0a2.6 2.6 0 1 0 -5.2 0zM779.8 188.3a2.6 2.6 0 1 0 5.2 0a2.6 2.6 0 1 0 -5.2 0z"/>
<path fill="#563400" d="M676.5 459.7a2.6 2.6 0 1 0 5.2 0a2.6 2.6 0 1 0 -5.2 0zM738.5 474.7a2.6 2.6 0 1 0 5.2 0a2.6 2.6 0 1 0 -5.2 0z"/>
<path fill="#744500" d="M676.5 454.4a2.6 2.6 0 1 0 5.2 0a2.6 2.6 0 1 0 -5.2 0z"/>
<path fill="#bb7000" d="M676.5 443.2a2.6 2.6 0 1 0 5.2 0a2.6 2.6 0 1 0 -5.2 0zM734.0 464.2a2.6 2.6 0 1 0 5.2 0a2.6 2.6 0 1 0 -5.2 0z"/>
<path fill="#f19d05" d="M676.5 430.6a2.6 2.6 0 1 0 5.2 0a2.6 2.6 0 1 0 -5.2 0z"/>
<path fill="#a5b323" d="M676.5 415.7a2.6 2.6 0 1 0 5.2 0a2.6 2.6 0 1 0 -5.2 0zM779.8 457.9a2.6 2.6 0 1 0 5.2 0a2.6 2.6 0 1 0 -5.2 0z"/>
<path fill="#37d97f" d="M676.5 394.7a2.6 2.6 0 1 0 5.2 0a2.6 2.6 0 1 0 -5.2 0z"/>
<path fill="#1ceac9" d="M676.5 382.2a2.6 2.6 0 1 0 5.2 0a2.6 2.6 0 1 0 -5.2 0z"/>
<path fill="#47d1f6" d="M676.5 336.1a2.6 2.6 0 1 0 5.2 0a2.6 2.6 0 1 0 -5.2 0zM709.6 359.8a2.6 2.6 0 1 0 5.2 0a2.6 2.6 0 1 0 -5.2 0zM776.0 400.4a2.6 2.6 0 1 0 5.2 0a2.6 2.6 0 1 0 -5.2 0z"/>
<path fill="#5cc6f9" d="M676.5 317.6a2.6 2.6 0 1 0 5.2 0a2.6 2.6 0 1 0 -5.2 0z"/>
<path fill="#7fb9fc" d="M676.5 278.6a2.6 2.6 0 1 0 5.2 0a2.6 2.6 0 1 0 -5.2 0zM734.0 324.1a2.6 2.6 0 1 0 5.2 0a2.6 2.6 0 1 0 -5.2 0zM751.7 337.7a2.6 2.6 0 1 0 5.2 0a2.6 2.6 0 1 0 -5.2 0z"/>
<path fill="#865000" d="M682.3 454.3a2.6 2.6 0 1 0 5.2 0a2.6 2.6 0 1 0 -5.2 0z"/>
<path fill="#dea30d" d="M682.3 430.1a2.6 2.6 0 1 0 5.2 0a2.6 2.6 0 1 0 -5.2 0zM755.9 458.4a2.6 2.6 0 1 0 5.2 0a2.6 2.6 0 1 0 -5.2 0z"/>
<path fill="#87bc2f" d="M682.3 414.6a2.6 2.6 0 1 0 5.2 0a2.6 2.6 0 1 0 -5.2 0zM755.9 446.1a2.6 2.6 0 1 0 5.2 0a2.6 2.6 0 1 0 -5.2 0z"/>
<path fill="#47d051" d="M682.3 404.5a2.6 2.6 0 1 0 5.2 0a2.6 2.6 0 1 0 -5.2 0z"/>
<path fill="#29e2a4" d="M682.3 392.8a2.6 2.6 0 1 0 5.2 0a2.6 2.6 0 1 0 -5.2 0zM747.4 423.8a2.6 2.6 0 1 0 5.2 0a2.6 2.6 0 1 0 -5.2 0z"/>
<path fill="#14efe1" d="M682.3 380.8a2.6 2.6 0 1 0 5.2 0a2.6 2.6 0 1 0 -5.2 0z"/>
<path fill="#20e8f0" d="M682.3 367.3a2.6 2.6 0 1 0 5.2 0a2.6 2.6 0 1 0 -5.2 0z"/>
<path fill="#35dbf4" d="M682.3 352.0a2.6 2.6 0 1 0 5.2 0a2.6 2.6 0 1 0 -5.2 0z"/>
<path fill="#4ccef7" d="M682.3 334.7a2.6 2.6 0 1 0 5.2 0a2.6 2.6 0 1 0 -5.2 0zM729.3 369.8a2.6 2.6 0 1 0 5.2 0a2.6 2.6 0 1 0 -5.2 0z"/>
<path fill="#61c4fa" d="M682.3 316.3a2.6 2.6 0 1 0 5.2 0a2.6 2.6 0 1 0 -5.2 0zM699.1 330.0a2.6 2.6 0 1 0 5.2 0a2.6 2.6 0 1 0 -5.2 0z"/>
<path fill="#744600" d="M688.1 459.5a2.6 2.6 0 1 0 5.2 0a2.6 2.6 0 1 0 -5.2 0zM755.9 474.6a2.6 2.6 0 1 0 5.2 0a2.6 2.6 0 1 0 -5.2 0z"/>
<path fill="#c57600" d="M688.1 448.4a2.6 2.6 0 1 0 5.2 0a2.6 2.6 0 1 0 -5.2 0z"/>
<path fill="#ed8e00" d="M688.1 442.5a2.6 2.6 0 1 0 5.2 0a2.6 2.6 0 1 0 -5.2 0zM714.7 453.4a2.6 2.6 0 1 0 5.2 0a2.6 2.6 0 1 0 -5.2 0z"/>
<path fill="#ed9e07" d="M688.1 436.3a2.6 2.6 0 1 0 5.2 0a2.6 2.6 0 1 0 -5.2 0zM699.1 442.0a2.6 2.6 0 1 0 5.2 0a2.6 2.6 0 1 0 -5.2 0zM768.2 463.8a2.6 2.6 0 1 0 5.2 0a2.6 2.6 0 1 0 -5.2 0z"/>
<path fill="#cca814" d="M688.1 429.6a2.6 2.6 0 1 0 5.2 0a2.6 2.6 0 1 0 -5.2 0zM714.7 441.4a2.6 2.6 0 1 0 5.2 0a2.6 2.6 0 1 0 -5.2 0zM764.2 458.2a2.6 2.6 0 1 0 5.2 0a2.6 2.6 0 1 0 -5.2 0z"/>
<path fill="#a8b222" d="M688.1 422.3a2.6 2.6 0 1 0 5.2 0a2.6 2.6 0 1 0 -5.2 0zM714.7 434.8a2.6 2.6 0 1 0 5.2 0a2.6 2.6 0 1 0 -5.2 0z"/>
<path fill="#69c43b" d="M688.1 413.4a2.6 2.6 0 1 0 5.2 0a2.6 2.6 0 1 0 -5.2 0z"/>
<path fill="#3ad775" d="M688.1 403.0a2.6 2.6 0 1 0 5.2 0a2.6 2.6 0 1 0 -5.2 0z"/>
<path fill="#21e7bd" d="M688.1 391.6a2.6 2.6 0 1 0 5.2 0a2.6 2.6 0 1 0 -5.2 0z"/>
<path fill="#11f1ee" d="M688.1 379.7a2.6 2.6 0 1 0 5.2 0a2.6 2.6 0 1 0 -5.2 0z"/>
<path fill="#3bd8f5" d="M688.1 350.8a2.6 2.6 0 1 0 5.2 0a2.6 2.6 0 1 0 -5.2 0zM747.4 392.5a2.6 2.6 0 1 0 5.2 0a2.6 2.6 0 1 0 -5.2 0zM764.2 401.7a2.6 2.6 0 1 0 5.2 0a2.6 2.6 0 1 0 -5.2 0z"/>
<path fill="#865100" d="M693.6 459.4a2.6 2.6 0 1 0 5.2 0a2.6 2.6 0 1 0 -5.2 0zM764.2 474.6a2.6 2.6 0 1 0 5.2 0a2.6 2.6 0 1 0 -5.2 0z"/>
<path fill="#da8300" d="M693.6 448.2a2.6 2.6 0 1 0 5.2 0a2.6 2.6 0 1 0 -5.2 0z"/>
<path fill="#dda30d" d="M693.6 435.9a2.6 2.6 0 1 0 5.2 0a2.6 2.6 0 1 0 -5.2 0zM738.5 452.9a2.6 2.6 0 1 0 5.2 0a2.6 2.6 0 1 0 -5.2 0zM776.0 463.7a2.6 2.6 0 1 0 5.2 0a2.6 2.6 0 1 0 -5.2 0z"/>
<path fill="#bcac1a" d="M693.6 429.2a2.6 2.6 0 1 0 5.2 0a2.6 2.6 0 1 0 -5.2 0z"/>
<path fill="#8fb92b" d="M693.6 421.5a2.6 2.6 0 1 0 5.2 0a2.6 2.6 0 1 0 -5.2 0z"/>
<path fill="#4bcd46" d="M693.6 412.3a2.6 2.6 0 1 0 5.2 0a2.6 2.6 0 1 0 -5.2 0zM724.5 426.1a2.6 2.6 0 1 0 5.2 0a2.6 2.6 0 1 0 -5.2 0zM760.1 439.1a2.6 2.6 0 1 0 5.2 0a2.6 2.6 0 1 0 -5.2 0zM779.8 445.3a2.6 2.6 0 1 0 5.2 0a2.6 2.6 0 1 0 -5.2 0z"/>
<path fill="#2edf97" d="M693.6 401.6a2.6 2.6 0 1 0 5.2 0a2.6 2.6 0 1 0 -5.2 0z"/>
<path fill="#16eedb" d="M693.6 390.2a2.6 2.6 0 1 0 5.2 0a2.6 2.6 0 1 0 -5.2 0z"/>
<path fill="#1deaf0" d="M693.6 377.7a2.6 2.6 0 1 0 5.2 0a2.6 2.6 0 1 0 -5.2 0z"/>
<path fill="#30dff3" d="M693.6 364.2a2.6 2.6 0 1 0 5.2 0a2.6 2.6 0 1 0 -5.2 0z"/>
<path fill="#59c7f9" d="M693.6 331.5a2.6 2.6 0 1 0 5.2 0a2.6 2.6 0 1 0 -5.2 0zM724.5 356.4a2.6 2.6 0 1 0 5.2 0a2.6 2.6 0 1 0 -5.2 0z"/>
<path fill="#6dbffb" d="M693.6 313.6a2.6 2.6 0 1 0 5.2 0a2.6 2.6 0 1 0 -5.2 0z"/>
<path fill="#1d1200" d="M699.1 474.8a2.6 2.6 0 1 0 5.2 0a2.6 2.6 0 1 0 -5.2 0z"/>
<path fill="#f09000" d="M699.1 448.0a2.6 2.6 0 1 0 5.2 0a2.6 2.6 0 1 0 -5.2 0zM734.0 458.7a2.6 2.6 0 1 0 5.2 0a2.6 2.6 0 1 0 -5.2 0z"/>
<path fill="#cfa713" d="M699.1 435.6a2.6 2.6 0 1 0 5.2 0a2.6 2.6 0 1 0 -5.2 0z"/>
<path fill="#aeb020" d="M699.1 428.8a2.6 2.6 0 1 0 5.2 0a2.6 2.6 0 1 0 -5.2 0z"/>
<path fill="#40d465" d="M699.1 411.2a2.6 2.6 0 1 0 5.2 0a2.6 2.6 0 1 0 -5.2 0z"/>
<path fill="#23e5b5" d="M699.1 400.3a2.6 2.6 0 1 0 5.2 0a2.6 2.6 0 1 0 -5.2 0z"/>
<path fill="#15efef" d="M699.1 388.4a2.6 2.6 0 1 0 5.2 0a2.6 2.6 0 1 0 -5.2 0z"/>
<path fill="#37dbf4" d="M699.1 362.8a2.6 2.6 0 1 0 5.2 0a2.6 2.6 0 1 0 -5.2 0z"/>
<path fill="#4dcef7" d="M699.1 346.9a2.6 2.6 0 1 0 5.2 0a2.6 2.6 0 1 0 -5.2 0z"/>
<path fill="#73befb" d="M699.1 312.4a2.6 2.6 0 1 0 5.2 0a2.6 2.6 0 1 0 -5.2 0z"/>
<path fill="#a9aaff" d="M699.1 36.9a2.6 2.6 0 1 0 5.2 0a2.6 2.6 0 1 0 -5.2 0zM704.4 36.8a2.6 2.6 0 1 0 5.2 0a2.6 2.6 0 1 0 -5.2 0zM709.6 36.7a2.6 2.6 0 1 0 5.2 0a2.6 2.6 0 1 0 -5.2 0zM714.7 65.1a2.6 2.6 0 1 0 5.2 0a2.6 2.6 0 1 0 -5.2 0zM714.7 36.6a2.6 2.6 0 1 0 5.2 0a2.6 2.6 0 1 0 -5.2 0zM719.7 65.0a2.6 2.6 0 1 0 5.2 0a2.6 2.6 0 1 0 -5.2 0zM719.7 36.5a2.6 2.6 0 1 0 5.2 0a2.6 2.6 0 1 0 -5.2 0zM724.5 64.9a2.6 2.6 0 1 0 5.2 0a2.6 2.6 0 1 0 -5.2 0zM724.5 36.5a2.6 2.6 0 1 0 5.2 0a2.6 2.6 0 1 0 -5.2 0zM729.3 92.1a2.6 2.6 0 1 0 5.2 0a2.6 2.6 0 1 0 -5.2 0zM729.3 64.9a2.6 2.6 0 1 0 5.2 0a2.6 2.6 0 1 0 -5.2 0zM729.3 36.4a2.6 2.6 0 1 0 5.2 0a2.6 2.6 0 1 0 -5.2 0zM734.0 92.0a2.6 2.6 0 1 0 5.2 0a2.6 2.6 0 1 0 -5.2 0zM734.0 64.8a2.6 2.6 0 1 0 5.2 0a2.6 2.6 0 1 0 -5.2 0zM734.0 36.4a2.6 2.6 0 1 0 5.2 0a2.6 2.6 0 1 0 -5.2 0zM738.5 92.0a2.6 2.6 0 1 0 5.2 0a2.6 2.6 0 1 0 -5.2 0zM738.5 64.8a2.6 2.6 0 1 0 5.2 0a2.6 2.6 0 1 0 -5.2 0zM738.5 36.3a2.6 2.6 0 1 0 5.2 0a2.6 2.6 0 1 0 -5.2 0zM743.0 117.9a2.6 2.6 0 1 0 5.2 0a2.6 2.6 0 1 0 -5.2 0zM743.0 91.9a2.6 2.6 0 1 0 5.2 0a2.6 2.6 0 1 0 -5.2 0zM743.0 64.7a2.6 2.6 0 1 0 5.2 0a2.6 2.6 0 1 0 -5.2 0zM743.0 36.3a2.6 2.6 0 1 0 5.2 0a2.6 2.6 0 1 0 -5.2 0zM747.4 117.8a2.6 2.6 0 1 0 5.2 0a2.6 2.6 0 1 0 -5.2 0zM747.4 91.9a2.6 2.6 0 1 0 5.2 0a2.6 2.6 0 1 0 -5.2 0zM747.4 64.7a2.6 2.6 0 1 0 5.2 0a2.6 2.6 0 1 0 -5.2 0zM747.4 36.3a2.6 2.6 0 1 0 5.2 0a2.6 2.6 0 1 0 -5.2 0zM751.7 117.8a2.6 2.6 0 1 0 5.2 0a2.6 2.6 0 1 0 -5.2 0zM751.7 91.8a2.6 2.6 0 1 0 5.2 0a2.6 2.6 0 1 0 -5.2 0zM751.7 64.6a2.6 2.6 0 1 0 5.2 0a2.6 2.6 0 1 0 -5.2 0zM751.7 36.2a2.6 2.6 0 1 0 5.2 0a2.6 2.6 0 1 0 -5.2 0zM755.9 117.7a2.6 2.6 0 1 0 5.2 0a2.6 2.6 0 1 0 -5.2 0zM755.9 91.8a2.6 2.6 0 1 0 5.2 0a2.6 2.6 0 1 0 -5.2 0zM755.9 64.6a2.6 2.6 0 1 0 5.2 0a2.6 2.6 0 1 0 -5.2 0zM755.9 36.2a2.6 2.6 0 1 0 5.2 0a2.6 2.6 0 1 0 -5.2 0zM760.1 142.5a2.6 2.6 0 1 0 5.2 0a2.6 2.6 0 1 0 -5.2 0zM760.1 117.7a2.6 2.6 0 1 0 5.2 0a2.6 2.6 0 1 0 -5.2 0zM760.1 91.7a2.6 2.6 0 1 0 5.2 0a2.6 2.6 0 1 0 -5.2 0zM760.1 64.6a2.6 2.6 0 1 0 5.2 0a2.6 2.6 0 1 0 -5.2 0zM764.2 142.4a2.6 2.6 0 1 0 5.2 0a2.6 2.6 0 1 0 -5.2 0zM764.2 117.6a2.6 2.6 0 1 0 5.2 0a2.6 2.6 0 1 0 -5.2 0zM764.2 91.7a2.6 2.6 0 1 0 5.2 0a2.6 2.6 0 1 0 -5.2 0zM764.2 64.6a2.6 2.6 0 1 0 5.2 0a2.6 2.6 0 1 0 -5.2 0zM768.2 142.4a2.6 2.6 0 1 0 5.2 0a2.6 2.6 0 1 0 -5.2 0zM768.2 117.6a2.6 2.6 0 1 0 5.2 0a2.6 2.6 0 1 0 -5.2 0zM768.2 91.7a2.6 2.6 0 1 0 5.2 0a2.6 2.6 0 1 0 -5.2 0zM768.2 64.5a2.6 2.6 0 1 0 5.2 0a2.6 2.6 0 1 0 -5.2 0zM772.1 142.3a2.6 2.6 0 1 0 5.2 0a2.6 2.6 0 1 0 -5.2 0zM772.1 117.6a2.6 2.6 0 1 0 5.2 0a2.6 2.6 0 1 0 -5.2 0zM772.1 91.6a2.6 2.6 0 1 0 5.2 0a2.6 2.6 0 1 0 -5.2 0zM776.0 165.9a2.6 2.6 0 1 0 5.2 0a2.6 2.6 0 1 0 -5.2 0zM776.0 142.3a2.6 2.6 0 1 0 5.2 0a2.6 2.6 0 1 0 -5.2 0zM776.0 117.5a2.6 2.6 0 1 0 5.2 0a2.6 2.6 0 1 0 -5.2 0zM776.0 91.6a2.6 2.6 0 1 0 5.2 0a2.6 2.6 0 1 0 -5.2 0zM779.8 165.8a2.6 2.6 0 1 0 5.2 0a2.6 2.6 0 1 0 -5.2 0zM779.8 142.2a2.6 2.6 0 1 0 5.2 0a2.6 2.6 0 1 0 -5.2 0zM779.8 117.5a2.6 2.6 0 1 0 5.2 0a2.6 2.6 0 1 0 -5.2 0zM779.8 91.6a2.6 2.6 0 1 0 5.2 0a2.6 2.6 0 1 0 -5.2 0z"/>
<path fill="#1f1300" d="M704.4 474.8a2.6 2.6 0 1 0 5.2 0a2.6 2.6 0 1 0 -5.2 0zM734.0 479.7a2.6 2.6 0 1 0 5.2 0a2.6 2.6 0 1 0 -5.2 0zM768.2 484.6a2.6 2.6 0 1 0 5.2 0a2.6 2.6 0 1 0 -5.2 0z"/>
<path fill="#503000" d="M704.4 469.7a2.6 2.6 0 1 0 5.2 0a2.6 2.6 0 1 0 -5.2 0z"/>
<path fill="#a66300" d="M704.4 459.2a2.6 2.6 0 1 0 5.2 0a2.6 2.6 0 1 0 -5.2 0z"/>
<path fill="#d37f00" d="M704.4 453.6a2.6 2.6 0 1 0 5.2 0a2.6 2.6 0 1 0 -5.2 0z"/>
<path fill="#e2a10b" d="M704.4 441.8a2.6 2.6 0 1 0 5.2 0a2.6 2.6 0 1 0 -5.2 0zM719.7 447.4a2.6 2.6 0 1 0 5.2 0a2.6 2.6 0 1 0 -5.2 0z"/>
<path fill="#c2ab18" d="M704.4 435.3a2.6 2.6 0 1 0 5.2 0a2.6 2.6 0 1 0 -5.2 0zM734.0 447.0a2.6 2.6 0 1 0 5.2 0a2.6 2.6 0 1 0 -5.2 0z"/>
<path fill="#5cc83f" d="M704.4 419.9a2.6 2.6 0 1 0 5.2 0a2.6 2.6 0 1 0 -5.2 0z"/>
<path fill="#36da80" d="M704.4 410.2a2.6 2.6 0 1 0 5.2 0a2.6 2.6 0 1 0 -5.2 0z"/>
<path fill="#1aebce" d="M704.4 399.3a2.6 2.6 0 1 0 5.2 0a2.6 2.6 0 1 0 -5.2 0z"/>
<path fill="#1bebf0" d="M704.4 387.4a2.6 2.6 0 1 0 5.2 0a2.6 2.6 0 1 0 -5.2 0zM755.9 413.2a2.6 2.6 0 1 0 5.2 0a2.6 2.6 0 1 0 -5.2 0z"/>
<path fill="#2de1f2" d="M704.4 375.1a2.6 2.6 0 1 0 5.2 0a2.6 2.6 0 1 0 -5.2 0z"/>
<path fill="#3fd6f5" d="M704.4 361.2a2.6 2.6 0 1 0 5.2 0a2.6 2.6 0 1 0 -5.2 0zM768.2 401.2a2.6 2.6 0 1 0 5.2 0a2.6 2.6 0 1 0 -5.2 0z"/>
<path fill="#54caf8" d="M704.4 345.4a2.6 2.6 0 1 0 5.2 0a2.6 2.6 0 1 0 -5.2 0z"/>
<path fill="#98b1fe" d="M704.4 254.1a2.6 2.6 0 1 0 5.2 0a2.6 2.6 0 1 0 -5.2 0z"/>
<path fill="#593500" d="M709.6 469.7a2.6 2.6 0 1 0 5.2 0a2.6 2.6 0 1 0 -5.2 0z"/>
<path fill="#df8600" d="M709.6 453.5a2.6 2.6 0 1 0 5.2 0a2.6 2.6 0 1 0 -5.2 0z"/>
<path fill="#f69c04" d="M709.6 447.7a2.6 2.6 0 1 0 5.2 0a2.6 2.6 0 1 0 -5.2 0z"/>
<path fill="#d7a510" d="M709.6 441.6a2.6 2.6 0 1 0 5.2 0a2.6 2.6 0 1 0 -5.2 0z"/>
<path fill="#b5ae1d" d="M709.6 435.1a2.6 2.6 0 1 0 5.2 0a2.6 2.6 0 1 0 -5.2 0z"/>
<path fill="#85bc30" d="M709.6 427.7a2.6 2.6 0 1 0 5.2 0a2.6 2.6 0 1 0 -5.2 0z"/>
<path fill="#49ce4c" d="M709.6 419.2a2.6 2.6 0 1 0 5.2 0a2.6 2.6 0 1 0 -5.2 0z"/>
<path fill="#2ddf9a" d="M709.6 409.3a2.6 2.6 0 1 0 5.2 0a2.6 2.6 0 1 0 -5.2 0z"/>
<path fill="#12f0e5" d="M709.6 398.3a2.6 2.6 0 1 0 5.2 0a2.6 2.6 0 1 0 -5.2 0z"/>
<path fill="#33ddf3" d="M709.6 374.1a2.6 2.6 0 1 0 5.2 0a2.6 2.6 0 1 0 -5.2 0z"/>
<path fill="#a9abff" d="M709.6 65.2a2.6 2.6 0 1 0 5.2 0a2.6 2.6 0 1 0 -5.2 0zM724.5 92.2a2.6 2.6 0 1 0 5.2 0a2.6 2.6 0 1 0 -5.2 0zM755.9 142.5a2.6 2.6 0 1 0 5.2 0a2.6 2.6 0 1 0 -5.2 0zM772.1 165.9a2.6 2.6 0 1 0 5.2 0a2.6 2.6 0 1 0 -5.2 0z"/>
<path fill="#352000" d="M714.7 474.8a2.6 2.6 0 1 0 5.2 0a2.6 2.6 0 1 0 -5.2 0zM751.7 479.7a2.6 2.6 0 1 0 5.2 0a2.6 2.6 0 1 0 -5.2 0z"/>
<path fill="#603a00" d="M714.7 469.7a2.6 2.6 0 1 0 5.2 0a2.6 2.6 0 1 0 -5.2 0z"/>
<path fill="#c07300" d="M714.7 459.0a2.6 2.6 0 1 0 5.2 0a2.6 2.6 0 1 0 -5.2 0z"/>
<path fill="#ec9e07" d="M714.7 447.6a2.6 2.6 0 1 0 5.2 0a2.6 2.6 0 1 0 -5.2 0z"/>
<path fill="#70c238" d="M714.7 427.1a2.6 2.6 0 1 0 5.2 0a2.6 2.6 0 1 0 -5.2 0z"/>
<path fill="#40d464" d="M714.7 418.4a2.6 2.6 0 1 0 5.2 0a2.6 2.6 0 1 0 -5.2 0z"/>
<path fill="#39daf4" d="M714.7 373.1a2.6 2.6 0 1 0 5.2 0a2.6 2.6 0 1 0 -5.2 0z"/>
<path fill="#4dcdf7" d="M714.7 358.5a2.6 2.6 0 1 0 5.2 0a2.6 2.6 0 1 0 -5.2 0zM764.2 390.2a2.6 2.6 0 1 0 5.2 0a2.6 2.6 0 1 0 -5.2 0z"/>
<path fill="#975a00" d="M719.7 464.4a2.6 2.6 0 1 0 5.2 0a2.6 2.6 0 1 0 -5.2 0z"/>
<path fill="#c0ab19" d="M719.7 441.2a2.6 2.6 0 1 0 5.2 0a2.6 2.6 0 1 0 -5.2 0z"/>
<path fill="#5dc83f" d="M719.7 426.6a2.6 2.6 0 1 0 5.2 0a2.6 2.6 0 1 0 -5.2 0zM772.1 445.5a2.6 2.6 0 1 0 5.2 0a2.6 2.6 0 1 0 -5.2 0z"/>
<path fill="#38d97b" d="M719.7 417.7a2.6 2.6 0 1 0 5.2 0a2.6 2.6 0 1 0 -5.2 0z"/>
<path fill="#1de9c7" d="M719.7 407.7a2.6 2.6 0 1 0 5.2 0a2.6 2.6 0 1 0 -5.2 0z"/>
<path fill="#1aebf0" d="M719.7 396.6a2.6 2.6 0 1 0 5.2 0a2.6 2.6 0 1 0 -5.2 0z"/>
<path fill="#2de0f2" d="M719.7 384.9a2.6 2.6 0 1 0 5.2 0a2.6 2.6 0 1 0 -5.2 0z"/>
<path fill="#382100" d="M724.5 474.7a2.6 2.6 0 1 0 5.2 0a2.6 2.6 0 1 0 -5.2 0z"/>
<path fill="#6f4300" d="M724.5 469.6a2.6 2.6 0 1 0 5.2 0a2.6 2.6 0 1 0 -5.2 0z"/>
<path fill="#d68100" d="M724.5 458.9a2.6 2.6 0 1 0 5.2 0a2.6 2.6 0 1 0 -5.2 0z"/>
<path fill="#d8a40f" d="M724.5 447.3a2.6 2.6 0 1 0 5.2 0a2.6 2.6 0 1 0 -5.2 0z"/>
<path fill="#b3af1d" d="M724.5 441.0a2.6 2.6 0 1 0 5.2 0a2.6 2.6 0 1 0 -5.2 0z"/>
<path fill="#84bd30" d="M724.5 434.0a2.6 2.6 0 1 0 5.2 0a2.6 2.6 0 1 0 -5.2 0z"/>
<path fill="#30dd91" d="M724.5 417.1a2.6 2.6 0 1 0 5.2 0a2.6 2.6 0 1 0 -5.2 0z"/>
<path fill="#15eedc" d="M724.5 406.9a2.6 2.6 0 1 0 5.2 0a2.6 2.6 0 1 0 -5.2 0z"/>
<path fill="#46d1f6" d="M724.5 370.8a2.6 2.6 0 1 0 5.2 0a2.6 2.6 0 1 0 -5.2 0z"/>
<path fill="#78bcfb" d="M724.5 325.4a2.6 2.6 0 1 0 5.2 0a2.6 2.6 0 1 0 -5.2 0zM760.1 351.5a2.6 2.6 0 1 0 5.2 0a2.6 2.6 0 1 0 -5.2 0z"/>
<path fill="#ae6800" d="M729.3 464.3a2.6 2.6 0 1 0 5.2 0a2.6 2.6 0 1 0 -5.2 0z"/>
<path fill="#73c136" d="M729.3 433.6a2.6 2.6 0 1 0 5.2 0a2.6 2.6 0 1 0 -5.2 0z"/>
<path fill="#44d25b" d="M729.3 425.6a2.6 2.6 0 1 0 5.2 0a2.6 2.6 0 1 0 -5.2 0z"/>
<path fill="#29e2a5" d="M729.3 416.5a2.6 2.6 0 1 0 5.2 0a2.6 2.6 0 1 0 -5.2 0z"/>
<path fill="#10f2ee" d="M729.3 406.2a2.6 2.6 0 1 0 5.2 0a2.6 2.6 0 1 0 -5.2 0zM747.4 414.2a2.6 2.6 0 1 0 5.2 0a2.6 2.6 0 1 0 -5.2 0z"/>
<path fill="#38daf4" d="M729.3 383.3a2.6 2.6 0 1 0 5.2 0a2.6 2.6 0 1 0 -5.2 0z"/>
<path fill="#5ec5f9" d="M729.3 355.5a2.6 2.6 0 1 0 5.2 0a2.6 2.6 0 1 0 -5.2 0zM764.2 378.0a2.6 2.6 0 1 0 5.2 0a2.6 2.6 0 1 0 -5.2 0z"/>
<path fill="#6ebffb" d="M729.3 340.5a2.6 2.6 0 1 0 5.2 0a2.6 2.6 0 1 0 -5.2 0zM764.2 364.9a2.6 2.6 0 1 0 5.2 0a2.6 2.6 0 1 0 -5.2 0z"/>
<path fill="#e7a00a" d="M734.0 453.0a2.6 2.6 0 1 0 5.2 0a2.6 2.6 0 1 0 -5.2 0z"/>
<path fill="#98b728" d="M734.0 440.5a2.6 2.6 0 1 0 5.2 0a2.6 2.6 0 1 0 -5.2 0z"/>
<path fill="#63c63d" d="M734.0 433.3a2.6 2.6 0 1 0 5.2 0a2.6 2.6 0 1 0 -5.2 0z"/>
<path fill="#3dd66e" d="M734.0 425.1a2.6 2.6 0 1 0 5.2 0a2.6 2.6 0 1 0 -5.2 0z"/>
<path fill="#2be2f2" d="M734.0 394.5a2.6 2.6 0 1 0 5.2 0a2.6 2.6 0 1 0 -5.2 0z"/>
<path fill="#c67700" d="M738.5 464.2a2.6 2.6 0 1 0 5.2 0a2.6 2.6 0 1 0 -5.2 0z"/>
<path fill="#b7ae1c" d="M738.5 446.8a2.6 2.6 0 1 0 5.2 0a2.6 2.6 0 1 0 -5.2 0z"/>
<path fill="#55ca42" d="M738.5 432.9a2.6 2.6 0 1 0 5.2 0a2.6 2.6 0 1 0 -5.2 0z"/>
<path fill="#30def3" d="M738.5 393.8a2.6 2.6 0 1 0 5.2 0a2.6 2.6 0 1 0 -5.2 0z"/>
<path fill="#d17e00" d="M743.0 464.1a2.6 2.6 0 1 0 5.2 0a2.6 2.6 0 1 0 -5.2 0z"/>
<path fill="#f79b03" d="M743.0 458.6a2.6 2.6 0 1 0 5.2 0a2.6 2.6 0 1 0 -5.2 0z"/>
<path fill="#d3a611" d="M743.0 452.8a2.6 2.6 0 1 0 5.2 0a2.6 2.6 0 1 0 -5.2 0z"/>
<path fill="#abb121" d="M743.0 446.6a2.6 2.6 0 1 0 5.2 0a2.6 2.6 0 1 0 -5.2 0z"/>
<path fill="#7bbf33" d="M743.0 440.0a2.6 2.6 0 1 0 5.2 0a2.6 2.6 0 1 0 -5.2 0z"/>
<path fill="#49ce4b" d="M743.0 432.6a2.6 2.6 0 1 0 5.2 0a2.6 2.6 0 1 0 -5.2 0z"/>
<path fill="#30de93" d="M743.0 424.2a2.6 2.6 0 1 0 5.2 0a2.6 2.6 0 1 0 -5.2 0z"/>
<path fill="#15efde" d="M743.0 414.8a2.6 2.6 0 1 0 5.2 0a2.6 2.6 0 1 0 -5.2 0z"/>
<path fill="#49d0f7" d="M743.0 380.8a2.6 2.6 0 1 0 5.2 0a2.6 2.6 0 1 0 -5.2 0zM760.1 390.7a2.6 2.6 0 1 0 5.2 0a2.6 2.6 0 1 0 -5.2 0z"/>
<path fill="#9f5f00" d="M747.4 469.5a2.6 2.6 0 1 0 5.2 0a2.6 2.6 0 1 0 -5.2 0z"/>
<path fill="#c9a915" d="M747.4 452.7a2.6 2.6 0 1 0 5.2 0a2.6 2.6 0 1 0 -5.2 0z"/>
<path fill="#9fb525" d="M747.4 446.5a2.6 2.6 0 1 0 5.2 0a2.6 2.6 0 1 0 -5.2 0zM764.2 452.2a2.6 2.6 0 1 0 5.2 0a2.6 2.6 0 1 0 -5.2 0z"/>
<path fill="#6ec338" d="M747.4 439.7a2.6 2.6 0 1 0 5.2 0a2.6 2.6 0 1 0 -5.2 0z"/>
<path fill="#43d25c" d="M747.4 432.3a2.6 2.6 0 1 0 5.2 0a2.6 2.6 0 1 0 -5.2 0z"/>
<path fill="#4ecdf7" d="M747.4 380.1a2.6 2.6 0 1 0 5.2 0a2.6 2.6 0 1 0 -5.2 0z"/>
<path fill="#6fbffb" d="M747.4 352.9a2.6 2.6 0 1 0 5.2 0a2.6 2.6 0 1 0 -5.2 0z"/>
<path fill="#6c4100" d="M751.7 474.6a2.6 2.6 0 1 0 5.2 0a2.6 2.6 0 1 0 -5.2 0z"/>
<path fill="#bfab19" d="M751.7 452.6a2.6 2.6 0 1 0 5.2 0a2.6 2.6 0 1 0 -5.2 0z"/>
<path fill="#93b82a" d="M751.7 446.3a2.6 2.6 0 1 0 5.2 0a2.6 2.6 0 1 0 -5.2 0z"/>
<path fill="#3dd66d" d="M751.7 431.9a2.6 2.6 0 1 0 5.2 0a2.6 2.6 0 1 0 -5.2 0z"/>
<path fill="#23e6b5" d="M751.7 423.4a2.6 2.6 0 1 0 5.2 0a2.6 2.6 0 1 0 -5.2 0z"/>
<path fill="#2ce1f2" d="M751.7 403.3a2.6 2.6 0 1 0 5.2 0a2.6 2.6 0 1 0 -5.2 0z"/>
<path fill="#52caf8" d="M751.7 379.5a2.6 2.6 0 1 0 5.2 0a2.6 2.6 0 1 0 -5.2 0z"/>
<path fill="#f79400" d="M755.9 464.0a2.6 2.6 0 1 0 5.2 0a2.6 2.6 0 1 0 -5.2 0z"/>
<path fill="#b4af1d" d="M755.9 452.5a2.6 2.6 0 1 0 5.2 0a2.6 2.6 0 1 0 -5.2 0z"/>
<path fill="#56ca42" d="M755.9 439.3a2.6 2.6 0 1 0 5.2 0a2.6 2.6 0 1 0 -5.2 0z"/>
<path fill="#38d97d" d="M755.9 431.6a2.6 2.6 0 1 0 5.2 0a2.6 2.6 0 1 0 -5.2 0z"/>
<path fill="#1de9c6" d="M755.9 422.9a2.6 2.6 0 1 0 5.2 0a2.6 2.6 0 1 0 -5.2 0zM776.0 430.1a2.6 2.6 0 1 0 5.2 0a2.6 2.6 0 1 0 -5.2 0z"/>
<path fill="#45d2f6" d="M755.9 391.3a2.6 2.6 0 1 0 5.2 0a2.6 2.6 0 1 0 -5.2 0z"/>
<path fill="#8cb4fd" d="M755.9 321.4a2.6 2.6 0 1 0 5.2 0a2.6 2.6 0 1 0 -5.2 0z"/>
<path fill="#3b2400" d="M760.1 479.7a2.6 2.6 0 1 0 5.2 0a2.6 2.6 0 1 0 -5.2 0z"/>
<path fill="#7e4b00" d="M760.1 474.6a2.6 2.6 0 1 0 5.2 0a2.6 2.6 0 1 0 -5.2 0z"/>
<path fill="#c27500" d="M760.1 469.3a2.6 2.6 0 1 0 5.2 0a2.6 2.6 0 1 0 -5.2 0z"/>
<path fill="#fc9a01" d="M760.1 463.9a2.6 2.6 0 1 0 5.2 0a2.6 2.6 0 1 0 -5.2 0z"/>
<path fill="#aab221" d="M760.1 452.3a2.6 2.6 0 1 0 5.2 0a2.6 2.6 0 1 0 -5.2 0z"/>
<path fill="#7cbf33" d="M760.1 446.0a2.6 2.6 0 1 0 5.2 0a2.6 2.6 0 1 0 -5.2 0z"/>
<path fill="#32dc8c" d="M760.1 431.3a2.6 2.6 0 1 0 5.2 0a2.6 2.6 0 1 0 -5.2 0z"/>
<path fill="#17edd7" d="M760.1 422.5a2.6 2.6 0 1 0 5.2 0a2.6 2.6 0 1 0 -5.2 0z"/>
<path fill="#aaaaff" d="M760.1 36.2a2.6 2.6 0 1 0 5.2 0a2.6 2.6 0 1 0 -5.2 0zM764.2 36.2a2.6 2.6 0 1 0 5.2 0a2.6 2.6 0 1 0 -5.2 0zM768.2 36.1a2.6 2.6 0 1 0 5.2 0a2.6 2.6 0 1 0 -5.2 0zM772.1 64.5a2.6 2.6 0 1 0 5.2 0a2.6 2.6 0 1 0 -5.2 0zM772.1 36.1a2.6 2.6 0 1 0 5.2 0a2.6 2.6 0 1 0 -5.2 0zM776.0 64.5a2.6 2.6 0 1 0 5.2 0a2.6 2.6 0 1 0 -5.2 0zM776.0 36.1a2.6 2.6 0 1 0 5.2 0a2.6 2.6 0 1 0 -5.2 0zM779.8 64.5a2.6 2.6 0 1 0 5.2 0a2.6 2.6 0 1 0 -5.2 0zM779.8 36.1a2.6 2.6 0 1 0 5.2 0a2.6 2.6 0 1 0 -5.2 0z"/>
<path fill="#cd7b00" d="M764.2 469.3a2.6 2.6 0 1 0 5.2 0a2.6 2.6 0 1 0 -5.2 0z"/>
<path fill="#f49c04" d="M764.2 463.9a2.6 2.6 0 1 0 5.2 0a2.6 2.6 0 1 0 -5.2 0z"/>
<path fill="#46d055" d="M764.2 438.9a2.6 2.6 0 1 0 5.2 0a2.6 2.6 0 1 0 -5.2 0z"/>
<path fill="#2de09a" d="M764.2 431.0a2.6 2.6 0 1 0 5.2 0a2.6 2.6 0 1 0 -5.2 0z"/>
<path fill="#12f0e6" d="M764.2 422.1a2.6 2.6 0 1 0 5.2 0a2.6 2.6 0 1 0 -5.2 0z"/>
<path fill="#87b7fc" d="M764.2 336.3a2.6 2.6 0 1 0 5.2 0a2.6 2.6 0 1 0 -5.2 0z"/>
<path fill="#4c2e00" d="M768.2 479.6a2.6 2.6 0 1 0 5.2 0a2.6 2.6 0 1 0 -5.2 0z"/>
<path fill="#c3aa17" d="M768.2 458.1a2.6 2.6 0 1 0 5.2 0a2.6 2.6 0 1 0 -5.2 0z"/>
<path fill="#67c53b" d="M768.2 445.7a2.6 2.6 0 1 0 5.2 0a2.6 2.6 0 1 0 -5.2 0z"/>
<path fill="#41d363" d="M768.2 438.6a2.6 2.6 0 1 0 5.2 0a2.6 2.6 0 1 0 -5.2 0z"/>
<path fill="#28e3a9" d="M768.2 430.7a2.6 2.6 0 1 0 5.2 0a2.6 2.6 0 1 0 -5.2 0z"/>
<path fill="#12f0ee" d="M768.2 421.7a2.6 2.6 0 1 0 5.2 0a2.6 2.6 0 1 0 -5.2 0z"/>
<path fill="#2ae2f2" d="M768.2 411.9a2.6 2.6 0 1 0 5.2 0a2.6 2.6 0 1 0 -5.2 0z"/>
<path fill="#62c4fa" d="M768.2 377.5a2.6 2.6 0 1 0 5.2 0a2.6 2.6 0 1 0 -5.2 0z"/>
<path fill="#89b6fd" d="M768.2 335.9a2.6 2.6 0 1 0 5.2 0a2.6 2.6 0 1 0 -5.2 0z"/>
<path fill="#8cba2d" d="M772.1 452.0a2.6 2.6 0 1 0 5.2 0a2.6 2.6 0 1 0 -5.2 0z"/>
<path fill="#3cd670" d="M772.1 438.4a2.6 2.6 0 1 0 5.2 0a2.6 2.6 0 1 0 -5.2 0z"/>
<path fill="#22e6b8" d="M772.1 430.4a2.6 2.6 0 1 0 5.2 0a2.6 2.6 0 1 0 -5.2 0z"/>
<path fill="#17edef" d="M772.1 421.4a2.6 2.6 0 1 0 5.2 0a2.6 2.6 0 1 0 -5.2 0z"/>
<path fill="#f19100" d="M776.0 469.2a2.6 2.6 0 1 0 5.2 0a2.6 2.6 0 1 0 -5.2 0z"/>
<path fill="#afb01f" d="M776.0 458.0a2.6 2.6 0 1 0 5.2 0a2.6 2.6 0 1 0 -5.2 0z"/>
<path fill="#82bd30" d="M776.0 451.9a2.6 2.6 0 1 0 5.2 0a2.6 2.6 0 1 0 -5.2 0z"/>
<path fill="#54ca43" d="M776.0 445.4a2.6 2.6 0 1 0 5.2 0a2.6 2.6 0 1 0 -5.2 0z"/>
<path fill="#37d97d" d="M776.0 438.2a2.6 2.6 0 1 0 5.2 0a2.6 2.6 0 1 0 -5.2 0z"/>
<path fill="#1cebf0" d="M776.0 421.0a2.6 2.6 0 1 0 5.2 0a2.6 2.6 0 1 0 -5.2 0z"/>
<path fill="#34dcf4" d="M776.0 411.0a2.6 2.6 0 1 0 5.2 0a2.6 2.6 0 1 0 -5.2 0z"/>
<path fill="#221500" d="M779.8 484.6a2.6 2.6 0 1 0 5.2 0a2.6 2.6 0 1 0 -5.2 0z"/>
<path fill="#ae6900" d="M779.8 474.5a2.6 2.6 0 1 0 5.2 0a2.6 2.6 0 1 0 -5.2 0z"/>
<path fill="#7ac034" d="M779.8 451.8a2.6 2.6 0 1 0 5.2 0a2.6 2.6 0 1 0 -5.2 0z"/>
<path fill="#33dc8a" d="M779.8 438.0a2.6 2.6 0 1 0 5.2 0a2.6 2.6 0 1 0 -5.2 0z"/>
<path fill="#18ecd5" d="M779.8 429.8a2.6 2.6 0 1 0 5.2 0a2.6 2.6 0 1 0 -5.2 0z"/>
<path fill="#5bc6f9" d="M779.8 388.6a2.6 2.6 0 1 0 5.2 0a2.6 2.6 0 1 0 -5.2 0z"/>
</g>
<rect x="533.2" y="49.4" width="229.6" height="48.3" fill="#fff" stroke="#c8c8c8" stroke-width="1"/>
<rect x="97.7" y="457.9" width="303.4" height="49.7" fill="#fff" stroke="#c8c8c8" stroke-width="1"/>
<g clip-path="url(#c2)" fill="none">
<path d="M85.1 -45.7L88.6 -36.2L92.1 -26.9L95.7 -17.7L99.2 -8.7L102.7 0.1L106.2 8.8L109.8 17.3L113.3 25.7L116.8 33.9L120.3 42.0L123.9 50.0L127.4 57.8L130.9 65.5L134.4 73.0L137.9 80.4L141.5 87.7L145.0 94.8L148.5 101.9L152.0 108.8L155.6 115.5L159.1 122.2L162.6 128.8L166.1 135.2L169.6 141.5L173.2 147.7L176.7 153.8L180.2 159.8L183.7 165.7L187.3 171.5L190.8 177.2L194.3 182.8L197.8 188.3L201.3 193.7L204.9 199.0L208.4 204.3L211.9 209.4L215.4 214.4L219.0 219.4L222.5 224.2L226.0 229.0L229.5 233.7L233.1 238.4L236.6 242.9L240.1 247.4L243.6 251.8L247.1 256.1L250.7 260.3L254.2 264.5L257.7 268.6L261.2 272.6L264.8 276.6L268.3 280.4L271.8 284.3L275.3 288.0L278.8 291.7L282.4 295.3L285.9 298.9L289.4 302.4L292.9 305.9L296.5 309.3L300.0 312.6L303.5 315.9L307.0 319.1L310.6 322.3L314.1 325.4L317.6 328.4L321.1 331.4L324.6 334.4L328.2 337.3L331.7 340.2L335.2 343.0L338.7 345.7L342.3 348.5L345.8 351.1L349.3 353.8L352.8 356.3L356.3 358.9L359.9 361.4L363.4 363.8L366.9 366.2L370.4 368.6L374.0 370.9L377.5 373.2L381.0 375.5L384.5 377.7L388.0 379.9L391.6 382.0L395.1 384.1L398.6 386.2L402.1 388.3L405.7 390.3L409.2 392.2L412.7 394.2L416.2 396.1L419.8 398.0L423.3 399.8L426.8 401.6L430.3 403.4L433.8 405.1L437.4 406.9L440.9 408.6L444.4 410.2L447.9 411.9L451.5 413.5L455.0 415.1L458.5 416.6L462.0 418.2L465.5 419.7L469.1 421.2L472.6 422.6L476.1 424.1L479.6 425.5L483.2 426.9L486.7 428.2L490.2 429.6L493.7 430.9L497.2 432.2L500.8 433.5L504.3 434.7L507.8 436.0L511.3 437.2L514.9 438.4L518.4 439.6L521.9 440.7L525.4 441.9L529.0 443.0L532.5 444.1L536.0 445.2L539.5 446.2L543.0 447.3L546.6 448.3L550.1 449.3L553.6 450.3L557.1 451.3L560.7 452.3L564.2 453.3L567.7 454.2L571.2 455.1L574.7 456.0L578.3 456.9L581.8 457.8L585.3 458.7L588.8 459.5L592.4 460.3L595.9 461.2L599.4 462.0L602.9 462.8L606.4 463.6L610.0 464.3L613.5 465.1L617.0 465.8L620.5 466.6L624.1 467.3L627.6 468.0L631.1 468.7L634.6 469.4L638.2 470.1L641.7 470.7L645.2 471.4L648.7 472.0L652.2 472.7L655.8 473.3L659.3 473.9L662.8 474.5L666.3 475.1L669.9 475.7L673.4 476.3L676.9 476.9L680.4 477.4L683.9 478.0L687.5 478.5L691.0 479.0L694.5 479.6L698.0 480.1L701.6 480.6L705.1 481.1L708.6 481.6L712.1 482.1L715.6 482.5L719.2 483.0L722.7 483.5L726.2 483.9L729.7 484.4L733.3 484.8L736.8 485.3L740.3 485.7L743.8 486.1L747.4 486.5L750.9 486.9L754.4 487.3L757.9 487.7L761.4 488.1L765.0 488.5L768.5 488.9L772.0 489.2L775.5 489.6L779.1 490.0L782.6 490.3L786.1 490.7" stroke="#999999" stroke-width="2.2"/>
<path d="M85.1 122.4L88.6 127.6L92.1 132.8L95.7 138.0L99.2 143.0L102.7 148.0L106.2 152.9L109.8 157.8L113.3 162.6L116.8 167.3L120.3 172.0L123.9 176.6L127.4 181.1L130.9 185.6L134.4 190.0L137.9 194.4L141.5 198.7L145.0 202.9L148.5 207.1L152.0 211.2L155.6 215.3L159.1 219.3L162.6 223.3L166.1 227.2L169.6 231.1L173.2 234.9L176.7 238.6L180.2 242.3L183.7 246.0L187.3 249.6L190.8 253.2L194.3 256.7L197.8 260.1L201.3 263.6L204.9 266.9L208.4 270.3L211.9 273.5L215.4 276.8L219.0 280.0L222.5 283.1L226.0 286.2L229.5 289.3L233.1 292.3L236.6 295.3L240.1 298.2L243.6 301.1L247.1 304.0L250.7 306.8L254.2 309.6L257.7 312.4L261.2 315.1L264.8 317.8L268.3 320.4L271.8 323.0L275.3 325.6L278.8 328.1L282.4 330.6L285.9 333.1L289.4 335.5L292.9 337.9L296.5 340.3L300.0 342.6L303.5 344.9L307.0 347.2L310.6 349.5L314.1 351.7L317.6 353.9L321.1 356.0L324.6 358.1L328.2 360.2L331.7 362.3L335.2 364.3L338.7 366.4L342.3 368.3L345.8 370.3L349.3 372.2L352.8 374.1L356.3 376.0L359.9 377.9L363.4 379.7L366.9 381.5L370.4 383.3L374.0 385.1L377.5 386.8L381.0 388.5L384.5 390.2L388.0 391.9L391.6 393.5L395.1 395.1L398.6 396.7L402.1 398.3L405.7 399.9L409.2 401.4L412.7 402.9L416.2 404.4L419.8 405.9L423.3 407.3L426.8 408.8L430.3 410.2L433.8 411.6L437.4 413.0L440.9 414.3L444.4 415.7L447.9 417.0L451.5 418.3L455.0 419.6L458.5 420.9L462.0 422.1L465.5 423.3L469.1 424.6L472.6 425.8L476.1 427.0L479.6 428.1L483.2 429.3L486.7 430.4L490.2 431.6L493.7 432.7L497.2 433.8L500.8 434.8L504.3 435.9L507.8 437.0L511.3 438.0L514.9 439.0L518.4 440.0L521.9 441.0L525.4 442.0L529.0 443.0L532.5 443.9L536.0 444.9L539.5 445.8L543.0 446.7L546.6 447.6L550.1 448.5L553.6 449.4L557.1 450.3L560.7 451.1L564.2 452.0L567.7 452.8L571.2 453.6L574.7 454.4L578.3 455.2L581.8 456.0L585.3 456.8L588.8 457.6L592.4 458.3L595.9 459.1L599.4 459.8L602.9 460.6L606.4 461.3L610.0 462.0L613.5 462.7L617.0 463.4L620.5 464.1L624.1 464.7L627.6 465.4L631.1 466.0L634.6 466.7L638.2 467.3L641.7 468.0L645.2 468.6L648.7 469.2L652.2 469.8L655.8 470.4L659.3 471.0L662.8 471.6L666.3 472.1L669.9 472.7L673.4 473.2L676.9 473.8L680.4 474.3L683.9 474.9L687.5 475.4L691.0 475.9L694.5 476.4L698.0 476.9L701.6 477.4L705.1 477.9L708.6 478.4L712.1 478.9L715.6 479.4L719.2 479.8L722.7 480.3L726.2 480.7L729.7 481.2L733.3 481.6L736.8 482.1L740.3 482.5L743.8 482.9L747.4 483.3L750.9 483.8L754.4 484.2L757.9 484.6L761.4 485.0L765.0 485.3L768.5 485.7L772.0 486.1L775.5 486.5L779.1 486.9L782.6 487.2L786.1 487.6" stroke="#ff0000" stroke-width="4.6"/>
</g>
<g stroke="#000" fill="none">
<rect x="89.3" y="24.8" width="692.8" height="489.4" stroke-width="2.5"/>
<path d="M104.8 24.8v8.0M220.3 24.8v8.0M377.1 24.8v8.0M533.9 24.8v8.0M690.7 24.8v8.0M782.4 24.8v8.0" stroke-width="2.3"/>
<path d="M169.9 24.8v4.6M261.6 24.8v4.6M296.4 24.8v4.6M326.6 24.8v4.6M353.3 24.8v4.6M625.6 24.8v4.6M741.1 24.8v4.6" stroke-width="1.5"/>
</g>
</svg>
<div class="t yt" style="top:14.4px">20</div>
<div class="t yt" style="top:136.7px">15</div>
<div class="t yt" style="top:258.9px">10</div>
<div class="t yt" style="top:381.2px">5</div>
<div class="t yt" style="top:503.4px">0</div>
<div class="t xt" style="left:67px">0.03</div>
<div class="t xt" style="left:182.9px">0.05</div>
<div class="t xt" style="left:339.4px">0.1</div>
<div class="t xt" style="left:496.4px">0.2</div>
<div class="t xt" style="left:653.4px">0.4</div>
<div class="t xt" style="left:745.3px">0.6</div>
<div class="t" style="left:332.5px;top:555.6px;letter-spacing:0.15px">Semimajor axis a [AU]</div>
<div class="t" style="left:-95.5px;top:259px;width:220px;text-align:center;letter-spacing:0.5px;transform:rotate(-90deg);transform-origin:center">Planet Mass [M<sub>Earth</sub>]</div>
<div class="t r" style="left:545.2px;top:59.8px">M4: p<sub>e</sub>=3</div>
<div class="t r" style="left:105.2px;top:469.3px">M<sub>bare</sub>=</div>
<div class="t r" style="left:197px;top:469.3px;letter-spacing:0.75px">5.21 (a/0.1AU)</div>
<div class="t r" style="left:343px;top:469.3px"><sup>-0.87</sup></div>
</body></html>
